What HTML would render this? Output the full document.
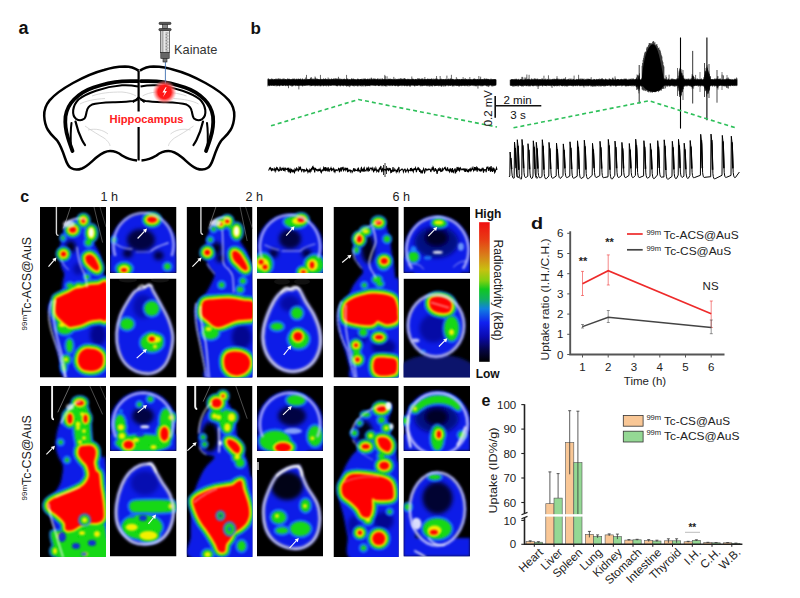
<!DOCTYPE html>
<html><head><meta charset="utf-8"><style>
html,body{margin:0;padding:0;background:#fff;}
body{width:800px;height:598px;overflow:hidden;font-family:"Liberation Sans",sans-serif;}
svg{display:block;}
</style></head><body>
<svg width="800" height="598" viewBox="0 0 800 598">
<rect width="800" height="598" fill="#fff"/>
<g>
<defs><filter id="bl2" x="-20%" y="-20%" width="140%" height="140%"><feGaussianBlur stdDeviation="2"/></filter><filter id="bl15" x="-20%" y="-20%" width="140%" height="140%"><feGaussianBlur stdDeviation="1.4"/></filter><filter id="bl12" x="-20%" y="-20%" width="140%" height="140%"><feGaussianBlur stdDeviation="1.3"/></filter><filter id="bl1" x="-20%" y="-20%" width="140%" height="140%"><feGaussianBlur stdDeviation="1.1"/></filter><filter id="bl08" x="-20%" y="-20%" width="140%" height="140%"><feGaussianBlur stdDeviation="0.9"/></filter><filter id="bl06" x="-20%" y="-20%" width="140%" height="140%"><feGaussianBlur stdDeviation="0.85"/></filter><filter id="bl05" x="-20%" y="-20%" width="140%" height="140%"><feGaussianBlur stdDeviation="0.8"/></filter><linearGradient id="cbar" x1="0" y1="0" x2="0" y2="1"><stop offset="0" stop-color="#f01010"/><stop offset="0.12" stop-color="#e83a14"/><stop offset="0.24" stop-color="#d8801a"/><stop offset="0.34" stop-color="#c8c010"/><stop offset="0.42" stop-color="#80d010"/><stop offset="0.48" stop-color="#10c820"/><stop offset="0.55" stop-color="#10b060"/><stop offset="0.62" stop-color="#1080e0"/><stop offset="0.72" stop-color="#1020f0"/><stop offset="0.82" stop-color="#0a0ab0"/><stop offset="0.92" stop-color="#050540"/><stop offset="1" stop-color="#000"/></linearGradient></defs>
<text x="20.2" y="201.8" font-family="Liberation Sans, sans-serif" font-weight="bold" font-size="16" fill="#111">c</text>
<text x="100.6" y="201.3" font-family="Liberation Sans, sans-serif" font-size="12.6" fill="#222">1 h</text>
<text x="245.4" y="201.3" font-family="Liberation Sans, sans-serif" font-size="12.6" fill="#222">2 h</text>
<text x="392.4" y="201.3" font-family="Liberation Sans, sans-serif" font-size="12.6" fill="#222">6 h</text>
<text transform="translate(31.2,330.5) rotate(-90)" font-family="Liberation Sans, sans-serif" font-size="12.4" fill="#222"><tspan font-size="8" dy="-4.3">99m</tspan><tspan dy="4.3">Tc-ACS@AuS</tspan></text>
<text transform="translate(31.2,500.5) rotate(-90)" font-family="Liberation Sans, sans-serif" font-size="12.4" fill="#222"><tspan font-size="8" dy="-4.3">99m</tspan><tspan dy="4.3">Tc-CS@AuS</tspan></text>
<rect x="479.1" y="222.2" width="10.6" height="139.6" fill="url(#cbar)"/>
<text x="474.7" y="217.8" font-family="Liberation Sans, sans-serif" font-weight="bold" font-size="12" fill="#111">High</text>
<text x="475.7" y="377.6" font-family="Liberation Sans, sans-serif" font-weight="bold" font-size="12" fill="#111">Low</text>
<text transform="translate(494,239.5) rotate(90)" font-family="Liberation Sans, sans-serif" font-size="12.2" fill="#222" textLength="101" lengthAdjust="spacingAndGlyphs">Radioactivity (kBq)</text>
<g transform="translate(40.0,207.0)"><clipPath id="cpa1"><rect width="66.0" height="170.6"/></clipPath><g clip-path="url(#cpa1)"><rect width="66.0" height="170.6" fill="#000"/><path d="M16.4,0 V26 Q16.6,28.6 18.5,28.4" fill="none" stroke="#d8d8d8" stroke-width="1.4"/><path d="M30.6,0 L23.5,21.3" fill="none" stroke="#707070" stroke-width="0.8"/><path d="M54,0 L62.6,35.6" fill="none" stroke="#606060" stroke-width="0.8"/><path d="M60,0 L66,20" fill="none" stroke="#505050" stroke-width="0.7"/><g filter="url(#bl15)"><path d="M44.0,10.5 C46.0,10.8 46.0,11.8 47.0,13.0 C48.0,14.2 48.8,14.2 50.0,18.0 C51.2,21.8 52.4,30.8 54.0,35.6 C55.6,40.4 58.3,42.3 59.7,47.0 C61.1,51.7 61.6,59.5 62.6,64.0 C63.6,68.5 65.3,68.0 66.0,74.0 C66.7,80.0 66.8,83.7 67.0,100.0 C67.2,116.3 73.8,160.0 67.0,172.0 C60.2,184.0 34.0,175.7 26.0,172.0 C18.0,168.3 20.9,157.8 18.7,150.0 C16.5,142.2 14.7,132.5 13.0,125.0 C11.3,117.5 9.3,109.7 8.6,105.0 C7.9,100.3 8.1,99.3 9.0,97.0 C9.9,94.7 12.0,93.0 14.0,91.0 C16.0,89.0 19.5,87.8 21.0,85.0 C22.5,82.2 22.3,77.0 22.8,74.0 C23.3,71.0 24.4,69.3 24.2,66.9 C23.9,64.5 22.1,63.3 21.3,59.7 C20.5,56.1 19.2,49.6 19.2,45.5 C19.1,41.4 20.3,38.6 21.0,35.0 C21.7,31.4 22.3,27.2 23.5,24.0 C24.7,20.8 26.1,18.1 28.0,16.0 C29.9,13.9 32.3,12.4 35.0,11.5 C37.7,10.6 42.0,10.2 44.0,10.5 Z" fill="#0a1ee8"/></g><g filter="url(#bl2)"><ellipse cx="30.6" cy="39.8" rx="5" ry="6" fill="#000010" opacity="0.95"/><ellipse cx="58" cy="128" rx="8" ry="11" fill="#00087a" opacity="0.8"/><ellipse cx="38" cy="62" rx="5" ry="6" fill="#00087a" opacity="0.6"/></g><g filter="url(#bl12)" opacity="0.75"><ellipse cx="32.7" cy="22.8" rx="9.0" ry="8.5" fill="#1e90ff"/><ellipse cx="43.4" cy="13.5" rx="7.5" ry="8.0" fill="#1e90ff"/><ellipse cx="51.2" cy="26" rx="7.7" ry="10.2" fill="#1e90ff"/><ellipse cx="23.5" cy="47" rx="8.1" ry="8.1" fill="#1e90ff"/><path d="M46.0,49.0 C46.8,48.2 48.7,47.3 50.0,47.5 C51.3,47.7 52.8,48.8 54.0,50.0 C55.2,51.2 56.2,53.3 57.0,55.0 C57.8,56.7 58.8,58.6 59.0,60.0 C59.2,61.4 58.7,63.0 58.0,63.5 C57.3,64.0 56.2,63.6 55.0,63.0 C53.8,62.4 52.3,61.2 51.0,60.0 C49.7,58.8 47.9,57.3 47.0,56.0 C46.1,54.7 45.7,53.2 45.5,52.0 C45.3,50.8 45.2,49.8 46.0,49.0 Z" fill="#1e90ff" stroke="#1e90ff" stroke-width="11.0" stroke-linejoin="round"/><path d="M15.8,93.6 C16.1,91.0 16.3,91.6 17.3,90.8 C18.3,90.0 20.1,89.4 22.0,88.5 C23.9,87.6 26.6,86.6 28.8,85.5 C31.0,84.4 32.6,82.8 35.0,82.0 C37.4,81.2 40.5,81.2 43.0,80.5 C45.5,79.8 47.5,78.5 50.0,78.0 C52.5,77.5 55.2,77.7 58.0,77.5 C60.8,77.3 65.5,71.4 67.0,77.0 C68.5,82.6 68.2,105.1 67.0,111.0 C65.8,116.9 62.8,112.0 60.0,112.5 C57.2,113.0 53.4,113.0 50.4,113.8 C47.4,114.6 44.9,116.5 42.0,117.5 C39.1,118.5 35.2,119.2 33.0,119.5 C30.8,119.8 30.7,120.5 28.8,119.5 C26.9,118.5 23.8,116.0 21.6,113.8 C19.4,111.6 16.8,110.0 15.8,106.6 C14.8,103.2 15.6,96.2 15.8,93.6 Z" fill="#1e90ff" stroke="#1e90ff" stroke-width="11.0" stroke-linejoin="round"/><path d="M38.0,152.0 C38.2,150.0 38.8,147.7 40.0,146.0 C41.2,144.3 43.2,142.7 45.0,142.0 C46.8,141.3 49.0,141.6 51.0,141.8 C53.0,142.0 55.2,142.1 57.0,143.0 C58.8,143.9 61.0,145.3 62.0,147.0 C63.0,148.7 63.3,151.0 63.3,153.0 C63.3,155.0 63.0,157.3 62.0,159.0 C61.0,160.7 59.0,162.2 57.0,163.0 C55.0,163.8 52.3,164.1 50.0,164.0 C47.7,163.9 44.8,163.5 43.0,162.5 C41.2,161.5 39.8,159.8 39.0,158.0 C38.2,156.2 37.8,154.0 38.0,152.0 Z" fill="#1e90ff" stroke="#1e90ff" stroke-width="11.0" stroke-linejoin="round"/><ellipse cx="29.5" cy="138.7" rx="5.4" ry="8.9" fill="#1e90ff"/><ellipse cx="25" cy="121" rx="10.4" ry="8.4" fill="#1e90ff"/><ellipse cx="22" cy="118" rx="7.2" ry="6.2" fill="#1e90ff"/><ellipse cx="26" cy="152.6" rx="6.2" ry="6.2" fill="#1e90ff"/><ellipse cx="48.4" cy="35.6" rx="5.4" ry="5.4" fill="#1e90ff"/><ellipse cx="23" cy="31" rx="3.9" ry="4.4" fill="#1e90ff"/><ellipse cx="39" cy="80" rx="7.2" ry="6.2" fill="#1e90ff"/><ellipse cx="30" cy="78.5" rx="5.4" ry="4.4" fill="#1e90ff"/><ellipse cx="47" cy="70" rx="4.4" ry="4.4" fill="#1e90ff"/><ellipse cx="24" cy="160" rx="4.4" ry="6.4" fill="#1e90ff"/></g><g filter="url(#bl1)"><ellipse cx="32.7" cy="22.8" rx="7.2" ry="6.7" fill="#12d812"/><ellipse cx="43.4" cy="13.5" rx="5.7" ry="6.2" fill="#12d812"/><ellipse cx="51.2" cy="26" rx="5.5" ry="8.0" fill="#12d812"/><ellipse cx="23.5" cy="47" rx="6.3" ry="6.3" fill="#12d812"/><path d="M46.0,49.0 C46.8,48.2 48.7,47.3 50.0,47.5 C51.3,47.7 52.8,48.8 54.0,50.0 C55.2,51.2 56.2,53.3 57.0,55.0 C57.8,56.7 58.8,58.6 59.0,60.0 C59.2,61.4 58.7,63.0 58.0,63.5 C57.3,64.0 56.2,63.6 55.0,63.0 C53.8,62.4 52.3,61.2 51.0,60.0 C49.7,58.8 47.9,57.3 47.0,56.0 C46.1,54.7 45.7,53.2 45.5,52.0 C45.3,50.8 45.2,49.8 46.0,49.0 Z" fill="#12d812" stroke="#12d812" stroke-width="7.4" stroke-linejoin="round"/><path d="M15.8,93.6 C16.1,91.0 16.3,91.6 17.3,90.8 C18.3,90.0 20.1,89.4 22.0,88.5 C23.9,87.6 26.6,86.6 28.8,85.5 C31.0,84.4 32.6,82.8 35.0,82.0 C37.4,81.2 40.5,81.2 43.0,80.5 C45.5,79.8 47.5,78.5 50.0,78.0 C52.5,77.5 55.2,77.7 58.0,77.5 C60.8,77.3 65.5,71.4 67.0,77.0 C68.5,82.6 68.2,105.1 67.0,111.0 C65.8,116.9 62.8,112.0 60.0,112.5 C57.2,113.0 53.4,113.0 50.4,113.8 C47.4,114.6 44.9,116.5 42.0,117.5 C39.1,118.5 35.2,119.2 33.0,119.5 C30.8,119.8 30.7,120.5 28.8,119.5 C26.9,118.5 23.8,116.0 21.6,113.8 C19.4,111.6 16.8,110.0 15.8,106.6 C14.8,103.2 15.6,96.2 15.8,93.6 Z" fill="#12d812" stroke="#12d812" stroke-width="7.4" stroke-linejoin="round"/><path d="M38.0,152.0 C38.2,150.0 38.8,147.7 40.0,146.0 C41.2,144.3 43.2,142.7 45.0,142.0 C46.8,141.3 49.0,141.6 51.0,141.8 C53.0,142.0 55.2,142.1 57.0,143.0 C58.8,143.9 61.0,145.3 62.0,147.0 C63.0,148.7 63.3,151.0 63.3,153.0 C63.3,155.0 63.0,157.3 62.0,159.0 C61.0,160.7 59.0,162.2 57.0,163.0 C55.0,163.8 52.3,164.1 50.0,164.0 C47.7,163.9 44.8,163.5 43.0,162.5 C41.2,161.5 39.8,159.8 39.0,158.0 C38.2,156.2 37.8,154.0 38.0,152.0 Z" fill="#12d812" stroke="#12d812" stroke-width="7.4" stroke-linejoin="round"/><ellipse cx="29.5" cy="138.7" rx="3.0" ry="6.5" fill="#12d812"/><ellipse cx="25" cy="121" rx="8.0" ry="6.0" fill="#12d812"/><ellipse cx="22" cy="118" rx="5.0" ry="4.0" fill="#12d812"/><ellipse cx="26" cy="152.6" rx="4.0" ry="4.0" fill="#12d812"/><ellipse cx="48.4" cy="35.6" rx="3.0" ry="3.0" fill="#12d812"/><ellipse cx="23" cy="31" rx="1.5" ry="2.0" fill="#12d812"/><ellipse cx="39" cy="80" rx="5.0" ry="4.0" fill="#12d812"/><ellipse cx="30" cy="78.5" rx="3.0" ry="2.0" fill="#12d812"/><ellipse cx="47" cy="70" rx="2.0" ry="2.0" fill="#12d812"/><ellipse cx="24" cy="160" rx="2.0" ry="4.0" fill="#12d812"/></g><g filter="url(#bl08)"><ellipse cx="32.7" cy="22.8" rx="5.4" ry="4.9" fill="#f2f000"/><ellipse cx="43.4" cy="13.5" rx="3.9" ry="4.4" fill="#f2f000"/><ellipse cx="51.2" cy="26" rx="3.5" ry="6.0" fill="#f2f000"/><ellipse cx="23.5" cy="47" rx="4.5" ry="4.5" fill="#f2f000"/><path d="M46.0,49.0 C46.8,48.2 48.7,47.3 50.0,47.5 C51.3,47.7 52.8,48.8 54.0,50.0 C55.2,51.2 56.2,53.3 57.0,55.0 C57.8,56.7 58.8,58.6 59.0,60.0 C59.2,61.4 58.7,63.0 58.0,63.5 C57.3,64.0 56.2,63.6 55.0,63.0 C53.8,62.4 52.3,61.2 51.0,60.0 C49.7,58.8 47.9,57.3 47.0,56.0 C46.1,54.7 45.7,53.2 45.5,52.0 C45.3,50.8 45.2,49.8 46.0,49.0 Z" fill="#f2f000" stroke="#f2f000" stroke-width="3.8" stroke-linejoin="round"/><path d="M15.8,93.6 C16.1,91.0 16.3,91.6 17.3,90.8 C18.3,90.0 20.1,89.4 22.0,88.5 C23.9,87.6 26.6,86.6 28.8,85.5 C31.0,84.4 32.6,82.8 35.0,82.0 C37.4,81.2 40.5,81.2 43.0,80.5 C45.5,79.8 47.5,78.5 50.0,78.0 C52.5,77.5 55.2,77.7 58.0,77.5 C60.8,77.3 65.5,71.4 67.0,77.0 C68.5,82.6 68.2,105.1 67.0,111.0 C65.8,116.9 62.8,112.0 60.0,112.5 C57.2,113.0 53.4,113.0 50.4,113.8 C47.4,114.6 44.9,116.5 42.0,117.5 C39.1,118.5 35.2,119.2 33.0,119.5 C30.8,119.8 30.7,120.5 28.8,119.5 C26.9,118.5 23.8,116.0 21.6,113.8 C19.4,111.6 16.8,110.0 15.8,106.6 C14.8,103.2 15.6,96.2 15.8,93.6 Z" fill="#f2f000" stroke="#f2f000" stroke-width="3.8" stroke-linejoin="round"/><path d="M38.0,152.0 C38.2,150.0 38.8,147.7 40.0,146.0 C41.2,144.3 43.2,142.7 45.0,142.0 C46.8,141.3 49.0,141.6 51.0,141.8 C53.0,142.0 55.2,142.1 57.0,143.0 C58.8,143.9 61.0,145.3 62.0,147.0 C63.0,148.7 63.3,151.0 63.3,153.0 C63.3,155.0 63.0,157.3 62.0,159.0 C61.0,160.7 59.0,162.2 57.0,163.0 C55.0,163.8 52.3,164.1 50.0,164.0 C47.7,163.9 44.8,163.5 43.0,162.5 C41.2,161.5 39.8,159.8 39.0,158.0 C38.2,156.2 37.8,154.0 38.0,152.0 Z" fill="#f2f000" stroke="#f2f000" stroke-width="3.8" stroke-linejoin="round"/><ellipse cx="22" cy="118" rx="3.0" ry="2.0" fill="#f2f000"/><ellipse cx="26" cy="152.6" rx="2.0" ry="2.0" fill="#f2f000"/><ellipse cx="39" cy="80" rx="3.0" ry="2.0" fill="#f2f000"/></g><g filter="url(#bl06)"><ellipse cx="32.7" cy="22.8" rx="3.5" ry="3.0" fill="#ff0000"/><ellipse cx="43.4" cy="13.5" rx="2.0" ry="2.5" fill="#ff0000"/><ellipse cx="23.5" cy="47" rx="2.6" ry="2.6" fill="#ff0000"/><path d="M46.0,49.0 C46.8,48.2 48.7,47.3 50.0,47.5 C51.3,47.7 52.8,48.8 54.0,50.0 C55.2,51.2 56.2,53.3 57.0,55.0 C57.8,56.7 58.8,58.6 59.0,60.0 C59.2,61.4 58.7,63.0 58.0,63.5 C57.3,64.0 56.2,63.6 55.0,63.0 C53.8,62.4 52.3,61.2 51.0,60.0 C49.7,58.8 47.9,57.3 47.0,56.0 C46.1,54.7 45.7,53.2 45.5,52.0 C45.3,50.8 45.2,49.8 46.0,49.0 Z" fill="#ff0000"/><path d="M15.8,93.6 C16.1,91.0 16.3,91.6 17.3,90.8 C18.3,90.0 20.1,89.4 22.0,88.5 C23.9,87.6 26.6,86.6 28.8,85.5 C31.0,84.4 32.6,82.8 35.0,82.0 C37.4,81.2 40.5,81.2 43.0,80.5 C45.5,79.8 47.5,78.5 50.0,78.0 C52.5,77.5 55.2,77.7 58.0,77.5 C60.8,77.3 65.5,71.4 67.0,77.0 C68.5,82.6 68.2,105.1 67.0,111.0 C65.8,116.9 62.8,112.0 60.0,112.5 C57.2,113.0 53.4,113.0 50.4,113.8 C47.4,114.6 44.9,116.5 42.0,117.5 C39.1,118.5 35.2,119.2 33.0,119.5 C30.8,119.8 30.7,120.5 28.8,119.5 C26.9,118.5 23.8,116.0 21.6,113.8 C19.4,111.6 16.8,110.0 15.8,106.6 C14.8,103.2 15.6,96.2 15.8,93.6 Z" fill="#ff0000"/><path d="M38.0,152.0 C38.2,150.0 38.8,147.7 40.0,146.0 C41.2,144.3 43.2,142.7 45.0,142.0 C46.8,141.3 49.0,141.6 51.0,141.8 C53.0,142.0 55.2,142.1 57.0,143.0 C58.8,143.9 61.0,145.3 62.0,147.0 C63.0,148.7 63.3,151.0 63.3,153.0 C63.3,155.0 63.0,157.3 62.0,159.0 C61.0,160.7 59.0,162.2 57.0,163.0 C55.0,163.8 52.3,164.1 50.0,164.0 C47.7,163.9 44.8,163.5 43.0,162.5 C41.2,161.5 39.8,159.8 39.0,158.0 C38.2,156.2 37.8,154.0 38.0,152.0 Z" fill="#ff0000"/></g><g filter="url(#bl1)"><ellipse cx="51.2" cy="25.6" rx="2.3" ry="4.6" fill="#fff" opacity="0.95"/><ellipse cx="29" cy="17" rx="6" ry="3.5" fill="#e8e8ff" opacity="0.75"/></g><g filter="url(#bl05)"><path d="M23.5,21.3 C26,16 30,13 35,12 C39,11 42,10.5 45.5,12.8" fill="none" stroke="#fff" stroke-width="1.3" stroke-opacity="0.9" stroke-linecap="round"/><path d="M21,52 C23,57 25,60 28.4,62.6" fill="none" stroke="#fff" stroke-width="1.0" stroke-opacity="0.8" stroke-linecap="round"/><path d="M37,40 C38,50 40,58 42,62 C45,67 46.5,73 47,80" fill="none" stroke="#fff" stroke-width="1.1" stroke-opacity="0.85" stroke-linecap="round"/><path d="M12,94 C9,100 8.5,108 9.5,115 C11,125 15,135 18.7,145 C21,155 23.5,163 25,171" fill="none" stroke="#fff" stroke-width="1.6" stroke-opacity="0.75" stroke-linecap="round" stroke-dasharray="2,1.6"/><path d="M15,93 C13.5,100 13,110 14.5,118 C16.5,130 20,140 22.5,150 C24,158 25,165 26,171" fill="none" stroke="#fff" stroke-width="1.3" stroke-opacity="0.9" stroke-linecap="round"/></g><line x1="8.5" y1="59.7" x2="13.9" y2="53.4" stroke="#fff" stroke-width="1.1"/><path d="M16.4,50.5 L15.5,54.8 L12.3,52.0 Z" fill="#fff"/></g></g>
<g transform="translate(186.6,207.0)"><clipPath id="cpb1"><rect width="65.9" height="170.6"/></clipPath><g clip-path="url(#cpb1)"><rect width="65.9" height="170.6" fill="#000"/><path d="M14.3,0 V25 Q14.5,27.5 16.5,27.3" fill="none" stroke="#d8d8d8" stroke-width="1.4"/><path d="M29.3,0 L22.9,18.5" fill="none" stroke="#707070" stroke-width="0.8"/><path d="M53.5,0 L60.6,34" fill="none" stroke="#606060" stroke-width="0.8"/><path d="M59,0 L65.9,22" fill="none" stroke="#505050" stroke-width="0.7"/><g filter="url(#bl15)"><path d="M40.7,9.5 C42.7,9.4 42.8,9.5 44.0,11.0 C45.2,12.5 46.2,14.7 47.8,18.5 C49.4,22.3 51.4,29.5 53.5,34.0 C55.6,38.5 58.7,41.2 60.6,45.5 C62.5,49.8 63.8,56.1 64.8,59.7 C65.8,63.3 66.0,48.3 66.4,67.0 C66.8,85.7 74.6,154.5 67.0,172.0 C59.4,189.5 29.2,174.0 21.0,172.0 C12.8,170.0 19.0,164.9 18.0,160.0 C17.0,155.1 16.2,148.3 15.0,142.5 C13.8,136.7 12.1,130.4 11.0,125.0 C9.9,119.6 8.9,114.2 8.5,110.0 C8.1,105.8 7.9,102.7 8.5,100.0 C9.1,97.3 10.4,96.0 12.0,94.0 C13.6,92.0 16.0,90.7 18.0,88.0 C20.0,85.3 22.4,81.3 24.0,78.0 C25.6,74.7 27.8,70.6 27.9,68.0 C27.9,65.4 25.5,64.5 24.3,62.6 C23.1,60.8 21.6,60.2 20.7,56.9 C19.8,53.6 18.7,46.9 18.6,42.7 C18.5,38.6 19.3,35.1 20.0,32.0 C20.7,28.9 21.9,26.5 22.9,24.0 C23.9,21.5 24.5,19.1 26.0,17.0 C27.5,14.9 29.7,12.7 32.1,11.4 C34.6,10.2 38.7,9.6 40.7,9.5 Z" fill="#0a1ee8"/></g><g filter="url(#bl2)"><ellipse cx="30" cy="41.3" rx="5" ry="6" fill="#000010" opacity="0.95"/><ellipse cx="33.5" cy="51.2" rx="4" ry="4" fill="#000020" opacity="0.9"/><ellipse cx="55" cy="130" rx="10" ry="12" fill="#00087a" opacity="0.8"/></g><g filter="url(#bl12)" opacity="0.75"><ellipse cx="40.7" cy="14.2" rx="7.5" ry="7.5" fill="#1e90ff"/><ellipse cx="34.3" cy="17" rx="7.0" ry="7.0" fill="#1e90ff"/><ellipse cx="49.9" cy="24.5" rx="7.7" ry="10.2" fill="#1e90ff"/><ellipse cx="23.6" cy="32.7" rx="4.4" ry="4.4" fill="#1e90ff"/><ellipse cx="20.7" cy="45.5" rx="8.3" ry="8.3" fill="#1e90ff"/><path d="M46.0,45.0 C46.5,44.0 47.8,43.8 49.0,44.0 C50.2,44.2 51.8,45.3 53.0,46.5 C54.2,47.7 55.0,49.4 56.0,51.0 C57.0,52.6 58.2,54.3 59.0,56.0 C59.8,57.7 60.9,59.8 61.0,61.0 C61.1,62.2 60.3,63.3 59.5,63.5 C58.7,63.7 57.2,62.9 56.0,62.0 C54.8,61.1 53.3,59.3 52.0,58.0 C50.7,56.7 49.0,55.3 48.0,54.0 C47.0,52.7 46.3,51.5 46.0,50.0 C45.7,48.5 45.5,46.0 46.0,45.0 Z" fill="#1e90ff" stroke="#1e90ff" stroke-width="11.0" stroke-linejoin="round"/><path d="M15.2,99.4 C15.7,97.0 15.9,94.8 18.1,93.6 C20.3,92.4 24.1,92.5 28.2,92.2 C32.3,91.9 37.7,91.3 42.5,91.5 C47.3,91.7 52.9,92.8 57.0,93.6 C61.1,94.3 65.3,93.3 67.0,96.0 C68.7,98.7 67.5,107.3 67.0,110.0 C66.5,112.7 67.0,111.7 64.1,112.3 C61.2,112.9 54.5,112.6 49.7,113.8 C44.9,115.0 38.9,118.5 35.3,119.5 C31.7,120.5 30.6,120.5 28.2,119.5 C25.8,118.5 23.2,115.7 21.0,113.8 C18.8,111.9 16.2,110.4 15.2,108.0 C14.2,105.6 14.7,101.8 15.2,99.4 Z" fill="#1e90ff" stroke="#1e90ff" stroke-width="11.0" stroke-linejoin="round"/><ellipse cx="24" cy="126" rx="10.4" ry="8.4" fill="#1e90ff"/><ellipse cx="22" cy="122" rx="7.2" ry="6.2" fill="#1e90ff"/><path d="M38.0,150.0 C38.6,148.3 39.5,146.9 41.0,146.0 C42.5,145.1 44.8,144.7 47.0,144.5 C49.2,144.3 51.8,144.4 54.0,145.0 C56.2,145.6 58.4,146.5 60.0,148.0 C61.6,149.5 63.0,151.8 63.4,154.0 C63.8,156.2 63.4,159.0 62.5,161.0 C61.6,163.0 59.9,164.8 58.0,166.0 C56.1,167.2 53.3,168.2 51.0,168.4 C48.7,168.6 46.0,168.1 44.0,167.0 C42.0,165.9 40.1,163.8 39.0,162.0 C37.9,160.2 37.7,158.0 37.5,156.0 C37.3,154.0 37.4,151.7 38.0,150.0 Z" fill="#1e90ff" stroke="#1e90ff" stroke-width="11.0" stroke-linejoin="round"/><ellipse cx="35" cy="78" rx="4.9" ry="4.9" fill="#1e90ff"/><ellipse cx="56.3" cy="74" rx="4.9" ry="4.9" fill="#1e90ff"/><ellipse cx="53.5" cy="82.5" rx="5.4" ry="4.9" fill="#1e90ff"/><ellipse cx="27" cy="22" rx="4.4" ry="4.4" fill="#1e90ff"/><ellipse cx="44" cy="20" rx="4.4" ry="4.4" fill="#1e90ff"/></g><g filter="url(#bl1)"><ellipse cx="40.7" cy="14.2" rx="5.7" ry="5.7" fill="#12d812"/><ellipse cx="34.3" cy="17" rx="5.2" ry="5.2" fill="#12d812"/><ellipse cx="49.9" cy="24.5" rx="5.5" ry="8.0" fill="#12d812"/><ellipse cx="23.6" cy="32.7" rx="2.0" ry="2.0" fill="#12d812"/><ellipse cx="20.7" cy="45.5" rx="6.5" ry="6.5" fill="#12d812"/><path d="M46.0,45.0 C46.5,44.0 47.8,43.8 49.0,44.0 C50.2,44.2 51.8,45.3 53.0,46.5 C54.2,47.7 55.0,49.4 56.0,51.0 C57.0,52.6 58.2,54.3 59.0,56.0 C59.8,57.7 60.9,59.8 61.0,61.0 C61.1,62.2 60.3,63.3 59.5,63.5 C58.7,63.7 57.2,62.9 56.0,62.0 C54.8,61.1 53.3,59.3 52.0,58.0 C50.7,56.7 49.0,55.3 48.0,54.0 C47.0,52.7 46.3,51.5 46.0,50.0 C45.7,48.5 45.5,46.0 46.0,45.0 Z" fill="#12d812" stroke="#12d812" stroke-width="7.4" stroke-linejoin="round"/><path d="M15.2,99.4 C15.7,97.0 15.9,94.8 18.1,93.6 C20.3,92.4 24.1,92.5 28.2,92.2 C32.3,91.9 37.7,91.3 42.5,91.5 C47.3,91.7 52.9,92.8 57.0,93.6 C61.1,94.3 65.3,93.3 67.0,96.0 C68.7,98.7 67.5,107.3 67.0,110.0 C66.5,112.7 67.0,111.7 64.1,112.3 C61.2,112.9 54.5,112.6 49.7,113.8 C44.9,115.0 38.9,118.5 35.3,119.5 C31.7,120.5 30.6,120.5 28.2,119.5 C25.8,118.5 23.2,115.7 21.0,113.8 C18.8,111.9 16.2,110.4 15.2,108.0 C14.2,105.6 14.7,101.8 15.2,99.4 Z" fill="#12d812" stroke="#12d812" stroke-width="7.4" stroke-linejoin="round"/><ellipse cx="24" cy="126" rx="8.0" ry="6.0" fill="#12d812"/><ellipse cx="22" cy="122" rx="5.0" ry="4.0" fill="#12d812"/><path d="M38.0,150.0 C38.6,148.3 39.5,146.9 41.0,146.0 C42.5,145.1 44.8,144.7 47.0,144.5 C49.2,144.3 51.8,144.4 54.0,145.0 C56.2,145.6 58.4,146.5 60.0,148.0 C61.6,149.5 63.0,151.8 63.4,154.0 C63.8,156.2 63.4,159.0 62.5,161.0 C61.6,163.0 59.9,164.8 58.0,166.0 C56.1,167.2 53.3,168.2 51.0,168.4 C48.7,168.6 46.0,168.1 44.0,167.0 C42.0,165.9 40.1,163.8 39.0,162.0 C37.9,160.2 37.7,158.0 37.5,156.0 C37.3,154.0 37.4,151.7 38.0,150.0 Z" fill="#12d812" stroke="#12d812" stroke-width="7.4" stroke-linejoin="round"/><ellipse cx="35" cy="78" rx="2.5" ry="2.5" fill="#12d812"/><ellipse cx="56.3" cy="74" rx="2.5" ry="2.5" fill="#12d812"/><ellipse cx="53.5" cy="82.5" rx="3.0" ry="2.5" fill="#12d812"/><ellipse cx="27" cy="22" rx="2.0" ry="2.0" fill="#12d812"/><ellipse cx="44" cy="20" rx="2.0" ry="2.0" fill="#12d812"/></g><g filter="url(#bl08)"><ellipse cx="40.7" cy="14.2" rx="3.9" ry="3.9" fill="#f2f000"/><ellipse cx="34.3" cy="17" rx="3.4" ry="3.4" fill="#f2f000"/><ellipse cx="49.9" cy="24.5" rx="3.5" ry="6.0" fill="#f2f000"/><ellipse cx="20.7" cy="45.5" rx="4.7" ry="4.7" fill="#f2f000"/><path d="M46.0,45.0 C46.5,44.0 47.8,43.8 49.0,44.0 C50.2,44.2 51.8,45.3 53.0,46.5 C54.2,47.7 55.0,49.4 56.0,51.0 C57.0,52.6 58.2,54.3 59.0,56.0 C59.8,57.7 60.9,59.8 61.0,61.0 C61.1,62.2 60.3,63.3 59.5,63.5 C58.7,63.7 57.2,62.9 56.0,62.0 C54.8,61.1 53.3,59.3 52.0,58.0 C50.7,56.7 49.0,55.3 48.0,54.0 C47.0,52.7 46.3,51.5 46.0,50.0 C45.7,48.5 45.5,46.0 46.0,45.0 Z" fill="#f2f000" stroke="#f2f000" stroke-width="3.8" stroke-linejoin="round"/><path d="M15.2,99.4 C15.7,97.0 15.9,94.8 18.1,93.6 C20.3,92.4 24.1,92.5 28.2,92.2 C32.3,91.9 37.7,91.3 42.5,91.5 C47.3,91.7 52.9,92.8 57.0,93.6 C61.1,94.3 65.3,93.3 67.0,96.0 C68.7,98.7 67.5,107.3 67.0,110.0 C66.5,112.7 67.0,111.7 64.1,112.3 C61.2,112.9 54.5,112.6 49.7,113.8 C44.9,115.0 38.9,118.5 35.3,119.5 C31.7,120.5 30.6,120.5 28.2,119.5 C25.8,118.5 23.2,115.7 21.0,113.8 C18.8,111.9 16.2,110.4 15.2,108.0 C14.2,105.6 14.7,101.8 15.2,99.4 Z" fill="#f2f000" stroke="#f2f000" stroke-width="3.8" stroke-linejoin="round"/><ellipse cx="22" cy="122" rx="3.0" ry="2.0" fill="#f2f000"/><path d="M38.0,150.0 C38.6,148.3 39.5,146.9 41.0,146.0 C42.5,145.1 44.8,144.7 47.0,144.5 C49.2,144.3 51.8,144.4 54.0,145.0 C56.2,145.6 58.4,146.5 60.0,148.0 C61.6,149.5 63.0,151.8 63.4,154.0 C63.8,156.2 63.4,159.0 62.5,161.0 C61.6,163.0 59.9,164.8 58.0,166.0 C56.1,167.2 53.3,168.2 51.0,168.4 C48.7,168.6 46.0,168.1 44.0,167.0 C42.0,165.9 40.1,163.8 39.0,162.0 C37.9,160.2 37.7,158.0 37.5,156.0 C37.3,154.0 37.4,151.7 38.0,150.0 Z" fill="#f2f000" stroke="#f2f000" stroke-width="3.8" stroke-linejoin="round"/></g><g filter="url(#bl06)"><ellipse cx="40.7" cy="14.2" rx="2.0" ry="2.0" fill="#ff0000"/><ellipse cx="34.3" cy="17" rx="1.5" ry="1.5" fill="#ff0000"/><ellipse cx="20.7" cy="45.5" rx="2.8" ry="2.8" fill="#ff0000"/><path d="M46.0,45.0 C46.5,44.0 47.8,43.8 49.0,44.0 C50.2,44.2 51.8,45.3 53.0,46.5 C54.2,47.7 55.0,49.4 56.0,51.0 C57.0,52.6 58.2,54.3 59.0,56.0 C59.8,57.7 60.9,59.8 61.0,61.0 C61.1,62.2 60.3,63.3 59.5,63.5 C58.7,63.7 57.2,62.9 56.0,62.0 C54.8,61.1 53.3,59.3 52.0,58.0 C50.7,56.7 49.0,55.3 48.0,54.0 C47.0,52.7 46.3,51.5 46.0,50.0 C45.7,48.5 45.5,46.0 46.0,45.0 Z" fill="#ff0000"/><path d="M15.2,99.4 C15.7,97.0 15.9,94.8 18.1,93.6 C20.3,92.4 24.1,92.5 28.2,92.2 C32.3,91.9 37.7,91.3 42.5,91.5 C47.3,91.7 52.9,92.8 57.0,93.6 C61.1,94.3 65.3,93.3 67.0,96.0 C68.7,98.7 67.5,107.3 67.0,110.0 C66.5,112.7 67.0,111.7 64.1,112.3 C61.2,112.9 54.5,112.6 49.7,113.8 C44.9,115.0 38.9,118.5 35.3,119.5 C31.7,120.5 30.6,120.5 28.2,119.5 C25.8,118.5 23.2,115.7 21.0,113.8 C18.8,111.9 16.2,110.4 15.2,108.0 C14.2,105.6 14.7,101.8 15.2,99.4 Z" fill="#ff0000"/><path d="M38.0,150.0 C38.6,148.3 39.5,146.9 41.0,146.0 C42.5,145.1 44.8,144.7 47.0,144.5 C49.2,144.3 51.8,144.4 54.0,145.0 C56.2,145.6 58.4,146.5 60.0,148.0 C61.6,149.5 63.0,151.8 63.4,154.0 C63.8,156.2 63.4,159.0 62.5,161.0 C61.6,163.0 59.9,164.8 58.0,166.0 C56.1,167.2 53.3,168.2 51.0,168.4 C48.7,168.6 46.0,168.1 44.0,167.0 C42.0,165.9 40.1,163.8 39.0,162.0 C37.9,160.2 37.7,158.0 37.5,156.0 C37.3,154.0 37.4,151.7 38.0,150.0 Z" fill="#ff0000"/></g><g filter="url(#bl1)"><ellipse cx="49.9" cy="24.2" rx="2.3" ry="4.6" fill="#fff" opacity="0.95"/><ellipse cx="29" cy="16" rx="5.5" ry="3.2" fill="#e8e8ff" opacity="0.75"/></g><g filter="url(#bl05)"><path d="M22.9,21.3 C25,16 28,12.5 32.1,11.4 C36,10 39,9.8 43.5,12" fill="none" stroke="#fff" stroke-width="1.3" stroke-opacity="0.9" stroke-linecap="round"/><path d="M35.7,22.8 C36.2,30 36.4,45 36.4,54 C37,58 38.5,60 40.7,61.2 C43.5,64 46,68 46.3,71 C46.8,76 47,80 47,85" fill="none" stroke="#fff" stroke-width="1.1" stroke-opacity="0.85" stroke-linecap="round"/><path d="M20.7,56.9 C22,60 24,62 27.9,66.9" fill="none" stroke="#fff" stroke-width="1.0" stroke-opacity="0.8" stroke-linecap="round"/><path d="M9.5,96.5 C8,105 9.5,120 12,130 C14,140 16,150 18,160 L20,171" fill="none" stroke="#fff" stroke-width="1.5" stroke-opacity="0.75" stroke-linecap="round" stroke-dasharray="2,1.6"/><path d="M13.8,99.4 C14,110 16,125 19,135 C20.5,145 21.5,160 22.4,171" fill="none" stroke="#fff" stroke-width="1.3" stroke-opacity="0.9" stroke-linecap="round"/></g><line x1="5.8" y1="59.7" x2="12.3" y2="53.2" stroke="#fff" stroke-width="1.1"/><path d="M15,50.5 L13.8,54.7 L10.8,51.7 Z" fill="#fff"/></g></g>
<g transform="translate(333.5,207.0)"><clipPath id="cpc1"><rect width="65.2" height="170.6"/></clipPath><g clip-path="url(#cpc1)"><rect width="65.2" height="170.6" fill="#000"/><g filter="url(#bl15)"><path d="M45.0,13.0 C46.8,12.9 49.3,12.8 50.7,14.2 C52.1,15.6 52.5,18.4 53.5,21.3 C54.5,24.2 55.7,27.7 56.4,31.3 C57.1,34.9 57.3,39.4 57.8,42.7 C58.3,46.0 58.7,48.4 59.2,51.2 C59.7,54.0 60.2,56.4 60.7,59.7 C61.2,63.0 61.2,67.7 62.1,71.1 C63.0,74.5 65.3,63.2 66.0,80.0 C66.7,96.8 73.7,156.7 66.0,172.0 C58.3,187.3 28.3,174.0 20.0,172.0 C11.7,170.0 17.3,164.5 16.0,160.0 C14.7,155.5 13.5,150.0 12.0,145.0 C10.5,140.0 8.4,135.0 7.0,130.0 C5.6,125.0 4.2,119.3 3.8,115.0 C3.4,110.7 3.8,107.2 4.5,104.0 C5.2,100.8 6.4,98.3 8.0,96.0 C9.6,93.7 12.3,92.3 14.0,90.0 C15.7,87.7 16.9,84.2 18.0,82.0 C19.1,79.8 19.5,78.8 20.8,76.8 C22.1,74.8 24.6,71.9 26.0,70.0 C27.4,68.1 29.1,66.9 29.4,65.4 C29.7,63.9 28.9,62.9 28.0,61.2 C27.1,59.6 24.9,57.4 23.7,55.5 C22.5,53.6 21.4,51.9 20.8,49.8 C20.2,47.7 20.0,45.6 20.1,42.7 C20.2,39.9 20.4,35.6 21.5,32.7 C22.6,29.9 24.2,27.7 26.5,25.6 C28.8,23.5 32.8,21.8 35.0,20.0 C37.2,18.2 38.3,16.2 40.0,15.0 C41.7,13.8 43.2,13.1 45.0,13.0 Z" fill="#0a1ee8"/></g><g filter="url(#bl2)"><ellipse cx="34.5" cy="42" rx="6.5" ry="14" fill="#000008" opacity="0.95"/><ellipse cx="50" cy="140" rx="12" ry="8" fill="#00087a" opacity="0.8"/><ellipse cx="28" cy="132" rx="6" ry="5" fill="#00087a" opacity="0.6"/></g><g filter="url(#bl12)" opacity="0.75"><ellipse cx="45" cy="15.6" rx="8.5" ry="7.5" fill="#1e90ff"/><ellipse cx="25.8" cy="32" rx="8.0" ry="9.0" fill="#1e90ff"/><ellipse cx="32.2" cy="24.2" rx="7.2" ry="6.2" fill="#1e90ff"/><ellipse cx="23" cy="42.7" rx="4.4" ry="5.4" fill="#1e90ff"/><ellipse cx="53.5" cy="32" rx="5.4" ry="5.4" fill="#1e90ff"/><ellipse cx="50" cy="57" rx="7.4" ry="7.4" fill="#1e90ff"/><ellipse cx="50.7" cy="54" rx="9.0" ry="8.5" fill="#1e90ff"/><ellipse cx="43.6" cy="72.5" rx="6.4" ry="5.4" fill="#1e90ff"/><ellipse cx="46.4" cy="76.8" rx="5.4" ry="4.4" fill="#1e90ff"/><ellipse cx="30.8" cy="78.2" rx="4.4" ry="4.4" fill="#1e90ff"/><path d="M11.0,99.4 C11.6,97.5 12.2,96.4 13.9,95.0 C15.6,93.6 18.3,92.0 21.0,90.8 C23.7,89.6 27.1,88.7 30.0,88.0 C32.9,87.3 35.0,86.5 38.3,86.4 C41.6,86.3 46.2,86.5 49.8,87.2 C53.4,87.9 57.6,88.8 59.9,90.8 C62.2,92.8 62.8,96.9 63.5,99.4 C64.2,101.9 64.0,103.6 64.0,106.0 C64.0,108.4 65.2,111.9 63.5,113.8 C61.9,115.7 56.9,117.2 54.1,117.4 C51.4,117.6 48.7,115.6 47.0,115.0 C45.3,114.4 45.6,113.3 44.1,113.8 C42.6,114.3 41.4,117.4 38.3,118.0 C35.2,118.6 29.7,118.1 25.4,117.4 C21.1,116.7 14.9,115.6 12.4,113.8 C9.9,112.0 10.5,109.0 10.3,106.6 C10.1,104.2 10.4,101.3 11.0,99.4 Z" fill="#1e90ff" stroke="#1e90ff" stroke-width="11.0" stroke-linejoin="round"/><ellipse cx="29.7" cy="125.3" rx="5.9" ry="5.9" fill="#1e90ff"/><ellipse cx="45.5" cy="130.3" rx="9.5" ry="7.7" fill="#1e90ff"/><ellipse cx="23" cy="145" rx="5.4" ry="14.4" fill="#1e90ff"/><ellipse cx="22.5" cy="138.2" rx="7.5" ry="7.5" fill="#1e90ff"/><ellipse cx="24" cy="152.6" rx="7.8" ry="7.8" fill="#1e90ff"/><path d="M39.8,158.0 C40.0,155.8 40.6,152.8 42.0,151.5 C43.4,150.2 45.7,150.5 48.0,150.4 C50.3,150.3 53.6,150.6 56.0,151.0 C58.4,151.4 61.2,151.5 62.5,153.0 C63.8,154.5 63.6,157.8 63.5,160.0 C63.4,162.2 63.4,164.6 62.0,166.0 C60.6,167.4 57.7,168.0 55.0,168.4 C52.3,168.8 48.3,169.0 46.0,168.4 C43.7,167.8 42.0,166.7 41.0,165.0 C40.0,163.3 39.6,160.2 39.8,158.0 Z" fill="#1e90ff" stroke="#1e90ff" stroke-width="11.0" stroke-linejoin="round"/></g><g filter="url(#bl1)"><ellipse cx="45" cy="15.6" rx="6.7" ry="5.7" fill="#12d812"/><ellipse cx="25.8" cy="32" rx="6.2" ry="7.2" fill="#12d812"/><ellipse cx="32.2" cy="24.2" rx="5.0" ry="4.0" fill="#12d812"/><ellipse cx="23" cy="42.7" rx="2.0" ry="3.0" fill="#12d812"/><ellipse cx="53.5" cy="32" rx="3.0" ry="3.0" fill="#12d812"/><ellipse cx="50" cy="57" rx="5.0" ry="5.0" fill="#12d812"/><ellipse cx="50.7" cy="54" rx="7.2" ry="6.7" fill="#12d812"/><ellipse cx="43.6" cy="72.5" rx="4.0" ry="3.0" fill="#12d812"/><ellipse cx="46.4" cy="76.8" rx="3.0" ry="2.0" fill="#12d812"/><ellipse cx="30.8" cy="78.2" rx="2.0" ry="2.0" fill="#12d812"/><path d="M11.0,99.4 C11.6,97.5 12.2,96.4 13.9,95.0 C15.6,93.6 18.3,92.0 21.0,90.8 C23.7,89.6 27.1,88.7 30.0,88.0 C32.9,87.3 35.0,86.5 38.3,86.4 C41.6,86.3 46.2,86.5 49.8,87.2 C53.4,87.9 57.6,88.8 59.9,90.8 C62.2,92.8 62.8,96.9 63.5,99.4 C64.2,101.9 64.0,103.6 64.0,106.0 C64.0,108.4 65.2,111.9 63.5,113.8 C61.9,115.7 56.9,117.2 54.1,117.4 C51.4,117.6 48.7,115.6 47.0,115.0 C45.3,114.4 45.6,113.3 44.1,113.8 C42.6,114.3 41.4,117.4 38.3,118.0 C35.2,118.6 29.7,118.1 25.4,117.4 C21.1,116.7 14.9,115.6 12.4,113.8 C9.9,112.0 10.5,109.0 10.3,106.6 C10.1,104.2 10.4,101.3 11.0,99.4 Z" fill="#12d812" stroke="#12d812" stroke-width="7.4" stroke-linejoin="round"/><ellipse cx="29.7" cy="125.3" rx="3.5" ry="3.5" fill="#12d812"/><ellipse cx="45.5" cy="130.3" rx="7.7" ry="5.9" fill="#12d812"/><ellipse cx="23" cy="145" rx="3.0" ry="12.0" fill="#12d812"/><ellipse cx="22.5" cy="138.2" rx="5.7" ry="5.7" fill="#12d812"/><ellipse cx="24" cy="152.6" rx="6.0" ry="6.0" fill="#12d812"/><path d="M39.8,158.0 C40.0,155.8 40.6,152.8 42.0,151.5 C43.4,150.2 45.7,150.5 48.0,150.4 C50.3,150.3 53.6,150.6 56.0,151.0 C58.4,151.4 61.2,151.5 62.5,153.0 C63.8,154.5 63.6,157.8 63.5,160.0 C63.4,162.2 63.4,164.6 62.0,166.0 C60.6,167.4 57.7,168.0 55.0,168.4 C52.3,168.8 48.3,169.0 46.0,168.4 C43.7,167.8 42.0,166.7 41.0,165.0 C40.0,163.3 39.6,160.2 39.8,158.0 Z" fill="#12d812" stroke="#12d812" stroke-width="7.4" stroke-linejoin="round"/></g><g filter="url(#bl08)"><ellipse cx="45" cy="15.6" rx="4.9" ry="3.9" fill="#f2f000"/><ellipse cx="25.8" cy="32" rx="4.4" ry="5.4" fill="#f2f000"/><ellipse cx="32.2" cy="24.2" rx="3.0" ry="2.0" fill="#f2f000"/><ellipse cx="50.7" cy="54" rx="5.4" ry="4.9" fill="#f2f000"/><path d="M11.0,99.4 C11.6,97.5 12.2,96.4 13.9,95.0 C15.6,93.6 18.3,92.0 21.0,90.8 C23.7,89.6 27.1,88.7 30.0,88.0 C32.9,87.3 35.0,86.5 38.3,86.4 C41.6,86.3 46.2,86.5 49.8,87.2 C53.4,87.9 57.6,88.8 59.9,90.8 C62.2,92.8 62.8,96.9 63.5,99.4 C64.2,101.9 64.0,103.6 64.0,106.0 C64.0,108.4 65.2,111.9 63.5,113.8 C61.9,115.7 56.9,117.2 54.1,117.4 C51.4,117.6 48.7,115.6 47.0,115.0 C45.3,114.4 45.6,113.3 44.1,113.8 C42.6,114.3 41.4,117.4 38.3,118.0 C35.2,118.6 29.7,118.1 25.4,117.4 C21.1,116.7 14.9,115.6 12.4,113.8 C9.9,112.0 10.5,109.0 10.3,106.6 C10.1,104.2 10.4,101.3 11.0,99.4 Z" fill="#f2f000" stroke="#f2f000" stroke-width="3.8" stroke-linejoin="round"/><ellipse cx="45.5" cy="130.3" rx="5.9" ry="4.1" fill="#f2f000"/><ellipse cx="22.5" cy="138.2" rx="3.9" ry="3.9" fill="#f2f000"/><ellipse cx="24" cy="152.6" rx="4.2" ry="4.2" fill="#f2f000"/><path d="M39.8,158.0 C40.0,155.8 40.6,152.8 42.0,151.5 C43.4,150.2 45.7,150.5 48.0,150.4 C50.3,150.3 53.6,150.6 56.0,151.0 C58.4,151.4 61.2,151.5 62.5,153.0 C63.8,154.5 63.6,157.8 63.5,160.0 C63.4,162.2 63.4,164.6 62.0,166.0 C60.6,167.4 57.7,168.0 55.0,168.4 C52.3,168.8 48.3,169.0 46.0,168.4 C43.7,167.8 42.0,166.7 41.0,165.0 C40.0,163.3 39.6,160.2 39.8,158.0 Z" fill="#f2f000" stroke="#f2f000" stroke-width="3.8" stroke-linejoin="round"/></g><g filter="url(#bl06)"><ellipse cx="45" cy="15.6" rx="3.0" ry="2.0" fill="#ff0000"/><ellipse cx="25.8" cy="32" rx="2.5" ry="3.5" fill="#ff0000"/><ellipse cx="50.7" cy="54" rx="3.5" ry="3.0" fill="#ff0000"/><path d="M11.0,99.4 C11.6,97.5 12.2,96.4 13.9,95.0 C15.6,93.6 18.3,92.0 21.0,90.8 C23.7,89.6 27.1,88.7 30.0,88.0 C32.9,87.3 35.0,86.5 38.3,86.4 C41.6,86.3 46.2,86.5 49.8,87.2 C53.4,87.9 57.6,88.8 59.9,90.8 C62.2,92.8 62.8,96.9 63.5,99.4 C64.2,101.9 64.0,103.6 64.0,106.0 C64.0,108.4 65.2,111.9 63.5,113.8 C61.9,115.7 56.9,117.2 54.1,117.4 C51.4,117.6 48.7,115.6 47.0,115.0 C45.3,114.4 45.6,113.3 44.1,113.8 C42.6,114.3 41.4,117.4 38.3,118.0 C35.2,118.6 29.7,118.1 25.4,117.4 C21.1,116.7 14.9,115.6 12.4,113.8 C9.9,112.0 10.5,109.0 10.3,106.6 C10.1,104.2 10.4,101.3 11.0,99.4 Z" fill="#ff0000"/><ellipse cx="45.5" cy="130.3" rx="4.0" ry="2.2" fill="#ff0000"/><ellipse cx="22.5" cy="138.2" rx="2.0" ry="2.0" fill="#ff0000"/><ellipse cx="24" cy="152.6" rx="2.3" ry="2.3" fill="#ff0000"/><path d="M39.8,158.0 C40.0,155.8 40.6,152.8 42.0,151.5 C43.4,150.2 45.7,150.5 48.0,150.4 C50.3,150.3 53.6,150.6 56.0,151.0 C58.4,151.4 61.2,151.5 62.5,153.0 C63.8,154.5 63.6,157.8 63.5,160.0 C63.4,162.2 63.4,164.6 62.0,166.0 C60.6,167.4 57.7,168.0 55.0,168.4 C52.3,168.8 48.3,169.0 46.0,168.4 C43.7,167.8 42.0,166.7 41.0,165.0 C40.0,163.3 39.6,160.2 39.8,158.0 Z" fill="#ff0000"/></g><g filter="url(#bl05)"><path d="M21.5,32.7 C24,26 30,21 35,20 C40,17 44,14.5 47,14" fill="none" stroke="#fff" stroke-width="1.1" stroke-opacity="0.85" stroke-linecap="round"/><path d="M20.1,42.7 C20,50 21,53 23.7,55.5 C25,58 27,60 28,61.2" fill="none" stroke="#fff" stroke-width="1.0" stroke-opacity="0.8" stroke-linecap="round"/><path d="M39.3,20 C41,26 42.5,30 42.2,35.6 C41.5,40 38.5,44 37.9,47 C36.5,51 35.5,54 35.8,57 C36,60 37,62 38,63.5 C40,66 41.5,69 42.2,71" fill="none" stroke="#fff" stroke-width="1.2" stroke-opacity="0.9" stroke-linecap="round"/><path d="M8.1,95 C5,100 3.8,106.6 4.5,115 C5.5,122 7,127 8.1,130 C10,135 12,140 13.9,142.5 C17,155 19,163 21,171" fill="none" stroke="#fff" stroke-width="1.5" stroke-opacity="0.75" stroke-linecap="round" stroke-dasharray="2,1.6"/><path d="M12.4,98 C12,108 12.2,115 12.4,121 C14,135 17,147 21,157 L23,171" fill="none" stroke="#fff" stroke-width="1.2" stroke-opacity="0.85" stroke-linecap="round"/></g><line x1="8.7" y1="55.5" x2="15.1" y2="50.1" stroke="#fff" stroke-width="1.1"/><path d="M18,47.7 L16.4,51.8 L13.7,48.5 Z" fill="#fff"/></g></g>
<g transform="translate(40.0,386.0)"><clipPath id="cpd1"><rect width="66.0" height="171.0"/></clipPath><g clip-path="url(#cpd1)"><rect width="66.0" height="171.0" fill="#000"/><path d="M12.1,0 V31 Q12.3,33.5 14,33.4" fill="none" stroke="#f0f0f0" stroke-width="1.9"/><path d="M29.9,0 L17.8,26.3" fill="none" stroke="#707070" stroke-width="0.9"/><path d="M49.8,0 L62.6,28.4" fill="none" stroke="#606060" stroke-width="0.8"/><path d="M60,0 L66,14" fill="none" stroke="#505050" stroke-width="0.7"/><g filter="url(#bl15)"><path d="M39.8,14.0 C41.5,14.2 42.7,16.1 44.1,18.5 C45.5,20.9 47.5,24.4 48.4,28.4 C49.3,32.4 49.3,38.4 49.8,42.7 C50.3,47.0 50.2,50.9 51.2,54.0 C52.2,57.1 53.8,58.4 55.5,61.2 C57.2,64.0 59.5,68.0 61.2,71.1 C63.0,74.2 65.0,62.9 66.0,79.7 C67.0,96.5 74.2,156.6 67.0,172.0 C59.8,187.4 31.2,174.0 23.0,172.0 C14.8,170.0 19.4,164.9 18.0,160.0 C16.6,155.1 15.7,147.5 14.4,142.5 C13.1,137.5 11.2,133.8 10.0,130.0 C8.8,126.2 7.7,122.5 7.5,120.0 C7.3,117.5 7.5,117.0 8.6,115.0 C9.7,113.0 12.1,110.8 14.0,108.0 C15.9,105.2 18.7,101.0 20.0,98.0 C21.3,95.0 21.5,93.0 22.0,90.0 C22.5,87.0 23.4,82.9 22.8,79.7 C22.2,76.5 19.7,74.4 18.5,71.1 C17.3,67.8 15.8,64.0 15.6,59.7 C15.4,55.4 16.2,49.8 17.1,45.5 C18.1,41.2 19.4,37.9 21.3,34.1 C23.2,30.3 26.3,25.7 28.4,22.8 C30.5,19.9 32.1,18.5 34.0,17.0 C35.9,15.5 38.1,13.8 39.8,14.0 Z" fill="#0a1ee8"/></g><g filter="url(#bl2)"><ellipse cx="24" cy="150" rx="6" ry="7" fill="#00087a" opacity="0.6"/></g><g filter="url(#bl12)" opacity="0.75"><path d="M33.0,20.0 C35.7,18.0 37.8,16.0 40.0,16.0 C42.2,16.0 44.5,17.7 46.0,20.0 C47.5,22.3 48.3,25.8 49.0,30.0 C49.7,34.2 49.7,40.8 50.0,45.0 C50.3,49.2 50.5,52.2 51.0,55.0 C51.5,57.8 54.0,60.8 53.0,62.0 C52.0,63.2 47.5,62.3 45.0,62.0 C42.5,61.7 39.7,62.0 38.0,60.0 C36.3,58.0 35.7,53.3 35.0,50.0 C34.3,46.7 34.8,43.0 34.0,40.0 C33.2,37.0 31.5,32.3 30.0,32.0 C28.5,31.7 26.0,38.7 25.0,38.0 C24.0,37.3 22.7,31.0 24.0,28.0 C25.3,25.0 30.3,22.0 33.0,20.0 Z" fill="#1e90ff" stroke="#1e90ff" stroke-width="4.8" stroke-linejoin="round"/><path d="M12.0,146.0 C13.8,143.7 21.2,146.0 25.0,146.0 C28.8,146.0 31.7,146.8 35.0,146.0 C38.3,145.2 41.7,142.0 45.0,141.0 C48.3,140.0 52.0,140.5 55.0,140.0 C58.0,139.5 61.2,136.3 63.0,138.0 C64.8,139.7 65.5,144.3 66.0,150.0 C66.5,155.7 73.7,168.3 66.0,172.0 C58.3,175.7 28.7,174.0 20.0,172.0 C11.3,170.0 15.3,164.3 14.0,160.0 C12.7,155.7 10.2,148.3 12.0,146.0 Z" fill="#1e90ff" stroke="#1e90ff" stroke-width="4.8" stroke-linejoin="round"/><ellipse cx="38" cy="38" rx="6.7" ry="6.7" fill="#1e90ff"/><ellipse cx="44" cy="45" rx="6.2" ry="6.2" fill="#1e90ff"/><ellipse cx="42" cy="28" rx="6.2" ry="6.2" fill="#1e90ff"/><ellipse cx="35" cy="24" rx="7.4" ry="8.4" fill="#1e90ff"/><ellipse cx="39.8" cy="17" rx="9.5" ry="8.0" fill="#1e90ff"/><ellipse cx="29.9" cy="32.7" rx="8.0" ry="10.5" fill="#1e90ff"/><ellipse cx="45.5" cy="32.7" rx="7.5" ry="9.5" fill="#1e90ff"/><ellipse cx="41" cy="47" rx="8.4" ry="14.4" fill="#1e90ff"/><ellipse cx="38" cy="42" rx="6.2" ry="6.2" fill="#1e90ff"/><ellipse cx="44" cy="52" rx="6.2" ry="6.2" fill="#1e90ff"/><ellipse cx="40" cy="56" rx="6.2" ry="6.2" fill="#1e90ff"/><ellipse cx="20.6" cy="56.2" rx="4.4" ry="4.4" fill="#1e90ff"/><ellipse cx="27" cy="74" rx="4.4" ry="4.4" fill="#1e90ff"/><path d="M40.0,61.0 C41.3,59.6 44.0,59.9 46.0,59.7 C48.0,59.5 50.4,59.3 52.0,60.0 C53.6,60.7 54.9,62.3 55.5,64.0 C56.1,65.7 55.8,68.0 55.5,70.0 C55.2,72.0 54.2,74.3 54.0,76.0 C53.8,77.7 54.2,78.5 54.5,80.0 C54.8,81.5 55.2,83.7 56.0,85.0 C56.8,86.3 58.3,85.5 59.0,88.0 C59.7,90.5 59.9,96.3 60.4,100.0 C60.9,103.7 61.5,106.5 62.0,110.0 C62.5,113.5 63.1,117.3 63.3,121.0 C63.5,124.7 64.3,129.8 63.3,132.4 C62.3,135.0 60.1,136.1 57.5,136.8 C54.9,137.5 50.3,136.3 47.4,136.8 C44.5,137.3 42.7,138.4 40.3,139.6 C37.9,140.8 35.4,143.3 33.0,144.0 C30.6,144.7 27.3,145.2 25.9,144.0 C24.5,142.8 25.8,139.2 24.4,136.8 C23.0,134.4 19.9,132.0 17.3,129.6 C14.7,127.2 10.1,124.6 8.6,122.4 C7.1,120.2 7.6,118.3 8.6,116.6 C9.6,114.9 11.0,114.0 14.4,112.3 C17.8,110.6 24.0,108.8 28.8,106.6 C33.6,104.4 39.8,102.2 43.1,99.4 C46.5,96.6 48.2,93.2 48.9,90.0 C49.5,86.8 48.1,82.7 47.0,80.0 C45.9,77.3 43.4,76.0 42.0,74.0 C40.6,72.0 38.7,70.2 38.4,68.0 C38.1,65.8 38.7,62.4 40.0,61.0 Z" fill="#1e90ff" stroke="#1e90ff" stroke-width="11.0" stroke-linejoin="round"/><ellipse cx="20" cy="150" rx="7.2" ry="7.2" fill="#1e90ff"/><ellipse cx="35" cy="155" rx="7.4" ry="6.4" fill="#1e90ff"/><ellipse cx="50" cy="160" rx="7.4" ry="7.4" fill="#1e90ff"/><ellipse cx="15" cy="165" rx="6.2" ry="7.2" fill="#1e90ff"/><ellipse cx="42" cy="147" rx="7.2" ry="6.2" fill="#1e90ff"/><ellipse cx="57" cy="148" rx="7.2" ry="7.2" fill="#1e90ff"/><ellipse cx="30" cy="166" rx="6.4" ry="5.4" fill="#1e90ff"/><ellipse cx="45" cy="168" rx="7.2" ry="6.2" fill="#1e90ff"/><ellipse cx="60" cy="165" rx="6.4" ry="6.4" fill="#1e90ff"/></g><g filter="url(#bl1)"><path d="M33.0,20.0 C35.7,18.0 37.8,16.0 40.0,16.0 C42.2,16.0 44.5,17.7 46.0,20.0 C47.5,22.3 48.3,25.8 49.0,30.0 C49.7,34.2 49.7,40.8 50.0,45.0 C50.3,49.2 50.5,52.2 51.0,55.0 C51.5,57.8 54.0,60.8 53.0,62.0 C52.0,63.2 47.5,62.3 45.0,62.0 C42.5,61.7 39.7,62.0 38.0,60.0 C36.3,58.0 35.7,53.3 35.0,50.0 C34.3,46.7 34.8,43.0 34.0,40.0 C33.2,37.0 31.5,32.3 30.0,32.0 C28.5,31.7 26.0,38.7 25.0,38.0 C24.0,37.3 22.7,31.0 24.0,28.0 C25.3,25.0 30.3,22.0 33.0,20.0 Z" fill="#12d812"/><path d="M12.0,146.0 C13.8,143.7 21.2,146.0 25.0,146.0 C28.8,146.0 31.7,146.8 35.0,146.0 C38.3,145.2 41.7,142.0 45.0,141.0 C48.3,140.0 52.0,140.5 55.0,140.0 C58.0,139.5 61.2,136.3 63.0,138.0 C64.8,139.7 65.5,144.3 66.0,150.0 C66.5,155.7 73.7,168.3 66.0,172.0 C58.3,175.7 28.7,174.0 20.0,172.0 C11.3,170.0 15.3,164.3 14.0,160.0 C12.7,155.7 10.2,148.3 12.0,146.0 Z" fill="#12d812"/><ellipse cx="38" cy="38" rx="4.5" ry="4.5" fill="#12d812"/><ellipse cx="44" cy="45" rx="4.0" ry="4.0" fill="#12d812"/><ellipse cx="42" cy="28" rx="4.0" ry="4.0" fill="#12d812"/><ellipse cx="35" cy="24" rx="5.0" ry="6.0" fill="#12d812"/><ellipse cx="39.8" cy="17" rx="7.7" ry="6.2" fill="#12d812"/><ellipse cx="29.9" cy="32.7" rx="6.2" ry="8.7" fill="#12d812"/><ellipse cx="45.5" cy="32.7" rx="5.7" ry="7.7" fill="#12d812"/><ellipse cx="41" cy="47" rx="6.0" ry="12.0" fill="#12d812"/><ellipse cx="38" cy="42" rx="4.0" ry="4.0" fill="#12d812"/><ellipse cx="44" cy="52" rx="4.0" ry="4.0" fill="#12d812"/><ellipse cx="40" cy="56" rx="4.0" ry="4.0" fill="#12d812"/><ellipse cx="20.6" cy="56.2" rx="2.0" ry="2.0" fill="#12d812"/><ellipse cx="27" cy="74" rx="2.0" ry="2.0" fill="#12d812"/><path d="M40.0,61.0 C41.3,59.6 44.0,59.9 46.0,59.7 C48.0,59.5 50.4,59.3 52.0,60.0 C53.6,60.7 54.9,62.3 55.5,64.0 C56.1,65.7 55.8,68.0 55.5,70.0 C55.2,72.0 54.2,74.3 54.0,76.0 C53.8,77.7 54.2,78.5 54.5,80.0 C54.8,81.5 55.2,83.7 56.0,85.0 C56.8,86.3 58.3,85.5 59.0,88.0 C59.7,90.5 59.9,96.3 60.4,100.0 C60.9,103.7 61.5,106.5 62.0,110.0 C62.5,113.5 63.1,117.3 63.3,121.0 C63.5,124.7 64.3,129.8 63.3,132.4 C62.3,135.0 60.1,136.1 57.5,136.8 C54.9,137.5 50.3,136.3 47.4,136.8 C44.5,137.3 42.7,138.4 40.3,139.6 C37.9,140.8 35.4,143.3 33.0,144.0 C30.6,144.7 27.3,145.2 25.9,144.0 C24.5,142.8 25.8,139.2 24.4,136.8 C23.0,134.4 19.9,132.0 17.3,129.6 C14.7,127.2 10.1,124.6 8.6,122.4 C7.1,120.2 7.6,118.3 8.6,116.6 C9.6,114.9 11.0,114.0 14.4,112.3 C17.8,110.6 24.0,108.8 28.8,106.6 C33.6,104.4 39.8,102.2 43.1,99.4 C46.5,96.6 48.2,93.2 48.9,90.0 C49.5,86.8 48.1,82.7 47.0,80.0 C45.9,77.3 43.4,76.0 42.0,74.0 C40.6,72.0 38.7,70.2 38.4,68.0 C38.1,65.8 38.7,62.4 40.0,61.0 Z" fill="#12d812" stroke="#12d812" stroke-width="7.4" stroke-linejoin="round"/><ellipse cx="20" cy="150" rx="5.0" ry="5.0" fill="#12d812"/><ellipse cx="35" cy="155" rx="5.0" ry="4.0" fill="#12d812"/><ellipse cx="50" cy="160" rx="5.0" ry="5.0" fill="#12d812"/><ellipse cx="15" cy="165" rx="4.0" ry="5.0" fill="#12d812"/><ellipse cx="42" cy="147" rx="5.0" ry="4.0" fill="#12d812"/><ellipse cx="57" cy="148" rx="5.0" ry="5.0" fill="#12d812"/><ellipse cx="30" cy="166" rx="4.0" ry="3.0" fill="#12d812"/><ellipse cx="45" cy="168" rx="5.0" ry="4.0" fill="#12d812"/><ellipse cx="60" cy="165" rx="4.0" ry="4.0" fill="#12d812"/></g><g filter="url(#bl08)"><ellipse cx="38" cy="38" rx="2.5" ry="2.5" fill="#f2f000"/><ellipse cx="44" cy="45" rx="2.0" ry="2.0" fill="#f2f000"/><ellipse cx="42" cy="28" rx="2.0" ry="2.0" fill="#f2f000"/><ellipse cx="39.8" cy="17" rx="5.9" ry="4.4" fill="#f2f000"/><ellipse cx="29.9" cy="32.7" rx="4.4" ry="6.9" fill="#f2f000"/><ellipse cx="45.5" cy="32.7" rx="3.9" ry="5.9" fill="#f2f000"/><ellipse cx="38" cy="42" rx="2.0" ry="2.0" fill="#f2f000"/><ellipse cx="44" cy="52" rx="2.0" ry="2.0" fill="#f2f000"/><ellipse cx="40" cy="56" rx="2.0" ry="2.0" fill="#f2f000"/><path d="M40.0,61.0 C41.3,59.6 44.0,59.9 46.0,59.7 C48.0,59.5 50.4,59.3 52.0,60.0 C53.6,60.7 54.9,62.3 55.5,64.0 C56.1,65.7 55.8,68.0 55.5,70.0 C55.2,72.0 54.2,74.3 54.0,76.0 C53.8,77.7 54.2,78.5 54.5,80.0 C54.8,81.5 55.2,83.7 56.0,85.0 C56.8,86.3 58.3,85.5 59.0,88.0 C59.7,90.5 59.9,96.3 60.4,100.0 C60.9,103.7 61.5,106.5 62.0,110.0 C62.5,113.5 63.1,117.3 63.3,121.0 C63.5,124.7 64.3,129.8 63.3,132.4 C62.3,135.0 60.1,136.1 57.5,136.8 C54.9,137.5 50.3,136.3 47.4,136.8 C44.5,137.3 42.7,138.4 40.3,139.6 C37.9,140.8 35.4,143.3 33.0,144.0 C30.6,144.7 27.3,145.2 25.9,144.0 C24.5,142.8 25.8,139.2 24.4,136.8 C23.0,134.4 19.9,132.0 17.3,129.6 C14.7,127.2 10.1,124.6 8.6,122.4 C7.1,120.2 7.6,118.3 8.6,116.6 C9.6,114.9 11.0,114.0 14.4,112.3 C17.8,110.6 24.0,108.8 28.8,106.6 C33.6,104.4 39.8,102.2 43.1,99.4 C46.5,96.6 48.2,93.2 48.9,90.0 C49.5,86.8 48.1,82.7 47.0,80.0 C45.9,77.3 43.4,76.0 42.0,74.0 C40.6,72.0 38.7,70.2 38.4,68.0 C38.1,65.8 38.7,62.4 40.0,61.0 Z" fill="#f2f000" stroke="#f2f000" stroke-width="3.8" stroke-linejoin="round"/><ellipse cx="20" cy="150" rx="3.0" ry="3.0" fill="#f2f000"/><ellipse cx="15" cy="165" rx="2.0" ry="3.0" fill="#f2f000"/><ellipse cx="42" cy="147" rx="3.0" ry="2.0" fill="#f2f000"/><ellipse cx="57" cy="148" rx="3.0" ry="3.0" fill="#f2f000"/><ellipse cx="45" cy="168" rx="3.0" ry="2.0" fill="#f2f000"/></g><g filter="url(#bl06)"><ellipse cx="39.8" cy="17" rx="4.0" ry="2.5" fill="#ff0000"/><ellipse cx="29.9" cy="32.7" rx="2.5" ry="5.0" fill="#ff0000"/><ellipse cx="45.5" cy="32.7" rx="2.0" ry="4.0" fill="#ff0000"/><path d="M40.0,61.0 C41.3,59.6 44.0,59.9 46.0,59.7 C48.0,59.5 50.4,59.3 52.0,60.0 C53.6,60.7 54.9,62.3 55.5,64.0 C56.1,65.7 55.8,68.0 55.5,70.0 C55.2,72.0 54.2,74.3 54.0,76.0 C53.8,77.7 54.2,78.5 54.5,80.0 C54.8,81.5 55.2,83.7 56.0,85.0 C56.8,86.3 58.3,85.5 59.0,88.0 C59.7,90.5 59.9,96.3 60.4,100.0 C60.9,103.7 61.5,106.5 62.0,110.0 C62.5,113.5 63.1,117.3 63.3,121.0 C63.5,124.7 64.3,129.8 63.3,132.4 C62.3,135.0 60.1,136.1 57.5,136.8 C54.9,137.5 50.3,136.3 47.4,136.8 C44.5,137.3 42.7,138.4 40.3,139.6 C37.9,140.8 35.4,143.3 33.0,144.0 C30.6,144.7 27.3,145.2 25.9,144.0 C24.5,142.8 25.8,139.2 24.4,136.8 C23.0,134.4 19.9,132.0 17.3,129.6 C14.7,127.2 10.1,124.6 8.6,122.4 C7.1,120.2 7.6,118.3 8.6,116.6 C9.6,114.9 11.0,114.0 14.4,112.3 C17.8,110.6 24.0,108.8 28.8,106.6 C33.6,104.4 39.8,102.2 43.1,99.4 C46.5,96.6 48.2,93.2 48.9,90.0 C49.5,86.8 48.1,82.7 47.0,80.0 C45.9,77.3 43.4,76.0 42.0,74.0 C40.6,72.0 38.7,70.2 38.4,68.0 C38.1,65.8 38.7,62.4 40.0,61.0 Z" fill="#ff0000"/></g><g filter="url(#bl12)" opacity="0.75"><ellipse cx="44.6" cy="133.9" rx="6.7" ry="6.7" fill="#1e90ff"/></g><g filter="url(#bl1)"><ellipse cx="44.6" cy="133.9" rx="4.5" ry="4.5" fill="#12d812"/></g><g filter="url(#bl08)"><ellipse cx="44.6" cy="133.9" rx="2.5" ry="2.5" fill="#f2f000"/></g><g filter="url(#bl1)"><ellipse cx="30" cy="21" rx="4" ry="3" fill="#fff" opacity="0.6"/><ellipse cx="22" cy="151" rx="4" ry="5" fill="#0a1ee8" opacity="0.9"/><ellipse cx="36" cy="160" rx="4" ry="3" fill="#0a1ee8" opacity="0.9"/><ellipse cx="52" cy="157" rx="4" ry="3" fill="#0a1ee8" opacity="0.9"/><ellipse cx="44" cy="168" rx="3" ry="2" fill="#1050f0" opacity="0.8"/></g><g filter="url(#bl05)"><path d="M21.3,37 C24,30 28,24 32,20 C35,17 37.5,15.5 39.8,15.6" fill="none" stroke="#fff" stroke-width="1.4" stroke-opacity="0.9" stroke-linecap="round"/><path d="M15.8,111 C22,108 30,105 40.3,100.8" fill="none" stroke="#fff" stroke-width="1.2" stroke-opacity="0.6" stroke-linecap="round" stroke-dasharray="1.6,1.4"/><path d="M8.6,118 C10,128 12,136 14.4,142.5 C17,152 20,162 23,171" fill="none" stroke="#fff" stroke-width="1.3" stroke-opacity="0.9" stroke-linecap="round"/></g><line x1="6.4" y1="68.3" x2="12.3" y2="62.4" stroke="#fff" stroke-width="1.1"/><path d="M15,59.7 L13.8,63.9 L10.8,60.9 Z" fill="#fff"/></g></g>
<g transform="translate(186.6,386.0)"><clipPath id="cpe1"><rect width="65.9" height="171.0"/></clipPath><g clip-path="url(#cpe1)"><rect width="65.9" height="171.0" fill="#000"/><path d="M8.6,0 V20.5 Q8.8,23 10.6,23" fill="none" stroke="#f0f0f0" stroke-width="2"/><path d="M23.6,0 L16.5,15.6" fill="none" stroke="#707070" stroke-width="0.8"/><path d="M49.2,0 L60.6,32.7" fill="none" stroke="#606060" stroke-width="0.8"/><g filter="url(#bl15)"><path d="M36.4,8.0 C37.8,8.1 37.6,9.9 39.2,12.8 C40.9,15.7 44.6,21.6 46.3,25.6 C48.0,29.6 48.5,33.0 49.2,37.0 C49.9,41.0 49.7,46.0 50.6,49.8 C51.5,53.6 53.5,56.2 54.9,59.7 C56.3,63.2 57.9,67.8 59.1,71.1 C60.3,74.4 61.2,76.5 62.0,79.7 C62.8,82.9 63.2,86.6 64.0,90.0 C64.8,93.4 66.5,86.3 67.0,100.0 C67.5,113.7 77.3,160.0 67.0,172.0 C56.7,184.0 15.5,175.7 5.0,172.0 C-5.5,168.3 4.0,158.7 4.0,150.0 C4.0,141.3 4.3,127.5 5.0,120.0 C5.7,112.5 6.5,110.0 8.0,105.0 C9.5,100.0 12.0,94.2 14.0,90.0 C16.0,85.8 17.7,83.2 20.0,80.0 C22.3,76.8 28.0,73.0 27.9,71.1 C27.8,69.1 21.8,69.9 19.3,68.3 C16.8,66.7 14.1,64.8 12.9,61.2 C11.7,57.7 11.6,52.0 12.2,47.0 C12.8,42.0 14.4,35.8 16.5,31.3 C18.6,26.8 22.6,23.2 25.0,20.0 C27.4,16.8 29.1,14.0 31.0,12.0 C32.9,10.0 35.0,7.9 36.4,8.0 Z" fill="#0a1ee8"/></g><g filter="url(#bl2)"><ellipse cx="23.5" cy="51" rx="8.5" ry="15" fill="#000010"/><ellipse cx="23.5" cy="51" rx="6" ry="12" fill="#000000"/></g><g filter="url(#bl12)" opacity="0.75"><ellipse cx="36.4" cy="10" rx="7.0" ry="7.0" fill="#1e90ff"/><ellipse cx="30" cy="17" rx="10.5" ry="10.0" fill="#1e90ff"/><ellipse cx="40" cy="35" rx="9.4" ry="13.4" fill="#1e90ff"/><ellipse cx="30" cy="28" rx="8.4" ry="6.4" fill="#1e90ff"/><ellipse cx="27.9" cy="29.9" rx="6.7" ry="6.7" fill="#1e90ff"/><ellipse cx="32.1" cy="31.3" rx="6.7" ry="6.7" fill="#1e90ff"/><ellipse cx="44.9" cy="31.3" rx="7.7" ry="8.2" fill="#1e90ff"/><ellipse cx="40.7" cy="41.3" rx="7.2" ry="8.2" fill="#1e90ff"/><ellipse cx="16.5" cy="51.2" rx="4.4" ry="4.4" fill="#1e90ff"/><ellipse cx="17.9" cy="58.3" rx="4.4" ry="4.4" fill="#1e90ff"/><path d="M41.0,54.0 C41.7,53.3 43.5,53.5 45.0,54.0 C46.5,54.5 48.6,55.7 50.0,57.0 C51.4,58.3 53.2,60.4 53.5,62.0 C53.8,63.6 52.9,66.2 52.0,66.9 C51.1,67.6 49.3,66.8 48.0,66.0 C46.7,65.2 45.2,63.3 44.0,62.0 C42.8,60.7 41.5,59.3 41.0,58.0 C40.5,56.7 40.3,54.7 41.0,54.0 Z" fill="#1e90ff" stroke="#1e90ff" stroke-width="11.0" stroke-linejoin="round"/><ellipse cx="50.6" cy="71.1" rx="6.7" ry="6.7" fill="#1e90ff"/><ellipse cx="53.5" cy="76.8" rx="6.4" ry="6.4" fill="#1e90ff"/><path d="M6.6,113.8 C7.6,111.4 10.2,109.9 13.8,108.0 C17.4,106.1 22.9,103.7 28.2,102.3 C33.5,100.9 41.8,100.4 45.4,99.4 C49.0,98.4 48.1,97.2 49.7,96.5 C51.3,95.8 53.6,93.8 54.8,95.0 C56.0,96.2 55.8,100.1 56.9,103.7 C58.0,107.3 60.2,112.5 61.2,116.6 C62.2,120.6 62.9,124.6 62.7,128.0 C62.5,131.4 61.2,134.4 59.8,136.8 C58.3,139.2 56.2,140.8 54.0,142.5 C51.8,144.2 48.5,145.1 46.8,146.8 C45.1,148.5 45.2,150.7 44.0,152.6 C42.8,154.5 40.7,156.2 39.7,158.3 C38.7,160.5 39.4,164.3 38.2,165.5 C37.0,166.7 34.2,166.9 32.5,165.5 C30.8,164.1 30.1,160.2 28.2,156.9 C26.3,153.6 23.4,149.0 21.0,145.4 C18.6,141.8 16.0,139.1 13.8,135.3 C11.6,131.5 9.2,126.0 8.0,122.4 C6.8,118.8 5.6,116.2 6.6,113.8 Z" fill="#1e90ff" stroke="#1e90ff" stroke-width="11.0" stroke-linejoin="round"/><ellipse cx="21" cy="168.4" rx="7.2" ry="6.7" fill="#1e90ff"/><ellipse cx="55" cy="160" rx="6.4" ry="7.4" fill="#1e90ff"/></g><g filter="url(#bl1)"><ellipse cx="36.4" cy="10" rx="5.2" ry="5.2" fill="#12d812"/><ellipse cx="30" cy="17" rx="8.7" ry="8.2" fill="#12d812"/><ellipse cx="40" cy="35" rx="7.0" ry="11.0" fill="#12d812"/><ellipse cx="30" cy="28" rx="6.0" ry="4.0" fill="#12d812"/><ellipse cx="27.9" cy="29.9" rx="4.5" ry="4.5" fill="#12d812"/><ellipse cx="32.1" cy="31.3" rx="4.5" ry="4.5" fill="#12d812"/><ellipse cx="44.9" cy="31.3" rx="5.5" ry="6.0" fill="#12d812"/><ellipse cx="40.7" cy="41.3" rx="5.0" ry="6.0" fill="#12d812"/><ellipse cx="16.5" cy="51.2" rx="2.0" ry="2.0" fill="#12d812"/><ellipse cx="17.9" cy="58.3" rx="2.0" ry="2.0" fill="#12d812"/><path d="M41.0,54.0 C41.7,53.3 43.5,53.5 45.0,54.0 C46.5,54.5 48.6,55.7 50.0,57.0 C51.4,58.3 53.2,60.4 53.5,62.0 C53.8,63.6 52.9,66.2 52.0,66.9 C51.1,67.6 49.3,66.8 48.0,66.0 C46.7,65.2 45.2,63.3 44.0,62.0 C42.8,60.7 41.5,59.3 41.0,58.0 C40.5,56.7 40.3,54.7 41.0,54.0 Z" fill="#12d812" stroke="#12d812" stroke-width="7.4" stroke-linejoin="round"/><ellipse cx="50.6" cy="71.1" rx="4.5" ry="4.5" fill="#12d812"/><ellipse cx="53.5" cy="76.8" rx="4.0" ry="4.0" fill="#12d812"/><path d="M6.6,113.8 C7.6,111.4 10.2,109.9 13.8,108.0 C17.4,106.1 22.9,103.7 28.2,102.3 C33.5,100.9 41.8,100.4 45.4,99.4 C49.0,98.4 48.1,97.2 49.7,96.5 C51.3,95.8 53.6,93.8 54.8,95.0 C56.0,96.2 55.8,100.1 56.9,103.7 C58.0,107.3 60.2,112.5 61.2,116.6 C62.2,120.6 62.9,124.6 62.7,128.0 C62.5,131.4 61.2,134.4 59.8,136.8 C58.3,139.2 56.2,140.8 54.0,142.5 C51.8,144.2 48.5,145.1 46.8,146.8 C45.1,148.5 45.2,150.7 44.0,152.6 C42.8,154.5 40.7,156.2 39.7,158.3 C38.7,160.5 39.4,164.3 38.2,165.5 C37.0,166.7 34.2,166.9 32.5,165.5 C30.8,164.1 30.1,160.2 28.2,156.9 C26.3,153.6 23.4,149.0 21.0,145.4 C18.6,141.8 16.0,139.1 13.8,135.3 C11.6,131.5 9.2,126.0 8.0,122.4 C6.8,118.8 5.6,116.2 6.6,113.8 Z" fill="#12d812" stroke="#12d812" stroke-width="7.4" stroke-linejoin="round"/><ellipse cx="21" cy="168.4" rx="5.0" ry="4.5" fill="#12d812"/><ellipse cx="55" cy="160" rx="4.0" ry="5.0" fill="#12d812"/></g><g filter="url(#bl08)"><ellipse cx="36.4" cy="10" rx="3.4" ry="3.4" fill="#f2f000"/><ellipse cx="30" cy="17" rx="6.9" ry="6.4" fill="#f2f000"/><ellipse cx="27.9" cy="29.9" rx="2.5" ry="2.5" fill="#f2f000"/><ellipse cx="32.1" cy="31.3" rx="2.5" ry="2.5" fill="#f2f000"/><ellipse cx="44.9" cy="31.3" rx="3.5" ry="4.0" fill="#f2f000"/><ellipse cx="40.7" cy="41.3" rx="3.0" ry="4.0" fill="#f2f000"/><path d="M41.0,54.0 C41.7,53.3 43.5,53.5 45.0,54.0 C46.5,54.5 48.6,55.7 50.0,57.0 C51.4,58.3 53.2,60.4 53.5,62.0 C53.8,63.6 52.9,66.2 52.0,66.9 C51.1,67.6 49.3,66.8 48.0,66.0 C46.7,65.2 45.2,63.3 44.0,62.0 C42.8,60.7 41.5,59.3 41.0,58.0 C40.5,56.7 40.3,54.7 41.0,54.0 Z" fill="#f2f000" stroke="#f2f000" stroke-width="3.8" stroke-linejoin="round"/><ellipse cx="50.6" cy="71.1" rx="2.5" ry="2.5" fill="#f2f000"/><path d="M6.6,113.8 C7.6,111.4 10.2,109.9 13.8,108.0 C17.4,106.1 22.9,103.7 28.2,102.3 C33.5,100.9 41.8,100.4 45.4,99.4 C49.0,98.4 48.1,97.2 49.7,96.5 C51.3,95.8 53.6,93.8 54.8,95.0 C56.0,96.2 55.8,100.1 56.9,103.7 C58.0,107.3 60.2,112.5 61.2,116.6 C62.2,120.6 62.9,124.6 62.7,128.0 C62.5,131.4 61.2,134.4 59.8,136.8 C58.3,139.2 56.2,140.8 54.0,142.5 C51.8,144.2 48.5,145.1 46.8,146.8 C45.1,148.5 45.2,150.7 44.0,152.6 C42.8,154.5 40.7,156.2 39.7,158.3 C38.7,160.5 39.4,164.3 38.2,165.5 C37.0,166.7 34.2,166.9 32.5,165.5 C30.8,164.1 30.1,160.2 28.2,156.9 C26.3,153.6 23.4,149.0 21.0,145.4 C18.6,141.8 16.0,139.1 13.8,135.3 C11.6,131.5 9.2,126.0 8.0,122.4 C6.8,118.8 5.6,116.2 6.6,113.8 Z" fill="#f2f000" stroke="#f2f000" stroke-width="3.8" stroke-linejoin="round"/><ellipse cx="21" cy="168.4" rx="3.0" ry="2.5" fill="#f2f000"/></g><g filter="url(#bl06)"><ellipse cx="36.4" cy="10" rx="1.5" ry="1.5" fill="#ff0000"/><ellipse cx="30" cy="17" rx="5.0" ry="4.5" fill="#ff0000"/><path d="M41.0,54.0 C41.7,53.3 43.5,53.5 45.0,54.0 C46.5,54.5 48.6,55.7 50.0,57.0 C51.4,58.3 53.2,60.4 53.5,62.0 C53.8,63.6 52.9,66.2 52.0,66.9 C51.1,67.6 49.3,66.8 48.0,66.0 C46.7,65.2 45.2,63.3 44.0,62.0 C42.8,60.7 41.5,59.3 41.0,58.0 C40.5,56.7 40.3,54.7 41.0,54.0 Z" fill="#ff0000"/><path d="M6.6,113.8 C7.6,111.4 10.2,109.9 13.8,108.0 C17.4,106.1 22.9,103.7 28.2,102.3 C33.5,100.9 41.8,100.4 45.4,99.4 C49.0,98.4 48.1,97.2 49.7,96.5 C51.3,95.8 53.6,93.8 54.8,95.0 C56.0,96.2 55.8,100.1 56.9,103.7 C58.0,107.3 60.2,112.5 61.2,116.6 C62.2,120.6 62.9,124.6 62.7,128.0 C62.5,131.4 61.2,134.4 59.8,136.8 C58.3,139.2 56.2,140.8 54.0,142.5 C51.8,144.2 48.5,145.1 46.8,146.8 C45.1,148.5 45.2,150.7 44.0,152.6 C42.8,154.5 40.7,156.2 39.7,158.3 C38.7,160.5 39.4,164.3 38.2,165.5 C37.0,166.7 34.2,166.9 32.5,165.5 C30.8,164.1 30.1,160.2 28.2,156.9 C26.3,153.6 23.4,149.0 21.0,145.4 C18.6,141.8 16.0,139.1 13.8,135.3 C11.6,131.5 9.2,126.0 8.0,122.4 C6.8,118.8 5.6,116.2 6.6,113.8 Z" fill="#ff0000"/></g><g filter="url(#bl12)" opacity="0.75"><ellipse cx="33.9" cy="129.6" rx="5.2" ry="5.7" fill="#1e90ff"/><ellipse cx="43" cy="143" rx="6.9" ry="7.9" fill="#1e90ff"/></g><g filter="url(#bl1)"><ellipse cx="33.9" cy="129.6" rx="2.8" ry="3.3" fill="#12d812"/><ellipse cx="43" cy="143" rx="4.5" ry="5.5" fill="#12d812"/></g><g filter="url(#bl1)"><ellipse cx="33.9" cy="129.8" rx="1.2" ry="1.5" fill="#0a1ee8"/><ellipse cx="43" cy="143" rx="2" ry="2.5" fill="#1060f0" opacity="0.8"/></g><g filter="url(#bl05)"><path d="M12.2,47 C12.5,38 14.5,32 16.5,28 C19,23 22,19 25,17" fill="none" stroke="#fff" stroke-width="1.2" stroke-opacity="0.85" stroke-linecap="round"/><path d="M12.9,61.2 C14,65 16,67 19.3,68.3" fill="none" stroke="#fff" stroke-width="1.0" stroke-opacity="0.8" stroke-linecap="round"/><path d="M32.1,42 C32.5,50 33,57 32.5,66" fill="none" stroke="#fff" stroke-width="1.5" stroke-opacity="0.9" stroke-linecap="round"/><ellipse cx="33.5" cy="57" rx="2" ry="2.5" fill="#fff" opacity="0.9"/><path d="M8,116 C15,110 22,106 30,103" fill="none" stroke="#fff" stroke-width="1.2" stroke-opacity="0.7" stroke-linecap="round" stroke-dasharray="1.5,1.5"/></g><line x1="0.8" y1="64.7" x2="7.2" y2="58.8" stroke="#fff" stroke-width="1.1"/><path d="M10,56.2 L8.6,60.3 L5.8,57.2 Z" fill="#fff"/></g></g>
<g transform="translate(333.5,386.0)"><clipPath id="cpf1"><rect width="65.2" height="171.0"/></clipPath><g clip-path="url(#cpf1)"><rect width="65.2" height="171.0" fill="#000"/><g filter="url(#bl15)"><path d="M56.4,18.0 C58.4,18.2 58.5,19.6 58.5,21.3 C58.5,23.0 57.1,25.8 56.4,28.4 C55.7,31.0 54.3,34.9 54.5,37.0 C54.7,39.1 57.5,39.4 57.8,41.3 C58.1,43.2 56.2,45.8 56.4,48.4 C56.6,51.0 58.2,54.5 59.2,56.9 C60.2,59.3 61.3,59.6 62.1,62.6 C62.9,65.6 63.4,71.3 64.0,75.0 C64.7,78.7 65.7,68.7 66.0,85.0 C66.3,101.3 74.0,158.3 66.0,173.0 C58.0,187.7 26.7,176.8 18.0,173.0 C9.3,169.2 15.3,157.2 14.0,150.0 C12.7,142.8 11.3,135.8 10.0,130.0 C8.7,124.2 6.8,120.0 6.0,115.0 C5.2,110.0 4.7,104.2 5.0,100.0 C5.3,95.8 6.8,93.3 8.0,90.0 C9.2,86.7 10.3,83.3 12.0,80.0 C13.7,76.7 15.8,73.1 18.0,70.0 C20.2,66.9 24.9,63.9 25.1,61.2 C25.3,58.5 20.6,56.4 19.4,54.0 C18.2,51.6 17.8,49.4 18.0,47.0 C18.2,44.6 19.4,42.4 20.8,39.8 C22.2,37.2 24.1,33.9 26.5,31.3 C28.9,28.7 31.8,26.1 35.1,24.2 C38.4,22.3 42.9,21.0 46.4,20.0 C49.9,19.0 54.4,17.8 56.4,18.0 Z" fill="#0a1ee8"/></g><g filter="url(#bl2)"><ellipse cx="31" cy="47" rx="8" ry="12" fill="#000008" opacity="0.95"/><ellipse cx="50" cy="135" rx="10" ry="9" fill="#00087a" opacity="0.8"/><ellipse cx="20" cy="140" rx="6" ry="10" fill="#00087a" opacity="0.6"/></g><g filter="url(#bl12)" opacity="0.75"><ellipse cx="47.9" cy="22.8" rx="10.5" ry="8.5" fill="#1e90ff"/><ellipse cx="32.2" cy="60.5" rx="9.5" ry="8.0" fill="#1e90ff"/><path d="M44.3,53.0 C44.6,51.5 46.5,51.4 48.0,51.2 C49.5,51.0 51.5,51.2 53.0,52.0 C54.5,52.8 56.2,54.5 57.0,56.0 C57.8,57.5 58.1,59.4 57.8,61.0 C57.5,62.6 56.3,64.9 55.0,65.4 C53.7,65.9 51.5,64.9 50.0,64.0 C48.5,63.1 47.0,61.8 46.0,60.0 C45.0,58.2 44.0,54.5 44.3,53.0 Z" fill="#1e90ff" stroke="#1e90ff" stroke-width="11.0" stroke-linejoin="round"/><ellipse cx="52.8" cy="42" rx="6.2" ry="6.2" fill="#1e90ff"/><ellipse cx="47.9" cy="34.1" rx="5.4" ry="5.4" fill="#1e90ff"/><ellipse cx="37.2" cy="49.8" rx="6.2" ry="6.2" fill="#1e90ff"/><ellipse cx="20.8" cy="47" rx="4.9" ry="4.9" fill="#1e90ff"/><ellipse cx="32.2" cy="28.4" rx="6.4" ry="4.4" fill="#1e90ff"/><ellipse cx="26" cy="37" rx="4.4" ry="4.4" fill="#1e90ff"/><ellipse cx="50.7" cy="79.7" rx="10.5" ry="9.5" fill="#1e90ff"/><path d="M11.1,95.2 C12.3,93.3 13.3,90.6 15.5,89.4 C17.7,88.2 19.6,87.8 24.2,87.9 C28.8,88.0 38.0,89.0 43.1,90.0 C48.2,91.0 52.0,92.1 54.7,93.7 C57.4,95.3 58.2,96.6 59.1,99.5 C60.0,102.4 60.5,108.8 59.8,111.2 C59.1,113.6 57.5,113.5 54.7,114.0 C51.9,114.5 45.8,114.2 43.1,114.0 C40.4,113.8 39.4,111.4 38.7,112.6 C38.0,113.8 38.9,118.6 38.7,121.3 C38.5,124.0 38.0,126.9 37.3,128.6 C36.6,130.3 35.8,131.3 34.4,131.5 C33.0,131.7 30.3,131.4 28.6,130.0 C26.9,128.6 25.9,125.0 24.2,122.8 C22.5,120.6 20.8,119.2 18.4,117.0 C16.0,114.8 11.4,112.4 9.7,109.7 C8.0,107.0 8.0,103.4 8.2,101.0 C8.4,98.6 9.9,97.1 11.1,95.2 Z" fill="#1e90ff" stroke="#1e90ff" stroke-width="11.0" stroke-linejoin="round"/><ellipse cx="34.4" cy="133.5" rx="6.7" ry="6.7" fill="#1e90ff"/><ellipse cx="26.4" cy="146.8" rx="7.8" ry="7.8" fill="#1e90ff"/><ellipse cx="45.3" cy="152.6" rx="12.0" ry="12.0" fill="#1e90ff"/><ellipse cx="30" cy="162" rx="4.9" ry="4.9" fill="#1e90ff"/><ellipse cx="56.2" cy="125.7" rx="4.4" ry="4.4" fill="#1e90ff"/><ellipse cx="48" cy="70" rx="5.4" ry="5.4" fill="#1e90ff"/></g><g filter="url(#bl1)"><ellipse cx="47.9" cy="22.8" rx="8.7" ry="6.7" fill="#12d812"/><ellipse cx="32.2" cy="60.5" rx="7.7" ry="6.2" fill="#12d812"/><path d="M44.3,53.0 C44.6,51.5 46.5,51.4 48.0,51.2 C49.5,51.0 51.5,51.2 53.0,52.0 C54.5,52.8 56.2,54.5 57.0,56.0 C57.8,57.5 58.1,59.4 57.8,61.0 C57.5,62.6 56.3,64.9 55.0,65.4 C53.7,65.9 51.5,64.9 50.0,64.0 C48.5,63.1 47.0,61.8 46.0,60.0 C45.0,58.2 44.0,54.5 44.3,53.0 Z" fill="#12d812" stroke="#12d812" stroke-width="7.4" stroke-linejoin="round"/><ellipse cx="52.8" cy="42" rx="4.0" ry="4.0" fill="#12d812"/><ellipse cx="47.9" cy="34.1" rx="3.0" ry="3.0" fill="#12d812"/><ellipse cx="37.2" cy="49.8" rx="4.0" ry="4.0" fill="#12d812"/><ellipse cx="20.8" cy="47" rx="2.5" ry="2.5" fill="#12d812"/><ellipse cx="32.2" cy="28.4" rx="4.0" ry="2.0" fill="#12d812"/><ellipse cx="26" cy="37" rx="2.0" ry="2.0" fill="#12d812"/><ellipse cx="50.7" cy="79.7" rx="8.7" ry="7.7" fill="#12d812"/><path d="M11.1,95.2 C12.3,93.3 13.3,90.6 15.5,89.4 C17.7,88.2 19.6,87.8 24.2,87.9 C28.8,88.0 38.0,89.0 43.1,90.0 C48.2,91.0 52.0,92.1 54.7,93.7 C57.4,95.3 58.2,96.6 59.1,99.5 C60.0,102.4 60.5,108.8 59.8,111.2 C59.1,113.6 57.5,113.5 54.7,114.0 C51.9,114.5 45.8,114.2 43.1,114.0 C40.4,113.8 39.4,111.4 38.7,112.6 C38.0,113.8 38.9,118.6 38.7,121.3 C38.5,124.0 38.0,126.9 37.3,128.6 C36.6,130.3 35.8,131.3 34.4,131.5 C33.0,131.7 30.3,131.4 28.6,130.0 C26.9,128.6 25.9,125.0 24.2,122.8 C22.5,120.6 20.8,119.2 18.4,117.0 C16.0,114.8 11.4,112.4 9.7,109.7 C8.0,107.0 8.0,103.4 8.2,101.0 C8.4,98.6 9.9,97.1 11.1,95.2 Z" fill="#12d812" stroke="#12d812" stroke-width="7.4" stroke-linejoin="round"/><ellipse cx="34.4" cy="133.5" rx="4.5" ry="4.5" fill="#12d812"/><ellipse cx="26.4" cy="146.8" rx="6.0" ry="6.0" fill="#12d812"/><ellipse cx="45.3" cy="152.6" rx="10.2" ry="10.2" fill="#12d812"/><ellipse cx="30" cy="162" rx="2.5" ry="2.5" fill="#12d812"/><ellipse cx="56.2" cy="125.7" rx="2.0" ry="2.0" fill="#12d812"/><ellipse cx="48" cy="70" rx="3.0" ry="3.0" fill="#12d812"/></g><g filter="url(#bl08)"><ellipse cx="47.9" cy="22.8" rx="6.9" ry="4.9" fill="#f2f000"/><ellipse cx="32.2" cy="60.5" rx="5.9" ry="4.4" fill="#f2f000"/><path d="M44.3,53.0 C44.6,51.5 46.5,51.4 48.0,51.2 C49.5,51.0 51.5,51.2 53.0,52.0 C54.5,52.8 56.2,54.5 57.0,56.0 C57.8,57.5 58.1,59.4 57.8,61.0 C57.5,62.6 56.3,64.9 55.0,65.4 C53.7,65.9 51.5,64.9 50.0,64.0 C48.5,63.1 47.0,61.8 46.0,60.0 C45.0,58.2 44.0,54.5 44.3,53.0 Z" fill="#f2f000" stroke="#f2f000" stroke-width="3.8" stroke-linejoin="round"/><ellipse cx="52.8" cy="42" rx="2.0" ry="2.0" fill="#f2f000"/><ellipse cx="37.2" cy="49.8" rx="2.0" ry="2.0" fill="#f2f000"/><ellipse cx="50.7" cy="79.7" rx="6.9" ry="5.9" fill="#f2f000"/><path d="M11.1,95.2 C12.3,93.3 13.3,90.6 15.5,89.4 C17.7,88.2 19.6,87.8 24.2,87.9 C28.8,88.0 38.0,89.0 43.1,90.0 C48.2,91.0 52.0,92.1 54.7,93.7 C57.4,95.3 58.2,96.6 59.1,99.5 C60.0,102.4 60.5,108.8 59.8,111.2 C59.1,113.6 57.5,113.5 54.7,114.0 C51.9,114.5 45.8,114.2 43.1,114.0 C40.4,113.8 39.4,111.4 38.7,112.6 C38.0,113.8 38.9,118.6 38.7,121.3 C38.5,124.0 38.0,126.9 37.3,128.6 C36.6,130.3 35.8,131.3 34.4,131.5 C33.0,131.7 30.3,131.4 28.6,130.0 C26.9,128.6 25.9,125.0 24.2,122.8 C22.5,120.6 20.8,119.2 18.4,117.0 C16.0,114.8 11.4,112.4 9.7,109.7 C8.0,107.0 8.0,103.4 8.2,101.0 C8.4,98.6 9.9,97.1 11.1,95.2 Z" fill="#f2f000" stroke="#f2f000" stroke-width="3.8" stroke-linejoin="round"/><ellipse cx="34.4" cy="133.5" rx="2.5" ry="2.5" fill="#f2f000"/><ellipse cx="26.4" cy="146.8" rx="4.2" ry="4.2" fill="#f2f000"/><ellipse cx="45.3" cy="152.6" rx="8.4" ry="8.4" fill="#f2f000"/></g><g filter="url(#bl06)"><ellipse cx="47.9" cy="22.8" rx="5.0" ry="3.0" fill="#ff0000"/><ellipse cx="32.2" cy="60.5" rx="4.0" ry="2.5" fill="#ff0000"/><path d="M44.3,53.0 C44.6,51.5 46.5,51.4 48.0,51.2 C49.5,51.0 51.5,51.2 53.0,52.0 C54.5,52.8 56.2,54.5 57.0,56.0 C57.8,57.5 58.1,59.4 57.8,61.0 C57.5,62.6 56.3,64.9 55.0,65.4 C53.7,65.9 51.5,64.9 50.0,64.0 C48.5,63.1 47.0,61.8 46.0,60.0 C45.0,58.2 44.0,54.5 44.3,53.0 Z" fill="#ff0000"/><ellipse cx="50.7" cy="79.7" rx="5.0" ry="4.0" fill="#ff0000"/><path d="M11.1,95.2 C12.3,93.3 13.3,90.6 15.5,89.4 C17.7,88.2 19.6,87.8 24.2,87.9 C28.8,88.0 38.0,89.0 43.1,90.0 C48.2,91.0 52.0,92.1 54.7,93.7 C57.4,95.3 58.2,96.6 59.1,99.5 C60.0,102.4 60.5,108.8 59.8,111.2 C59.1,113.6 57.5,113.5 54.7,114.0 C51.9,114.5 45.8,114.2 43.1,114.0 C40.4,113.8 39.4,111.4 38.7,112.6 C38.0,113.8 38.9,118.6 38.7,121.3 C38.5,124.0 38.0,126.9 37.3,128.6 C36.6,130.3 35.8,131.3 34.4,131.5 C33.0,131.7 30.3,131.4 28.6,130.0 C26.9,128.6 25.9,125.0 24.2,122.8 C22.5,120.6 20.8,119.2 18.4,117.0 C16.0,114.8 11.4,112.4 9.7,109.7 C8.0,107.0 8.0,103.4 8.2,101.0 C8.4,98.6 9.9,97.1 11.1,95.2 Z" fill="#ff0000"/><ellipse cx="26.4" cy="146.8" rx="2.3" ry="2.3" fill="#ff0000"/><ellipse cx="45.3" cy="152.6" rx="6.5" ry="6.5" fill="#ff0000"/></g><g filter="url(#bl1)"><ellipse cx="55" cy="20" rx="3" ry="4" fill="#fff" opacity="0.95"/><ellipse cx="57.8" cy="40.5" rx="2" ry="3" fill="#fff" opacity="0.9"/></g><g filter="url(#bl05)"><path d="M18,47 C19,40 22,35 26.5,31.3 C32,26 40,22 46.4,20 C50,19 53,18.5 56,18.5" fill="none" stroke="#fff" stroke-width="1.1" stroke-opacity="0.85" stroke-linecap="round"/><path d="M19.4,54 C21,58 24,60 27,62" fill="none" stroke="#fff" stroke-width="1.0" stroke-opacity="0.8" stroke-linecap="round"/><path d="M28,67 C32,70 36,72 39.3,74" fill="none" stroke="#fff" stroke-width="0.9" stroke-opacity="0.5" stroke-linecap="round"/><path d="M11,96 C20,92 30,90 45,91" fill="none" stroke="#fff" stroke-width="1.0" stroke-opacity="0.6" stroke-linecap="round" stroke-dasharray="1.5,1.5"/></g></g></g>
<g transform="translate(110.0,207.0)"><clipPath id="cpa2"><rect width="66.5" height="66"/></clipPath><g clip-path="url(#cpa2)"><rect width="66.5" height="66" fill="#000"/><g filter="url(#bl15)"><ellipse cx="33.5" cy="40" rx="33" ry="34" fill="#0a1ee8"/><rect x="0" y="48" width="66.5" height="18" fill="#0a1ee8"/></g><g filter="url(#bl2)"><ellipse cx="31" cy="33" rx="14" ry="11" fill="#000030" opacity="0.9"/><ellipse cx="17.7" cy="46.4" rx="5" ry="4.5" fill="#000040"/><ellipse cx="48.6" cy="48.6" rx="5" ry="4.5" fill="#000040"/></g><g filter="url(#bl12)" opacity="0.75"><ellipse cx="42" cy="12.7" rx="10.5" ry="8.5" fill="#1e90ff"/><ellipse cx="14.3" cy="61.5" rx="9.9" ry="7.4" fill="#1e90ff"/><ellipse cx="14.3" cy="61.8" rx="9.2" ry="7.7" fill="#1e90ff"/><ellipse cx="14" cy="63" rx="8.5" ry="7.5" fill="#1e90ff"/><ellipse cx="57.4" cy="59.6" rx="5.4" ry="5.4" fill="#1e90ff"/><ellipse cx="4" cy="33" rx="3.9" ry="4.4" fill="#1e90ff"/></g><g filter="url(#bl1)"><ellipse cx="42" cy="12.7" rx="8.7" ry="6.7" fill="#12d812"/><ellipse cx="14.3" cy="61.5" rx="7.5" ry="5.0" fill="#12d812"/><ellipse cx="14.3" cy="61.8" rx="7.0" ry="5.5" fill="#12d812"/><ellipse cx="14" cy="63" rx="6.7" ry="5.7" fill="#12d812"/><ellipse cx="57.4" cy="59.6" rx="3.0" ry="3.0" fill="#12d812"/><ellipse cx="4" cy="33" rx="1.5" ry="2.0" fill="#12d812"/></g><g filter="url(#bl08)"><ellipse cx="42" cy="12.7" rx="6.9" ry="4.9" fill="#f2f000"/><ellipse cx="14.3" cy="61.8" rx="5.0" ry="3.5" fill="#f2f000"/><ellipse cx="14" cy="63" rx="4.9" ry="3.9" fill="#f2f000"/></g><g filter="url(#bl06)"><ellipse cx="42" cy="12.7" rx="5.0" ry="3.0" fill="#ff0000"/><ellipse cx="14" cy="63" rx="3.0" ry="2.0" fill="#ff0000"/></g><g filter="url(#bl05)"><path d="M61.7,48.9 L62.5,46.0 L63.1,43.0 L63.4,40.0 L63.5,36.9 L63.2,33.8 L62.7,30.8 L61.9,27.8 L60.9,25.0 L59.6,22.2 L58.1,19.6 L56.3,17.2 L54.3,15.0 L52.2,13.0 L49.8,11.2 L47.4,9.6 L44.7,8.3 L42.0,7.3 L39.2,6.6 L36.4,6.1 L33.5,6.0 L30.6,6.1 L27.8,6.6 L25.0,7.3 L22.3,8.3 L19.6,9.6 L17.2,11.2 L14.8,13.0 L12.7,15.0 L10.7,17.2 L8.9,19.6 L7.4,22.2 L6.1,25.0 L5.1,27.8 L4.3,30.8 L3.8,33.8 L3.5,36.9 L3.6,40.0 L3.9,43.0 L4.5,46.0 L5.3,48.9" fill="none" stroke="#b0b0ff" stroke-width="3.4" stroke-opacity="0.3"/><path d="M61.7,48.9 L62.5,46.0 L63.1,43.0 L63.4,40.0 L63.5,36.9 L63.2,33.8 L62.7,30.8 L61.9,27.8 L60.9,25.0 L59.6,22.2 L58.1,19.6 L56.3,17.2 L54.3,15.0 L52.2,13.0 L49.8,11.2 L47.4,9.6 L44.7,8.3 L42.0,7.3 L39.2,6.6 L36.4,6.1 L33.5,6.0 L30.6,6.1 L27.8,6.6 L25.0,7.3 L22.3,8.3 L19.6,9.6 L17.2,11.2 L14.8,13.0 L12.7,15.0 L10.7,17.2 L8.9,19.6 L7.4,22.2 L6.1,25.0 L5.1,27.8 L4.3,30.8 L3.8,33.8 L3.5,36.9 L3.6,40.0 L3.9,43.0 L4.5,46.0 L5.3,48.9" fill="none" stroke="#dcdcff" stroke-width="1.7" stroke-opacity="0.7"/><path d="M41,44 C45,40 52,38 58,36" fill="none" stroke="#fff" stroke-width="1.5" stroke-opacity="0.7" stroke-linecap="round"/><path d="M6,37 C10,40 16,42 22,42" fill="none" stroke="#fff" stroke-width="1.3" stroke-opacity="0.6" stroke-linecap="round"/><path d="M26,45 L40,45" fill="none" stroke="#fff" stroke-width="1" stroke-opacity="0.5" stroke-linecap="round"/></g><line x1="27.6" y1="31.5" x2="34.4" y2="24.3" stroke="#fff" stroke-width="1.1"/><path d="M37,21.5 L35.9,25.7 L32.9,22.8 Z" fill="#fff"/></g></g>
<g transform="translate(110.0,278.5)"><clipPath id="cpa3"><rect width="66.5" height="99.1"/></clipPath><g clip-path="url(#cpa3)"><rect width="66.5" height="99.1" fill="#000"/><ellipse cx="18" cy="1.5" rx="9" ry="2.5" fill="#555" opacity="0.22"/><ellipse cx="50" cy="1.5" rx="9" ry="2.5" fill="#555" opacity="0.22"/><g filter="url(#bl15)"><path d="M33.4,9.5 C30.9,10.5 27.8,10.4 25.0,12.9 C22.2,15.4 19.2,20.4 16.7,24.6 C14.2,28.8 11.7,33.0 10.0,38.0 C8.3,43.0 7.0,49.1 6.7,54.6 C6.4,60.1 7.0,66.3 8.4,71.3 C9.8,76.3 12.0,81.1 15.0,84.7 C18.1,88.3 22.2,91.3 26.7,93.0 C31.2,94.7 37.3,95.5 41.8,94.7 C46.3,93.9 50.4,91.3 53.5,88.0 C56.6,84.7 58.7,79.7 60.2,74.7 C61.7,69.7 63.0,63.6 62.7,58.0 C62.4,52.4 60.6,46.9 58.5,41.3 C56.4,35.7 52.5,29.3 50.0,24.6 C47.5,19.9 45.1,15.8 43.4,12.9 C41.7,10.0 41.7,7.6 40.0,7.0 C38.3,6.4 35.9,8.5 33.4,9.5 Z" fill="#0a1ee8"/></g><g filter="url(#bl2)"><ellipse cx="33" cy="28" rx="10" ry="12" fill="#00087a" opacity="0.5"/></g><g filter="url(#bl12)" opacity="0.75"><ellipse cx="41.8" cy="30" rx="9.4" ry="9.4" fill="#1e90ff"/><ellipse cx="17" cy="45.5" rx="8.9" ry="7.9" fill="#1e90ff"/><ellipse cx="42" cy="64" rx="13.4" ry="11.4" fill="#1e90ff"/><ellipse cx="45" cy="61" rx="10.2" ry="7.7" fill="#1e90ff"/><ellipse cx="41.8" cy="60.5" rx="8.5" ry="8.0" fill="#1e90ff"/><ellipse cx="45" cy="68" rx="6.2" ry="6.2" fill="#1e90ff"/></g><g filter="url(#bl1)"><ellipse cx="41.8" cy="30" rx="7.0" ry="7.0" fill="#12d812"/><ellipse cx="17" cy="45.5" rx="6.5" ry="5.5" fill="#12d812"/><ellipse cx="42" cy="64" rx="11.0" ry="9.0" fill="#12d812"/><ellipse cx="45" cy="61" rx="8.0" ry="5.5" fill="#12d812"/><ellipse cx="41.8" cy="60.5" rx="6.7" ry="6.2" fill="#12d812"/><ellipse cx="45" cy="68" rx="4.0" ry="4.0" fill="#12d812"/></g><g filter="url(#bl08)"><ellipse cx="45" cy="61" rx="6.0" ry="3.5" fill="#f2f000"/><ellipse cx="41.8" cy="60.5" rx="4.9" ry="4.4" fill="#f2f000"/><ellipse cx="45" cy="68" rx="2.0" ry="2.0" fill="#f2f000"/></g><g filter="url(#bl06)"><ellipse cx="41.8" cy="60.5" rx="3.0" ry="2.5" fill="#ff0000"/></g><g filter="url(#bl05)"><path d="M33.4,9.5 C30.9,10.5 27.8,10.4 25.0,12.9 C22.2,15.4 19.2,20.4 16.7,24.6 C14.2,28.8 11.7,33.0 10.0,38.0 C8.3,43.0 7.0,49.1 6.7,54.6 C6.4,60.1 7.0,66.3 8.4,71.3 C9.8,76.3 12.0,81.1 15.0,84.7 C18.1,88.3 22.2,91.3 26.7,93.0 C31.2,94.7 37.3,95.5 41.8,94.7 C46.3,93.9 50.4,91.3 53.5,88.0 C56.6,84.7 58.7,79.7 60.2,74.7 C61.7,69.7 63.0,63.6 62.7,58.0 C62.4,52.4 60.6,46.9 58.5,41.3 C56.4,35.7 52.5,29.3 50.0,24.6 C47.5,19.9 45.1,15.8 43.4,12.9 C41.7,10.0 41.7,7.6 40.0,7.0 C38.3,6.4 35.9,8.5 33.4,9.5 Z" fill="none" stroke="#b0b0ff" stroke-width="4.2" stroke-opacity="0.3"/><path d="M33.4,9.5 C30.9,10.5 27.8,10.4 25.0,12.9 C22.2,15.4 19.2,20.4 16.7,24.6 C14.2,28.8 11.7,33.0 10.0,38.0 C8.3,43.0 7.0,49.1 6.7,54.6 C6.4,60.1 7.0,66.3 8.4,71.3 C9.8,76.3 12.0,81.1 15.0,84.7 C18.1,88.3 22.2,91.3 26.7,93.0 C31.2,94.7 37.3,95.5 41.8,94.7 C46.3,93.9 50.4,91.3 53.5,88.0 C56.6,84.7 58.7,79.7 60.2,74.7 C61.7,69.7 63.0,63.6 62.7,58.0 C62.4,52.4 60.6,46.9 58.5,41.3 C56.4,35.7 52.5,29.3 50.0,24.6 C47.5,19.9 45.1,15.8 43.4,12.9 C41.7,10.0 41.7,7.6 40.0,7.0 C38.3,6.4 35.9,8.5 33.4,9.5 Z" fill="none" stroke="#dcdcff" stroke-width="2.1" stroke-opacity="0.85"/><path d="M28,10 C30,6 33,6 35,9 C37,5 40,5 42,8" fill="none" stroke="#fff" stroke-width="1.5" stroke-opacity="0.9" stroke-linecap="round"/></g><line x1="26.7" y1="79.7" x2="34.0" y2="73.1" stroke="#fff" stroke-width="1.1"/><path d="M36.8,70.5 L35.4,74.6 L32.6,71.5 Z" fill="#fff"/></g></g>
<g transform="translate(257.0,207.0)"><clipPath id="cpb2"><rect width="66.0" height="66"/></clipPath><g clip-path="url(#cpb2)"><rect width="66.0" height="66" fill="#000"/><g filter="url(#bl15)"><ellipse cx="33" cy="40" rx="33" ry="33" fill="#0a1ee8"/><rect x="0" y="48" width="66" height="18" fill="#0a1ee8"/></g><g filter="url(#bl2)"><ellipse cx="33" cy="32" rx="11" ry="10" fill="#000030" opacity="0.9"/><ellipse cx="16.5" cy="46.4" rx="5" ry="4.5" fill="#000040"/><ellipse cx="49.7" cy="46.4" rx="5" ry="4.5" fill="#000040"/></g><g filter="url(#bl12)" opacity="0.75"><ellipse cx="38.5" cy="14.8" rx="13.4" ry="7.9" fill="#1e90ff"/><ellipse cx="41" cy="14" rx="10.2" ry="7.7" fill="#1e90ff"/><ellipse cx="44" cy="12.7" rx="9.0" ry="8.0" fill="#1e90ff"/><ellipse cx="6" cy="57" rx="11.4" ry="12.4" fill="#1e90ff"/><ellipse cx="5.5" cy="57" rx="10.7" ry="10.2" fill="#1e90ff"/><ellipse cx="4" cy="55" rx="8.0" ry="8.0" fill="#1e90ff"/><ellipse cx="8" cy="60" rx="8.0" ry="8.0" fill="#1e90ff"/><ellipse cx="57.5" cy="57.5" rx="11.4" ry="11.4" fill="#1e90ff"/><ellipse cx="55.5" cy="58" rx="9.7" ry="10.2" fill="#1e90ff"/><ellipse cx="55" cy="58" rx="7.7" ry="9.0" fill="#1e90ff"/><ellipse cx="46.4" cy="65" rx="8.0" ry="7.3" fill="#1e90ff"/></g><g filter="url(#bl1)"><ellipse cx="38.5" cy="14.8" rx="11.0" ry="5.5" fill="#12d812"/><ellipse cx="41" cy="14" rx="8.0" ry="5.5" fill="#12d812"/><ellipse cx="44" cy="12.7" rx="7.2" ry="6.2" fill="#12d812"/><ellipse cx="6" cy="57" rx="9.0" ry="10.0" fill="#12d812"/><ellipse cx="5.5" cy="57" rx="8.5" ry="8.0" fill="#12d812"/><ellipse cx="4" cy="55" rx="6.2" ry="6.2" fill="#12d812"/><ellipse cx="8" cy="60" rx="6.2" ry="6.2" fill="#12d812"/><ellipse cx="57.5" cy="57.5" rx="9.0" ry="9.0" fill="#12d812"/><ellipse cx="55.5" cy="58" rx="7.5" ry="8.0" fill="#12d812"/><ellipse cx="55" cy="58" rx="5.9" ry="7.2" fill="#12d812"/><ellipse cx="46.4" cy="65" rx="6.2" ry="5.5" fill="#12d812"/></g><g filter="url(#bl08)"><ellipse cx="41" cy="14" rx="6.0" ry="3.5" fill="#f2f000"/><ellipse cx="44" cy="12.7" rx="5.4" ry="4.4" fill="#f2f000"/><ellipse cx="5.5" cy="57" rx="6.5" ry="6.0" fill="#f2f000"/><ellipse cx="4" cy="55" rx="4.4" ry="4.4" fill="#f2f000"/><ellipse cx="8" cy="60" rx="4.4" ry="4.4" fill="#f2f000"/><ellipse cx="55.5" cy="58" rx="5.5" ry="6.0" fill="#f2f000"/><ellipse cx="55" cy="58" rx="4.1" ry="5.4" fill="#f2f000"/><ellipse cx="46.4" cy="65" rx="4.4" ry="3.7" fill="#f2f000"/></g><g filter="url(#bl06)"><ellipse cx="44" cy="12.7" rx="3.5" ry="2.5" fill="#ff0000"/><ellipse cx="4" cy="55" rx="2.5" ry="2.5" fill="#ff0000"/><ellipse cx="8" cy="60" rx="2.5" ry="2.5" fill="#ff0000"/><ellipse cx="55" cy="58" rx="2.2" ry="3.5" fill="#ff0000"/><ellipse cx="46.4" cy="65" rx="2.5" ry="1.8" fill="#ff0000"/></g><g filter="url(#bl05)"><path d="M61.2,50.9 L62.0,48.0 L62.6,45.0 L62.9,42.0 L63.0,38.9 L62.7,35.8 L62.2,32.8 L61.4,29.8 L60.4,27.0 L59.1,24.2 L57.6,21.6 L55.8,19.2 L53.8,17.0 L51.7,15.0 L49.3,13.2 L46.9,11.6 L44.2,10.3 L41.5,9.3 L38.7,8.6 L35.9,8.1 L33.0,8.0 L30.1,8.1 L27.3,8.6 L24.5,9.3 L21.8,10.3 L19.1,11.6 L16.7,13.2 L14.3,15.0 L12.2,17.0 L10.2,19.2 L8.4,21.6 L6.9,24.2 L5.6,27.0 L4.6,29.8 L3.8,32.8 L3.3,35.8 L3.0,38.9 L3.1,42.0 L3.4,45.0 L4.0,48.0 L4.8,50.9" fill="none" stroke="#b0b0ff" stroke-width="3.4" stroke-opacity="0.3"/><path d="M61.2,50.9 L62.0,48.0 L62.6,45.0 L62.9,42.0 L63.0,38.9 L62.7,35.8 L62.2,32.8 L61.4,29.8 L60.4,27.0 L59.1,24.2 L57.6,21.6 L55.8,19.2 L53.8,17.0 L51.7,15.0 L49.3,13.2 L46.9,11.6 L44.2,10.3 L41.5,9.3 L38.7,8.6 L35.9,8.1 L33.0,8.0 L30.1,8.1 L27.3,8.6 L24.5,9.3 L21.8,10.3 L19.1,11.6 L16.7,13.2 L14.3,15.0 L12.2,17.0 L10.2,19.2 L8.4,21.6 L6.9,24.2 L5.6,27.0 L4.6,29.8 L3.8,32.8 L3.3,35.8 L3.0,38.9 L3.1,42.0 L3.4,45.0 L4.0,48.0 L4.8,50.9" fill="none" stroke="#dcdcff" stroke-width="1.7" stroke-opacity="0.7"/><path d="M25,44 L44,44" fill="none" stroke="#fff" stroke-width="1.2" stroke-opacity="0.7" stroke-linecap="round"/><path d="M8,38 C12,40 16,42 22,43" fill="none" stroke="#fff" stroke-width="1.2" stroke-opacity="0.6" stroke-linecap="round"/><path d="M44,43 C48,40 54,38 58,37" fill="none" stroke="#fff" stroke-width="1.2" stroke-opacity="0.6" stroke-linecap="round"/></g><line x1="29.2" y1="28.7" x2="35.0" y2="22.1" stroke="#fff" stroke-width="1.1"/><path d="M37.5,19.3 L36.6,23.5 L33.4,20.8 Z" fill="#fff"/></g></g>
<g transform="translate(257.0,278.6)"><clipPath id="cpb3"><rect width="66.0" height="99"/></clipPath><g clip-path="url(#cpb3)"><rect width="66.0" height="99" fill="#000"/><ellipse cx="25" cy="3" rx="8" ry="3" fill="#444" opacity="0.25"/><ellipse cx="45" cy="3" rx="8" ry="3" fill="#444" opacity="0.25"/><g filter="url(#bl15)"><path d="M30.0,11.1 C27.8,11.9 24.5,13.0 21.7,16.1 C18.9,19.2 15.9,23.9 13.4,29.5 C10.9,35.1 7.8,43.4 6.7,49.5 C5.6,55.6 5.6,60.9 6.7,66.2 C7.8,71.5 10.1,77.1 13.4,81.3 C16.7,85.5 22.0,89.5 26.7,91.3 C31.4,93.1 37.1,93.2 41.8,92.1 C46.5,91.0 51.6,88.3 55.1,84.6 C58.6,80.8 61.4,74.9 62.7,69.6 C64.0,64.3 63.7,58.5 62.7,52.9 C61.7,47.3 59.2,41.2 56.8,36.2 C54.4,31.2 50.7,26.7 48.5,22.8 C46.3,18.9 44.8,15.0 43.4,12.8 C42.0,10.6 41.4,9.7 40.0,9.4 C38.6,9.1 36.7,10.7 35.0,11.0 C33.3,11.3 32.2,10.2 30.0,11.1 Z" fill="#0a1ee8"/></g><g filter="url(#bl2)"><ellipse cx="33" cy="25" rx="10" ry="8" fill="#00087a" opacity="0.6"/></g><g filter="url(#bl12)" opacity="0.75"><ellipse cx="41.7" cy="60.5" rx="12.4" ry="11.4" fill="#1e90ff"/><ellipse cx="40" cy="34.5" rx="7.9" ry="7.9" fill="#1e90ff"/><ellipse cx="20" cy="47.9" rx="8.4" ry="5.9" fill="#1e90ff"/><ellipse cx="40.9" cy="57.9" rx="10.0" ry="10.0" fill="#1e90ff"/></g><g filter="url(#bl1)"><ellipse cx="41.7" cy="60.5" rx="10.0" ry="9.0" fill="#12d812"/><ellipse cx="40" cy="34.5" rx="5.5" ry="5.5" fill="#12d812"/><ellipse cx="20" cy="47.9" rx="6.0" ry="3.5" fill="#12d812"/><ellipse cx="40.9" cy="57.9" rx="8.2" ry="8.2" fill="#12d812"/></g><g filter="url(#bl08)"><ellipse cx="40.9" cy="57.9" rx="6.4" ry="6.4" fill="#f2f000"/></g><g filter="url(#bl06)"><ellipse cx="40.9" cy="57.9" rx="4.5" ry="4.5" fill="#ff0000"/></g><g filter="url(#bl05)"><path d="M30.0,11.1 C27.8,11.9 24.5,13.0 21.7,16.1 C18.9,19.2 15.9,23.9 13.4,29.5 C10.9,35.1 7.8,43.4 6.7,49.5 C5.6,55.6 5.6,60.9 6.7,66.2 C7.8,71.5 10.1,77.1 13.4,81.3 C16.7,85.5 22.0,89.5 26.7,91.3 C31.4,93.1 37.1,93.2 41.8,92.1 C46.5,91.0 51.6,88.3 55.1,84.6 C58.6,80.8 61.4,74.9 62.7,69.6 C64.0,64.3 63.7,58.5 62.7,52.9 C61.7,47.3 59.2,41.2 56.8,36.2 C54.4,31.2 50.7,26.7 48.5,22.8 C46.3,18.9 44.8,15.0 43.4,12.8 C42.0,10.6 41.4,9.7 40.0,9.4 C38.6,9.1 36.7,10.7 35.0,11.0 C33.3,11.3 32.2,10.2 30.0,11.1 Z" fill="none" stroke="#b0b0ff" stroke-width="5.2" stroke-opacity="0.3"/><path d="M30.0,11.1 C27.8,11.9 24.5,13.0 21.7,16.1 C18.9,19.2 15.9,23.9 13.4,29.5 C10.9,35.1 7.8,43.4 6.7,49.5 C5.6,55.6 5.6,60.9 6.7,66.2 C7.8,71.5 10.1,77.1 13.4,81.3 C16.7,85.5 22.0,89.5 26.7,91.3 C31.4,93.1 37.1,93.2 41.8,92.1 C46.5,91.0 51.6,88.3 55.1,84.6 C58.6,80.8 61.4,74.9 62.7,69.6 C64.0,64.3 63.7,58.5 62.7,52.9 C61.7,47.3 59.2,41.2 56.8,36.2 C54.4,31.2 50.7,26.7 48.5,22.8 C46.3,18.9 44.8,15.0 43.4,12.8 C42.0,10.6 41.4,9.7 40.0,9.4 C38.6,9.1 36.7,10.7 35.0,11.0 C33.3,11.3 32.2,10.2 30.0,11.1 Z" fill="none" stroke="#dcdcff" stroke-width="2.6" stroke-opacity="0.85"/><path d="M24,14 C27,8 31,8 33,11 C36,7 40,7 43,11" fill="none" stroke="#fff" stroke-width="1.7" stroke-opacity="0.9" stroke-linecap="round"/></g><line x1="26.7" y1="76.3" x2="31.9" y2="69.9" stroke="#fff" stroke-width="1.1"/><path d="M34.3,67 L33.5,71.3 L30.3,68.6 Z" fill="#fff"/></g></g>
<g transform="translate(403.5,207.0)"><clipPath id="cpc2"><rect width="66.5" height="66"/></clipPath><g clip-path="url(#cpc2)"><rect width="66.5" height="66" fill="#000"/><g filter="url(#bl15)"><ellipse cx="34" cy="43" rx="33" ry="34" fill="#0a1ee8"/><rect x="0" y="50" width="66.5" height="16" fill="#0a1ee8"/></g><g filter="url(#bl2)"><ellipse cx="33" cy="35" rx="22" ry="16" fill="#00087a" opacity="0.9"/><ellipse cx="33" cy="31" rx="12" ry="9" fill="#000020" opacity="0.9"/></g><g filter="url(#bl12)" opacity="0.75"><ellipse cx="35.8" cy="16.5" rx="9.4" ry="5.9" fill="#1e90ff"/><ellipse cx="35.3" cy="15.5" rx="8.7" ry="6.2" fill="#1e90ff"/><ellipse cx="10" cy="49.7" rx="7.4" ry="7.4" fill="#1e90ff"/></g><g filter="url(#bl1)"><ellipse cx="35.8" cy="16.5" rx="7.0" ry="3.5" fill="#12d812"/><ellipse cx="35.3" cy="15.5" rx="6.5" ry="4.0" fill="#12d812"/><ellipse cx="10" cy="49.7" rx="5.0" ry="5.0" fill="#12d812"/></g><g filter="url(#bl08)"><ellipse cx="35.3" cy="15.5" rx="4.5" ry="2.0" fill="#f2f000"/></g><g filter="url(#bl1)"><ellipse cx="10" cy="42" rx="3" ry="3" fill="#1e90ff" opacity="0.8"/><ellipse cx="57.4" cy="39.7" rx="3" ry="4" fill="#80b0ff" opacity="0.8"/><ellipse cx="34.2" cy="45.3" rx="5" ry="1.5" fill="#fff" opacity="0.9"/><ellipse cx="24.3" cy="50.8" rx="4" ry="2" fill="#1e90ff" opacity="0.7"/></g><g filter="url(#bl05)"><path d="M59.4,61.9 L61.2,58.9 L62.6,55.6 L63.8,52.2 L64.5,48.7 L64.9,45.2 L65.0,41.6 L64.6,38.0 L63.9,34.5 L62.9,31.0 L61.5,27.8 L59.8,24.7 L57.7,21.8 L55.4,19.2 L52.9,16.8 L50.1,14.8 L47.1,13.1 L44.0,11.8 L40.7,10.8 L37.4,10.2 L34.0,10.0 L30.6,10.2 L27.3,10.8 L24.0,11.8 L20.9,13.1 L17.9,14.8 L15.1,16.8 L12.6,19.2 L10.3,21.8 L8.2,24.7 L6.5,27.8 L5.1,31.0 L4.1,34.5 L3.4,38.0 L3.0,41.6 L3.1,45.2 L3.5,48.7 L4.2,52.2 L5.4,55.6 L6.8,58.9 L8.6,61.9" fill="none" stroke="#b0b0ff" stroke-width="3.6" stroke-opacity="0.3"/><path d="M59.4,61.9 L61.2,58.9 L62.6,55.6 L63.8,52.2 L64.5,48.7 L64.9,45.2 L65.0,41.6 L64.6,38.0 L63.9,34.5 L62.9,31.0 L61.5,27.8 L59.8,24.7 L57.7,21.8 L55.4,19.2 L52.9,16.8 L50.1,14.8 L47.1,13.1 L44.0,11.8 L40.7,10.8 L37.4,10.2 L34.0,10.0 L30.6,10.2 L27.3,10.8 L24.0,11.8 L20.9,13.1 L17.9,14.8 L15.1,16.8 L12.6,19.2 L10.3,21.8 L8.2,24.7 L6.5,27.8 L5.1,31.0 L4.1,34.5 L3.4,38.0 L3.0,41.6 L3.1,45.2 L3.5,48.7 L4.2,52.2 L5.4,55.6 L6.8,58.9 L8.6,61.9" fill="none" stroke="#dcdcff" stroke-width="1.8" stroke-opacity="0.75"/><path d="M5,58 C10,56 16,56 20,62" fill="none" stroke="#fff" stroke-width="1" stroke-opacity="0.6" stroke-linecap="round"/><path d="M50,60 C54,56 58,54 62,54" fill="none" stroke="#fff" stroke-width="1" stroke-opacity="0.6" stroke-linecap="round"/></g><line x1="24.8" y1="29.2" x2="31.1" y2="22.6" stroke="#fff" stroke-width="1.1"/><path d="M33.7,19.9 L32.6,24.1 L29.6,21.2 Z" fill="#fff"/></g></g>
<g transform="translate(403.5,278.6)"><clipPath id="cpc3"><rect width="66.5" height="99"/></clipPath><g clip-path="url(#cpc3)"><rect width="66.5" height="99" fill="#000"/><g filter="url(#bl15)"><ellipse cx="33" cy="96" rx="42" ry="20" fill="#101890" opacity="0.75"/><ellipse cx="32.5" cy="47" rx="28.5" ry="31" fill="#0a1ee8"/></g><g filter="url(#bl2)"><ellipse cx="30" cy="50" rx="14" ry="14" fill="#00087a" opacity="0.6"/></g><g filter="url(#bl12)" opacity="0.75"><ellipse cx="48" cy="50" rx="9.4" ry="14.4" fill="#1e90ff"/><path d="M26.2,22.0 C26.7,20.2 28.2,19.2 30.0,18.5 C31.8,17.8 34.7,17.6 37.0,17.8 C39.3,18.1 42.2,18.8 44.0,20.0 C45.8,21.2 47.5,23.0 48.0,25.0 C48.5,27.0 48.0,30.4 47.0,32.0 C46.0,33.6 44.3,34.2 42.0,34.5 C39.7,34.8 35.5,34.4 33.0,33.5 C30.5,32.6 28.1,30.9 27.0,29.0 C25.9,27.1 25.7,23.8 26.2,22.0 Z" fill="#1e90ff" stroke="#1e90ff" stroke-width="11.0" stroke-linejoin="round"/><ellipse cx="48" cy="53.7" rx="6.7" ry="7.2" fill="#1e90ff"/></g><g filter="url(#bl1)"><ellipse cx="48" cy="50" rx="7.0" ry="12.0" fill="#12d812"/><path d="M26.2,22.0 C26.7,20.2 28.2,19.2 30.0,18.5 C31.8,17.8 34.7,17.6 37.0,17.8 C39.3,18.1 42.2,18.8 44.0,20.0 C45.8,21.2 47.5,23.0 48.0,25.0 C48.5,27.0 48.0,30.4 47.0,32.0 C46.0,33.6 44.3,34.2 42.0,34.5 C39.7,34.8 35.5,34.4 33.0,33.5 C30.5,32.6 28.1,30.9 27.0,29.0 C25.9,27.1 25.7,23.8 26.2,22.0 Z" fill="#12d812" stroke="#12d812" stroke-width="7.4" stroke-linejoin="round"/><ellipse cx="48" cy="53.7" rx="4.5" ry="5.0" fill="#12d812"/></g><g filter="url(#bl08)"><path d="M26.2,22.0 C26.7,20.2 28.2,19.2 30.0,18.5 C31.8,17.8 34.7,17.6 37.0,17.8 C39.3,18.1 42.2,18.8 44.0,20.0 C45.8,21.2 47.5,23.0 48.0,25.0 C48.5,27.0 48.0,30.4 47.0,32.0 C46.0,33.6 44.3,34.2 42.0,34.5 C39.7,34.8 35.5,34.4 33.0,33.5 C30.5,32.6 28.1,30.9 27.0,29.0 C25.9,27.1 25.7,23.8 26.2,22.0 Z" fill="#f2f000" stroke="#f2f000" stroke-width="3.8" stroke-linejoin="round"/><ellipse cx="48" cy="53.7" rx="2.5" ry="3.0" fill="#f2f000"/></g><g filter="url(#bl06)"><path d="M26.2,22.0 C26.7,20.2 28.2,19.2 30.0,18.5 C31.8,17.8 34.7,17.6 37.0,17.8 C39.3,18.1 42.2,18.8 44.0,20.0 C45.8,21.2 47.5,23.0 48.0,25.0 C48.5,27.0 48.0,30.4 47.0,32.0 C46.0,33.6 44.3,34.2 42.0,34.5 C39.7,34.8 35.5,34.4 33.0,33.5 C30.5,32.6 28.1,30.9 27.0,29.0 C25.9,27.1 25.7,23.8 26.2,22.0 Z" fill="#ff0000"/></g><g filter="url(#bl1)"><ellipse cx="12" cy="62" rx="4" ry="2" fill="#fff" opacity="0.7"/><ellipse cx="19.5" cy="73" rx="3" ry="2" fill="#1e90ff" opacity="0.7"/></g><g filter="url(#bl05)"><ellipse cx="32.5" cy="47" rx="28" ry="31" fill="none" stroke="#b0b0ff" stroke-width="4.2" stroke-opacity="0.3"/><ellipse cx="32.5" cy="47" rx="28" ry="31" fill="none" stroke="#dcdcff" stroke-width="2.1" stroke-opacity="0.75"/><path d="M28,24 L45,29" fill="none" stroke="#fff" stroke-width="1.5" stroke-opacity="0.6" stroke-linecap="round"/></g><line x1="35.4" y1="67.9" x2="41.1" y2="62.3" stroke="#fff" stroke-width="1.1"/><path d="M43.8,59.6 L42.6,63.8 L39.6,60.8 Z" fill="#fff"/></g></g>
<g transform="translate(110.0,386.0)"><clipPath id="cpd2"><rect width="66.5" height="65"/></clipPath><g clip-path="url(#cpd2)"><rect width="66.5" height="65" fill="#000"/><g filter="url(#bl15)"><ellipse cx="33" cy="38" rx="33" ry="33" fill="#0a1ee8"/><rect x="0" y="48" width="66.5" height="17" fill="#0a1ee8"/></g><g filter="url(#bl2)"><ellipse cx="33" cy="30" rx="11" ry="9" fill="#000030" opacity="0.9"/></g><g filter="url(#bl12)" opacity="0.75"><ellipse cx="10" cy="38" rx="7.4" ry="11.4" fill="#1e90ff"/><ellipse cx="10.9" cy="41.3" rx="7.2" ry="7.2" fill="#1e90ff"/><ellipse cx="56" cy="35" rx="8.4" ry="14.4" fill="#1e90ff"/><ellipse cx="61" cy="31.6" rx="6.7" ry="6.7" fill="#1e90ff"/><ellipse cx="33" cy="57" rx="29.4" ry="10.4" fill="#1e90ff"/><ellipse cx="18.5" cy="58.8" rx="10.5" ry="9.5" fill="#1e90ff"/><ellipse cx="54.4" cy="47.9" rx="9.5" ry="12.5" fill="#1e90ff"/><ellipse cx="43.5" cy="61" rx="7.2" ry="6.2" fill="#1e90ff"/><ellipse cx="40.3" cy="13" rx="4.9" ry="4.9" fill="#1e90ff"/><ellipse cx="29.4" cy="18.5" rx="4.4" ry="4.4" fill="#1e90ff"/><ellipse cx="26" cy="54" rx="7.2" ry="6.2" fill="#1e90ff"/><ellipse cx="12" cy="50" rx="7.2" ry="7.2" fill="#1e90ff"/></g><g filter="url(#bl1)"><ellipse cx="10" cy="38" rx="5.0" ry="9.0" fill="#12d812"/><ellipse cx="10.9" cy="41.3" rx="5.0" ry="5.0" fill="#12d812"/><ellipse cx="56" cy="35" rx="6.0" ry="12.0" fill="#12d812"/><ellipse cx="61" cy="31.6" rx="4.5" ry="4.5" fill="#12d812"/><ellipse cx="33" cy="57" rx="27.0" ry="8.0" fill="#12d812"/><ellipse cx="18.5" cy="58.8" rx="8.7" ry="7.7" fill="#12d812"/><ellipse cx="54.4" cy="47.9" rx="7.7" ry="10.7" fill="#12d812"/><ellipse cx="43.5" cy="61" rx="5.0" ry="4.0" fill="#12d812"/><ellipse cx="40.3" cy="13" rx="2.5" ry="2.5" fill="#12d812"/><ellipse cx="29.4" cy="18.5" rx="2.0" ry="2.0" fill="#12d812"/><ellipse cx="26" cy="54" rx="5.0" ry="4.0" fill="#12d812"/><ellipse cx="12" cy="50" rx="5.0" ry="5.0" fill="#12d812"/></g><g filter="url(#bl08)"><ellipse cx="10.9" cy="41.3" rx="3.0" ry="3.0" fill="#f2f000"/><ellipse cx="61" cy="31.6" rx="2.5" ry="2.5" fill="#f2f000"/><ellipse cx="18.5" cy="58.8" rx="6.9" ry="5.9" fill="#f2f000"/><ellipse cx="54.4" cy="47.9" rx="5.9" ry="8.9" fill="#f2f000"/><ellipse cx="43.5" cy="61" rx="3.0" ry="2.0" fill="#f2f000"/><ellipse cx="26" cy="54" rx="3.0" ry="2.0" fill="#f2f000"/><ellipse cx="12" cy="50" rx="3.0" ry="3.0" fill="#f2f000"/></g><g filter="url(#bl06)"><ellipse cx="18.5" cy="58.8" rx="5.0" ry="4.0" fill="#ff0000"/><ellipse cx="54.4" cy="47.9" rx="4.0" ry="7.0" fill="#ff0000"/></g><g filter="url(#bl1)"><ellipse cx="34.8" cy="40.8" rx="4.5" ry="1.5" fill="#fff" opacity="0.95"/><ellipse cx="10.9" cy="25" rx="2" ry="2" fill="#1e90ff" opacity="0.8"/><ellipse cx="30" cy="48" rx="4" ry="3" fill="#0a1ee8" opacity="0.8"/></g><g filter="url(#bl05)"><path d="M60.2,51.1 L61.3,48.2 L62.2,45.2 L62.7,42.2 L63.0,39.1 L62.9,36.0 L62.6,32.9 L61.9,29.8 L61.0,26.9 L59.8,24.0 L58.3,21.3 L56.6,18.8 L54.6,16.5 L52.4,14.3 L50.0,12.5 L47.4,10.8 L44.7,9.5 L41.9,8.4 L39.0,7.6 L36.0,7.2 L33.0,7.0 L30.0,7.2 L27.0,7.6 L24.1,8.4 L21.3,9.5 L18.6,10.8 L16.0,12.5 L13.6,14.3 L11.4,16.5 L9.4,18.8 L7.7,21.3 L6.2,24.0 L5.0,26.9 L4.1,29.8 L3.4,32.9 L3.1,36.0 L3.0,39.1 L3.3,42.2 L3.8,45.2 L4.7,48.2 L5.8,51.1" fill="none" stroke="#b0b0ff" stroke-width="3.6" stroke-opacity="0.3"/><path d="M60.2,51.1 L61.3,48.2 L62.2,45.2 L62.7,42.2 L63.0,39.1 L62.9,36.0 L62.6,32.9 L61.9,29.8 L61.0,26.9 L59.8,24.0 L58.3,21.3 L56.6,18.8 L54.6,16.5 L52.4,14.3 L50.0,12.5 L47.4,10.8 L44.7,9.5 L41.9,8.4 L39.0,7.6 L36.0,7.2 L33.0,7.0 L30.0,7.2 L27.0,7.6 L24.1,8.4 L21.3,9.5 L18.6,10.8 L16.0,12.5 L13.6,14.3 L11.4,16.5 L9.4,18.8 L7.7,21.3 L6.2,24.0 L5.0,26.9 L4.1,29.8 L3.4,32.9 L3.1,36.0 L3.0,39.1 L3.3,42.2 L3.8,45.2 L4.7,48.2 L5.8,51.1" fill="none" stroke="#dcdcff" stroke-width="1.8" stroke-opacity="0.7"/></g><line x1="27.7" y1="26.7" x2="34.1" y2="21.4" stroke="#fff" stroke-width="1.1"/><path d="M37,19 L35.4,23.0 L32.7,19.8 Z" fill="#fff"/></g></g>
<g transform="translate(110.0,458)"><clipPath id="cpd3"><rect width="66.5" height="98.5"/></clipPath><g clip-path="url(#cpd3)"><rect width="66.5" height="98.5" fill="#000"/><g filter="url(#bl15)"><path d="M40.0,5.7 C38.0,5.9 33.3,6.0 30.0,7.4 C26.7,8.8 23.1,10.7 20.0,14.0 C16.9,17.3 13.9,22.1 11.7,27.4 C9.5,32.7 7.5,39.9 6.7,45.8 C5.9,51.6 5.9,57.8 6.7,62.5 C7.5,67.2 8.9,70.6 11.7,74.2 C14.5,77.8 18.9,82.2 23.4,84.2 C27.8,86.2 33.7,86.5 38.4,85.9 C43.1,85.4 48.2,83.7 51.8,80.9 C55.4,78.1 58.2,73.9 60.2,69.2 C62.2,64.5 63.5,57.8 63.5,52.5 C63.5,47.2 62.2,42.1 60.2,37.4 C58.2,32.6 54.3,28.2 51.8,24.0 C49.3,19.8 46.8,15.3 45.1,12.4 C43.4,9.5 42.6,7.6 41.8,6.5 C40.9,5.4 42.0,5.5 40.0,5.7 Z" fill="#0a1ee8"/></g><g filter="url(#bl2)"><ellipse cx="35" cy="25" rx="14" ry="12" fill="#00087a" opacity="0.5"/></g><g filter="url(#bl12)" opacity="0.75"><path d="M21.7,44.0 C24.8,42.2 33.6,42.6 40.0,42.4 C46.4,42.2 55.8,42.4 60.0,43.0 C64.2,43.6 64.2,44.5 65.0,46.0 C65.8,47.5 66.7,50.7 65.0,52.0 C63.3,53.3 60.0,53.7 55.0,54.0 C50.0,54.3 40.5,54.2 35.0,54.0 C29.4,53.8 23.9,54.7 21.7,53.0 C19.5,51.3 18.6,45.8 21.7,44.0 Z" fill="#1e90ff" stroke="#1e90ff" stroke-width="4.8" stroke-linejoin="round"/><ellipse cx="61" cy="48.3" rx="6.7" ry="6.7" fill="#1e90ff"/><ellipse cx="32" cy="69" rx="22.4" ry="14.4" fill="#1e90ff"/><ellipse cx="21.7" cy="69.2" rx="10.2" ry="7.7" fill="#1e90ff"/><ellipse cx="38.4" cy="77.5" rx="13.2" ry="8.7" fill="#1e90ff"/></g><g filter="url(#bl1)"><path d="M21.7,44.0 C24.8,42.2 33.6,42.6 40.0,42.4 C46.4,42.2 55.8,42.4 60.0,43.0 C64.2,43.6 64.2,44.5 65.0,46.0 C65.8,47.5 66.7,50.7 65.0,52.0 C63.3,53.3 60.0,53.7 55.0,54.0 C50.0,54.3 40.5,54.2 35.0,54.0 C29.4,53.8 23.9,54.7 21.7,53.0 C19.5,51.3 18.6,45.8 21.7,44.0 Z" fill="#12d812"/><ellipse cx="61" cy="48.3" rx="4.5" ry="4.5" fill="#12d812"/><ellipse cx="32" cy="69" rx="20.0" ry="12.0" fill="#12d812"/><ellipse cx="21.7" cy="69.2" rx="8.0" ry="5.5" fill="#12d812"/><ellipse cx="38.4" cy="77.5" rx="11.0" ry="6.5" fill="#12d812"/></g><g filter="url(#bl08)"><ellipse cx="61" cy="48.3" rx="2.5" ry="2.5" fill="#f2f000"/><ellipse cx="21.7" cy="69.2" rx="6.0" ry="3.5" fill="#f2f000"/><ellipse cx="38.4" cy="77.5" rx="9.0" ry="4.5" fill="#f2f000"/></g><g filter="url(#bl1)"><ellipse cx="33" cy="60" rx="4" ry="3" fill="#0a1ee8" opacity="0.9"/><ellipse cx="22" cy="58" rx="3" ry="2" fill="#1060f0" opacity="0.8"/></g><g filter="url(#bl05)"><path d="M40.0,5.7 C38.0,5.9 33.3,6.0 30.0,7.4 C26.7,8.8 23.1,10.7 20.0,14.0 C16.9,17.3 13.9,22.1 11.7,27.4 C9.5,32.7 7.5,39.9 6.7,45.8 C5.9,51.6 5.9,57.8 6.7,62.5 C7.5,67.2 8.9,70.6 11.7,74.2 C14.5,77.8 18.9,82.2 23.4,84.2 C27.8,86.2 33.7,86.5 38.4,85.9 C43.1,85.4 48.2,83.7 51.8,80.9 C55.4,78.1 58.2,73.9 60.2,69.2 C62.2,64.5 63.5,57.8 63.5,52.5 C63.5,47.2 62.2,42.1 60.2,37.4 C58.2,32.6 54.3,28.2 51.8,24.0 C49.3,19.8 46.8,15.3 45.1,12.4 C43.4,9.5 42.6,7.6 41.8,6.5 C40.9,5.4 42.0,5.5 40.0,5.7 Z" fill="none" stroke="#b0b0ff" stroke-width="4.7" stroke-opacity="0.3"/><path d="M40.0,5.7 C38.0,5.9 33.3,6.0 30.0,7.4 C26.7,8.8 23.1,10.7 20.0,14.0 C16.9,17.3 13.9,22.1 11.7,27.4 C9.5,32.7 7.5,39.9 6.7,45.8 C5.9,51.6 5.9,57.8 6.7,62.5 C7.5,67.2 8.9,70.6 11.7,74.2 C14.5,77.8 18.9,82.2 23.4,84.2 C27.8,86.2 33.7,86.5 38.4,85.9 C43.1,85.4 48.2,83.7 51.8,80.9 C55.4,78.1 58.2,73.9 60.2,69.2 C62.2,64.5 63.5,57.8 63.5,52.5 C63.5,47.2 62.2,42.1 60.2,37.4 C58.2,32.6 54.3,28.2 51.8,24.0 C49.3,19.8 46.8,15.3 45.1,12.4 C43.4,9.5 42.6,7.6 41.8,6.5 C40.9,5.4 42.0,5.5 40.0,5.7 Z" fill="none" stroke="#dcdcff" stroke-width="2.3" stroke-opacity="0.85"/><path d="M38,6 C42,5 45,9 46,14" fill="none" stroke="#fff" stroke-width="2.2" stroke-opacity="0.9" stroke-linecap="round"/></g><line x1="38.4" y1="65.8" x2="43.6" y2="59.5" stroke="#fff" stroke-width="1.1"/><path d="M46,56.6 L45.2,60.9 L42.0,58.2 Z" fill="#fff"/></g></g>
<g transform="translate(257.0,386.0)"><clipPath id="cpe2"><rect width="66.0" height="65"/></clipPath><g clip-path="url(#cpe2)"><rect width="66.0" height="65" fill="#000"/><g filter="url(#bl15)"><ellipse cx="33" cy="38" rx="33" ry="33" fill="#0a1ee8"/><rect x="0" y="48" width="66" height="17" fill="#0a1ee8"/></g><g filter="url(#bl2)"><ellipse cx="35" cy="30" rx="14" ry="10" fill="#000030" opacity="0.9"/></g><g filter="url(#bl12)" opacity="0.75"><ellipse cx="39.1" cy="14.1" rx="11.4" ry="7.4" fill="#1e90ff"/><ellipse cx="18" cy="55" rx="17.4" ry="12.4" fill="#1e90ff"/><ellipse cx="58" cy="50" rx="9.4" ry="12.4" fill="#1e90ff"/><ellipse cx="55.4" cy="52.2" rx="6.2" ry="6.2" fill="#1e90ff"/><ellipse cx="26" cy="61" rx="14.2" ry="9.2" fill="#1e90ff"/><ellipse cx="26" cy="61.5" rx="13.5" ry="10.0" fill="#1e90ff"/></g><g filter="url(#bl1)"><ellipse cx="39.1" cy="14.1" rx="9.0" ry="5.0" fill="#12d812"/><ellipse cx="18" cy="55" rx="15.0" ry="10.0" fill="#12d812"/><ellipse cx="58" cy="50" rx="7.0" ry="10.0" fill="#12d812"/><ellipse cx="55.4" cy="52.2" rx="4.0" ry="4.0" fill="#12d812"/><ellipse cx="26" cy="61" rx="12.0" ry="7.0" fill="#12d812"/><ellipse cx="26" cy="61.5" rx="11.7" ry="8.2" fill="#12d812"/></g><g filter="url(#bl08)"><ellipse cx="55.4" cy="52.2" rx="2.0" ry="2.0" fill="#f2f000"/><ellipse cx="26" cy="61" rx="10.0" ry="5.0" fill="#f2f000"/><ellipse cx="26" cy="61.5" rx="9.9" ry="6.4" fill="#f2f000"/></g><g filter="url(#bl06)"><ellipse cx="26" cy="61.5" rx="8.0" ry="4.5" fill="#ff0000"/></g><g filter="url(#bl1)"><ellipse cx="36" cy="45" rx="9" ry="3" fill="#a0c0ff" opacity="0.8"/></g><g filter="url(#bl05)"><path d="M60.2,51.1 L61.3,48.2 L62.2,45.2 L62.7,42.2 L63.0,39.1 L62.9,36.0 L62.6,32.9 L61.9,29.8 L61.0,26.9 L59.8,24.0 L58.3,21.3 L56.6,18.8 L54.6,16.5 L52.4,14.3 L50.0,12.5 L47.4,10.8 L44.7,9.5 L41.9,8.4 L39.0,7.6 L36.0,7.2 L33.0,7.0 L30.0,7.2 L27.0,7.6 L24.1,8.4 L21.3,9.5 L18.6,10.8 L16.0,12.5 L13.6,14.3 L11.4,16.5 L9.4,18.8 L7.7,21.3 L6.2,24.0 L5.0,26.9 L4.1,29.8 L3.4,32.9 L3.1,36.0 L3.0,39.1 L3.3,42.2 L3.8,45.2 L4.7,48.2 L5.8,51.1" fill="none" stroke="#b0b0ff" stroke-width="3.6" stroke-opacity="0.3"/><path d="M60.2,51.1 L61.3,48.2 L62.2,45.2 L62.7,42.2 L63.0,39.1 L62.9,36.0 L62.6,32.9 L61.9,29.8 L61.0,26.9 L59.8,24.0 L58.3,21.3 L56.6,18.8 L54.6,16.5 L52.4,14.3 L50.0,12.5 L47.4,10.8 L44.7,9.5 L41.9,8.4 L39.0,7.6 L36.0,7.2 L33.0,7.0 L30.0,7.2 L27.0,7.6 L24.1,8.4 L21.3,9.5 L18.6,10.8 L16.0,12.5 L13.6,14.3 L11.4,16.5 L9.4,18.8 L7.7,21.3 L6.2,24.0 L5.0,26.9 L4.1,29.8 L3.4,32.9 L3.1,36.0 L3.0,39.1 L3.3,42.2 L3.8,45.2 L4.7,48.2 L5.8,51.1" fill="none" stroke="#dcdcff" stroke-width="1.8" stroke-opacity="0.7"/></g><line x1="26" y1="28.8" x2="32.1" y2="22.8" stroke="#fff" stroke-width="1.1"/><path d="M34.8,20.1 L33.6,24.3 L30.6,21.3 Z" fill="#fff"/></g></g>
<g transform="translate(257.0,458)"><clipPath id="cpe3"><rect width="66.0" height="98.5"/></clipPath><g clip-path="url(#cpe3)"><rect width="66.0" height="98.5" fill="#000"/><path d="M1,4 V12" fill="none" stroke="#ddd" stroke-width="1.5"/><g filter="url(#bl15)"><path d="M40.0,8.2 C37.9,8.5 33.3,9.2 30.0,10.7 C26.7,12.2 23.1,13.8 20.0,17.4 C16.9,21.0 13.9,27.1 11.7,32.4 C9.5,37.7 7.2,43.0 6.7,49.1 C6.2,55.2 6.7,63.6 8.4,69.2 C10.1,74.8 12.8,79.0 16.7,82.5 C20.6,86.0 26.7,88.9 31.7,90.0 C36.7,91.1 42.3,91.0 46.8,89.2 C51.3,87.4 55.9,83.7 58.5,79.2 C61.1,74.8 62.4,68.1 62.7,62.5 C63.0,56.9 62.3,51.4 60.2,45.8 C58.1,40.2 52.6,33.7 50.1,29.0 C47.6,24.3 46.4,20.7 45.1,17.4 C43.9,14.1 43.5,10.5 42.6,9.0 C41.8,7.5 42.1,7.9 40.0,8.2 Z" fill="#0a1ee8"/></g><g filter="url(#bl2)"><ellipse cx="30" cy="28" rx="16" ry="14" fill="#000" opacity="0.9"/></g><g filter="url(#bl12)" opacity="0.75"><ellipse cx="21.7" cy="59.2" rx="9.4" ry="8.4" fill="#1e90ff"/><ellipse cx="20" cy="58" rx="6.2" ry="6.2" fill="#1e90ff"/><ellipse cx="48.5" cy="47.5" rx="6.9" ry="8.4" fill="#1e90ff"/><ellipse cx="48" cy="48" rx="6.2" ry="6.2" fill="#1e90ff"/><ellipse cx="43.4" cy="70.8" rx="12.4" ry="9.4" fill="#1e90ff"/><ellipse cx="25" cy="72.5" rx="8.4" ry="5.4" fill="#1e90ff"/></g><g filter="url(#bl1)"><ellipse cx="21.7" cy="59.2" rx="7.0" ry="6.0" fill="#12d812"/><ellipse cx="20" cy="58" rx="4.0" ry="4.0" fill="#12d812"/><ellipse cx="48.5" cy="47.5" rx="4.5" ry="6.0" fill="#12d812"/><ellipse cx="48" cy="48" rx="4.0" ry="4.0" fill="#12d812"/><ellipse cx="43.4" cy="70.8" rx="10.0" ry="7.0" fill="#12d812"/><ellipse cx="25" cy="72.5" rx="6.0" ry="3.0" fill="#12d812"/></g><g filter="url(#bl08)"><ellipse cx="20" cy="58" rx="2.0" ry="2.0" fill="#f2f000"/><ellipse cx="48" cy="48" rx="2.0" ry="2.0" fill="#f2f000"/></g><g filter="url(#bl05)"><path d="M40.0,8.2 C37.9,8.5 33.3,9.2 30.0,10.7 C26.7,12.2 23.1,13.8 20.0,17.4 C16.9,21.0 13.9,27.1 11.7,32.4 C9.5,37.7 7.2,43.0 6.7,49.1 C6.2,55.2 6.7,63.6 8.4,69.2 C10.1,74.8 12.8,79.0 16.7,82.5 C20.6,86.0 26.7,88.9 31.7,90.0 C36.7,91.1 42.3,91.0 46.8,89.2 C51.3,87.4 55.9,83.7 58.5,79.2 C61.1,74.8 62.4,68.1 62.7,62.5 C63.0,56.9 62.3,51.4 60.2,45.8 C58.1,40.2 52.6,33.7 50.1,29.0 C47.6,24.3 46.4,20.7 45.1,17.4 C43.9,14.1 43.5,10.5 42.6,9.0 C41.8,7.5 42.1,7.9 40.0,8.2 Z" fill="none" stroke="#b0b0ff" stroke-width="4.7" stroke-opacity="0.3"/><path d="M40.0,8.2 C37.9,8.5 33.3,9.2 30.0,10.7 C26.7,12.2 23.1,13.8 20.0,17.4 C16.9,21.0 13.9,27.1 11.7,32.4 C9.5,37.7 7.2,43.0 6.7,49.1 C6.2,55.2 6.7,63.6 8.4,69.2 C10.1,74.8 12.8,79.0 16.7,82.5 C20.6,86.0 26.7,88.9 31.7,90.0 C36.7,91.1 42.3,91.0 46.8,89.2 C51.3,87.4 55.9,83.7 58.5,79.2 C61.1,74.8 62.4,68.1 62.7,62.5 C63.0,56.9 62.3,51.4 60.2,45.8 C58.1,40.2 52.6,33.7 50.1,29.0 C47.6,24.3 46.4,20.7 45.1,17.4 C43.9,14.1 43.5,10.5 42.6,9.0 C41.8,7.5 42.1,7.9 40.0,8.2 Z" fill="none" stroke="#dcdcff" stroke-width="2.3" stroke-opacity="0.85"/><path d="M20,17.4 C28,11 35,8 40,8.2 C44,10 45,14 45.1,17.4" fill="none" stroke="#fff" stroke-width="2.6" stroke-opacity="0.9" stroke-linecap="round"/></g><line x1="32.6" y1="90" x2="39.2" y2="82.8" stroke="#fff" stroke-width="1.1"/><path d="M41.8,80 L40.8,84.2 L37.7,81.4 Z" fill="#fff"/></g></g>
<g transform="translate(403.5,386.0)"><clipPath id="cpf2"><rect width="66.5" height="65"/></clipPath><g clip-path="url(#cpf2)"><rect width="66.5" height="65" fill="#000"/><g filter="url(#bl15)"><ellipse cx="34" cy="38" rx="33" ry="33" fill="#0a1ee8"/><rect x="0" y="48" width="66.5" height="17" fill="#0a1ee8"/></g><g filter="url(#bl2)"><ellipse cx="33" cy="33" rx="22" ry="14" fill="#00087a" opacity="0.9"/><ellipse cx="33" cy="31" rx="12" ry="9" fill="#000020" opacity="0.9"/></g><g filter="url(#bl12)" opacity="0.75"><path d="M8.2,25.0 C8.4,23.5 12.2,18.3 15.0,16.0 C17.8,13.7 21.6,12.1 25.0,11.0 C28.4,9.9 31.9,9.5 35.4,9.5 C38.9,9.5 42.6,9.6 46.0,11.0 C49.4,12.4 54.5,15.8 56.0,18.0 C57.5,20.2 56.7,23.8 55.0,24.0 C53.3,24.2 49.3,20.2 46.0,19.0 C42.7,17.8 38.7,17.0 35.0,17.0 C31.3,17.0 27.5,17.7 24.0,19.0 C20.5,20.3 16.6,24.0 14.0,25.0 C11.4,26.0 8.0,26.5 8.2,25.0 Z" fill="#1e90ff" stroke="#1e90ff" stroke-width="4.8" stroke-linejoin="round"/><ellipse cx="11.5" cy="22.8" rx="6.2" ry="6.2" fill="#1e90ff"/><ellipse cx="1.7" cy="34.8" rx="5.4" ry="5.4" fill="#1e90ff"/><ellipse cx="58.3" cy="49" rx="5.4" ry="5.4" fill="#1e90ff"/><ellipse cx="33.8" cy="52" rx="8.4" ry="14.4" fill="#1e90ff"/><ellipse cx="35" cy="48.4" rx="8.2" ry="9.7" fill="#1e90ff"/><ellipse cx="35.4" cy="48.4" rx="7.7" ry="9.3" fill="#1e90ff"/></g><g filter="url(#bl1)"><path d="M8.2,25.0 C8.4,23.5 12.2,18.3 15.0,16.0 C17.8,13.7 21.6,12.1 25.0,11.0 C28.4,9.9 31.9,9.5 35.4,9.5 C38.9,9.5 42.6,9.6 46.0,11.0 C49.4,12.4 54.5,15.8 56.0,18.0 C57.5,20.2 56.7,23.8 55.0,24.0 C53.3,24.2 49.3,20.2 46.0,19.0 C42.7,17.8 38.7,17.0 35.0,17.0 C31.3,17.0 27.5,17.7 24.0,19.0 C20.5,20.3 16.6,24.0 14.0,25.0 C11.4,26.0 8.0,26.5 8.2,25.0 Z" fill="#12d812"/><ellipse cx="11.5" cy="22.8" rx="4.0" ry="4.0" fill="#12d812"/><ellipse cx="1.7" cy="34.8" rx="3.0" ry="3.0" fill="#12d812"/><ellipse cx="58.3" cy="49" rx="3.0" ry="3.0" fill="#12d812"/><ellipse cx="33.8" cy="52" rx="6.0" ry="12.0" fill="#12d812"/><ellipse cx="35" cy="48.4" rx="6.0" ry="7.5" fill="#12d812"/><ellipse cx="35.4" cy="48.4" rx="5.9" ry="7.5" fill="#12d812"/></g><g filter="url(#bl08)"><ellipse cx="11.5" cy="22.8" rx="2.0" ry="2.0" fill="#f2f000"/><ellipse cx="35" cy="48.4" rx="4.0" ry="5.5" fill="#f2f000"/><ellipse cx="35.4" cy="48.4" rx="4.1" ry="5.7" fill="#f2f000"/></g><g filter="url(#bl06)"><ellipse cx="35.4" cy="48.4" rx="2.2" ry="3.8" fill="#ff0000"/></g><g filter="url(#bl05)"><ellipse cx="34" cy="38" rx="30" ry="31" fill="none" stroke="#b0b0ff" stroke-width="3.9" stroke-opacity="0.3"/><ellipse cx="34" cy="38" rx="30" ry="31" fill="none" stroke="#dcdcff" stroke-width="2.0" stroke-opacity="0.8"/><path d="M5,30 C3,40 4,50 7,61" fill="none" stroke="#fff" stroke-width="2.2" stroke-opacity="0.95" stroke-linecap="round"/><path d="M61.5,41.3 C60,48 57,54 53.9,58.8" fill="none" stroke="#fff" stroke-width="2" stroke-opacity="0.9" stroke-linecap="round"/></g></g></g>
<g transform="translate(403.5,458)"><clipPath id="cpf3"><rect width="66.5" height="98.5"/></clipPath><g clip-path="url(#cpf3)"><rect width="66.5" height="98.5" fill="#000"/><g filter="url(#bl15)"><ellipse cx="33.8" cy="51" rx="28" ry="36" fill="#0a1ee8"/><rect x="0" y="50" width="12" height="48.5" fill="#0a1ee8"/><rect x="0" y="80" width="66.5" height="18.5" fill="#0a1ee8"/></g><g filter="url(#bl2)"><ellipse cx="34" cy="40" rx="15" ry="16" fill="#000020" opacity="0.9"/></g><g filter="url(#bl12)" opacity="0.75"><ellipse cx="31.2" cy="19" rx="8.4" ry="4.9" fill="#1e90ff"/><ellipse cx="33.7" cy="70.7" rx="16.4" ry="12.4" fill="#1e90ff"/><ellipse cx="31" cy="72.5" rx="11.2" ry="9.2" fill="#1e90ff"/><ellipse cx="30.4" cy="74.2" rx="9.5" ry="8.0" fill="#1e90ff"/><ellipse cx="4.5" cy="49" rx="5.4" ry="5.4" fill="#1e90ff"/></g><g filter="url(#bl1)"><ellipse cx="31.2" cy="19" rx="6.0" ry="2.5" fill="#12d812"/><ellipse cx="33.7" cy="70.7" rx="14.0" ry="10.0" fill="#12d812"/><ellipse cx="31" cy="72.5" rx="9.0" ry="7.0" fill="#12d812"/><ellipse cx="30.4" cy="74.2" rx="7.7" ry="6.2" fill="#12d812"/><ellipse cx="4.5" cy="49" rx="3.0" ry="3.0" fill="#12d812"/></g><g filter="url(#bl08)"><ellipse cx="31" cy="72.5" rx="7.0" ry="5.0" fill="#f2f000"/><ellipse cx="30.4" cy="74.2" rx="5.9" ry="4.4" fill="#f2f000"/></g><g filter="url(#bl06)"><ellipse cx="30.4" cy="74.2" rx="4.0" ry="2.5" fill="#ff0000"/></g><g filter="url(#bl1)"><ellipse cx="12.9" cy="65.8" rx="5" ry="6" fill="#fff" opacity="0.85"/></g><g filter="url(#bl05)"><ellipse cx="33.8" cy="51" rx="27.5" ry="36.5" fill="none" stroke="#b0b0ff" stroke-width="3.9" stroke-opacity="0.3"/><ellipse cx="33.8" cy="51" rx="27.5" ry="36.5" fill="none" stroke="#dcdcff" stroke-width="2.0" stroke-opacity="0.8"/><path d="M25,80 C30,86 36,88 41,87" fill="none" stroke="#fff" stroke-width="1.6" stroke-opacity="0.8" stroke-linecap="round"/><path d="M11.5,93 C15,95 19,97 21.7,99" fill="none" stroke="#fff" stroke-width="2" stroke-opacity="0.8" stroke-linecap="round"/></g></g></g>
<text x="18.6" y="33.6" font-family="Liberation Sans, sans-serif" font-weight="bold" font-size="18" fill="#111">a</text>
<g><path d="M138.6,70.6 C134,67.5 130,66.5 125,66.5 C116,66.8 110,68 104,70 C94,72.5 84,77 73,83 C64,88 55,94 49.6,100.4 C45,106 44,111 44.2,116 C44.5,122 45.5,126 48,130 C51,135 55,138 57.5,141 C61,146 63,152 65,158 C67,164 69,167 71,168 C74,170 78,170 82,168.5 C88,166 92,161 97,157 C102,153 106,151 110,151 C115,151 119,153 122,155.5 C126,158 131,160 137,160.5" fill="none" stroke="#000" stroke-width="2.5" stroke-linejoin="round"/><path d="M137.5,81.2 C132,81 127,81 122,81.3 C112,82 102,84.5 93.5,87.5 C86,90 79,94.5 74,99.5 C69,104.5 66.5,110 65.5,116.5 C64.8,124 65.8,131 68,138 C69.5,143 71,147 72.5,151" fill="none" stroke="#000" stroke-width="3.8" stroke-linecap="round"/><path d="M138,86.5 C132,85.3 127,85 122,85.3 C113,86 104,88 96,90.8 C89,93.2 83,96 78.5,99.5 C75.5,102.5 73.8,106 73.2,110 C72.8,114 73.8,117 76,118.8 C78.5,120.5 82,120.5 84.5,118.5 C86,117 86,114 86.8,111 C87.5,108 89,106 92,104.6 C97,103 105,102.6 113,102.3 C121,102 128,101.8 133,101 C135,100.6 136.5,100 138,99.2" fill="none" stroke="#000" stroke-width="2.1"/><path d="M75.5,121.5 C77,128 79.5,135 82,140 C83,142 84,143.5 85,145" fill="none" stroke="#000" stroke-width="2.2" stroke-linecap="round"/><path d="M71.5,123 C70.5,130 70.5,138 71,148" fill="none" stroke="#000" stroke-width="2" stroke-linecap="round"/><path d="M85,126 C92,131 99,135 104,138 C108,141 110,144 110,146 M92,96 C100,93 110,92 122,92 C128,92.5 133,94 136,96 M80,104 C85,101 95,99 105,98.5 M88,130 C96,128 103,130 108,134" fill="none" stroke="#c8c8c8" stroke-width="0.7"/></g>
<g transform="translate(278.5,0) scale(-1,1)"><path d="M138.6,70.6 C134,67.5 130,66.5 125,66.5 C116,66.8 110,68 104,70 C94,72.5 84,77 73,83 C64,88 55,94 49.6,100.4 C45,106 44,111 44.2,116 C44.5,122 45.5,126 48,130 C51,135 55,138 57.5,141 C61,146 63,152 65,158 C67,164 69,167 71,168 C74,170 78,170 82,168.5 C88,166 92,161 97,157 C102,153 106,151 110,151 C115,151 119,153 122,155.5 C126,158 131,160 137,160.5" fill="none" stroke="#000" stroke-width="2.5" stroke-linejoin="round"/><path d="M137.5,81.2 C132,81 127,81 122,81.3 C112,82 102,84.5 93.5,87.5 C86,90 79,94.5 74,99.5 C69,104.5 66.5,110 65.5,116.5 C64.8,124 65.8,131 68,138 C69.5,143 71,147 72.5,151" fill="none" stroke="#000" stroke-width="3.8" stroke-linecap="round"/><path d="M138,86.5 C132,85.3 127,85 122,85.3 C113,86 104,88 96,90.8 C89,93.2 83,96 78.5,99.5 C75.5,102.5 73.8,106 73.2,110 C72.8,114 73.8,117 76,118.8 C78.5,120.5 82,120.5 84.5,118.5 C86,117 86,114 86.8,111 C87.5,108 89,106 92,104.6 C97,103 105,102.6 113,102.3 C121,102 128,101.8 133,101 C135,100.6 136.5,100 138,99.2" fill="none" stroke="#000" stroke-width="2.1"/><path d="M75.5,121.5 C77,128 79.5,135 82,140 C83,142 84,143.5 85,145" fill="none" stroke="#000" stroke-width="2.2" stroke-linecap="round"/><path d="M71.5,123 C70.5,130 70.5,138 71,148" fill="none" stroke="#000" stroke-width="2" stroke-linecap="round"/><path d="M85,126 C92,131 99,135 104,138 C108,141 110,144 110,146 M92,96 C100,93 110,92 122,92 C128,92.5 133,94 136,96 M80,104 C85,101 95,99 105,98.5 M88,130 C96,128 103,130 108,134" fill="none" stroke="#c8c8c8" stroke-width="0.7"/></g>
<path d="M138.6,70.5 L138.6,111.5 M138.6,127 L138.6,160.5" stroke="#000" stroke-width="2.2" fill="none"/>
<path d="M138.6,97 L133,102.5 M138.6,97 L144.5,102.5" stroke="#000" stroke-width="1.6" fill="none"/>
<line x1="165.4" y1="62" x2="165.4" y2="86" stroke="#3d6fb0" stroke-width="0.9"/>
<defs><radialGradient id="glow"><stop offset="0" stop-color="#ff1010"/><stop offset="0.55" stop-color="#ff1a1a"/><stop offset="0.75" stop-color="#ff6060" stop-opacity="0.7"/><stop offset="1" stop-color="#ff9090" stop-opacity="0"/></radialGradient></defs>
<circle cx="164.5" cy="92" r="12" fill="url(#glow)"/>
<path d="M165.6,87.2 L162.4,92.6 L164.8,92.4 L163,97 L167,91 L164.6,91.2 L166.6,87.2 Z" fill="#fff"/>
<g stroke="#222" stroke-width="0.6"><rect x="159" y="22.3" width="12" height="2.2" rx="1" fill="#555"/><rect x="162.5" y="24.5" width="5" height="4" fill="#888"/><rect x="158.8" y="28.5" width="12.4" height="2.2" rx="1" fill="#555"/><rect x="160.5" y="30.7" width="9" height="22" fill="#e8e8e8"/><rect x="160.8" y="52.5" width="8.4" height="6" fill="#666"/><rect x="163" y="58.5" width="4" height="3.5" fill="#777"/></g>
<g stroke="#333" stroke-width="0.5"><line x1="165.5" x2="168.5" y1="33.0" y2="33.0"/><line x1="165.5" x2="167.2" y1="34.5" y2="34.5"/><line x1="165.5" x2="168.5" y1="36.0" y2="36.0"/><line x1="165.5" x2="167.2" y1="37.5" y2="37.5"/><line x1="165.5" x2="168.5" y1="39.0" y2="39.0"/><line x1="165.5" x2="167.2" y1="40.5" y2="40.5"/><line x1="165.5" x2="168.5" y1="42.0" y2="42.0"/><line x1="165.5" x2="167.2" y1="43.5" y2="43.5"/><line x1="165.5" x2="168.5" y1="45.0" y2="45.0"/><line x1="165.5" x2="167.2" y1="46.5" y2="46.5"/><line x1="165.5" x2="168.5" y1="48.0" y2="48.0"/><line x1="165.5" x2="167.2" y1="49.5" y2="49.5"/><line x1="165.5" x2="168.5" y1="51.0" y2="51.0"/></g>
<rect x="161.5" y="31" width="2" height="21" fill="#aaa"/>
<text x="174" y="53.5" font-family="Liberation Sans, sans-serif" font-size="12.8" fill="#333">Kainate</text>
<text x="109.6" y="123.4" font-family="Liberation Sans, sans-serif" font-weight="bold" font-size="11.2" fill="#ff2020">Hippocampus</text>
<text x="250.6" y="33.6" font-family="Liberation Sans, sans-serif" font-weight="bold" font-size="17" fill="#111">b</text>
<path d="M267.80,79.2V86.4M268.25,78.4V85.3M268.70,78.6V85.4M269.15,80.1V86.1M269.60,79.6V86.1M270.05,79.3V84.9M270.50,79.8V85.2M270.95,79.7V85.6M271.40,78.4V86.0M271.85,79.7V85.0M272.30,79.2V84.9M272.75,78.7V85.8M273.20,80.1V85.7M273.65,80.1V85.9M274.10,79.1V85.2M274.55,79.2V85.6M275.00,79.9V86.2M275.45,78.7V85.0M275.90,79.8V84.8M276.35,78.6V86.3M276.80,79.7V84.7M277.25,78.8V86.2M277.70,79.8V85.9M278.15,78.4V85.0M278.60,78.5V85.5M279.05,80.1V85.9M279.50,78.6V86.3M279.95,79.7V86.1M280.40,78.6V84.8M280.85,79.9V85.4M281.30,78.9V85.0M281.75,80.2V85.2M282.20,80.0V85.8M282.65,78.8V85.9M283.10,78.6V85.8M283.55,79.5V85.7M284.00,78.3V85.1M284.45,80.1V85.2M284.90,78.9V84.9M285.35,79.4V85.9M285.80,79.1V86.2M286.25,79.5V85.5M286.70,80.0V85.1M287.15,79.6V85.3M287.60,78.4V86.1M288.05,78.8V85.8M288.50,78.9V88.2M288.95,79.8V84.9M289.40,78.7V85.2M289.85,79.2V85.0M290.30,79.4V85.2M290.75,80.0V86.0M291.20,79.4V85.1M291.65,79.5V86.5M292.10,78.9V85.6M292.55,79.4V86.4M293.00,78.3V86.1M293.45,79.0V85.4M293.90,79.2V84.7M294.35,78.4V85.2M294.80,79.4V85.1M295.25,80.2V85.2M295.70,79.7V86.2M296.15,78.7V85.8M296.60,78.8V84.7M297.05,79.5V85.6M297.50,79.8V85.7M297.95,78.7V85.8M298.40,78.8V85.8M298.85,78.7V89.4M299.30,79.2V86.1M299.75,79.0V84.8M300.20,78.9V85.7M300.65,78.4V85.0M301.10,79.9V86.0M301.55,79.9V84.8M302.00,79.8V85.7M302.45,78.4V86.4M302.90,78.9V86.2M303.35,80.1V84.9M303.80,80.0V85.8M304.25,79.7V85.2M304.70,78.8V85.9M305.15,80.1V85.5M305.60,77.5V85.4M306.05,79.8V85.4M306.50,74.9V85.3M306.95,80.1V84.9M307.40,78.8V85.3M307.85,79.5V85.3M308.30,79.4V84.8M308.75,79.0V84.9M309.20,79.3V84.9M309.65,79.0V84.8M310.10,78.7V86.3M310.55,77.6V85.0M311.00,78.4V85.9M311.45,77.2V86.1M311.90,79.7V85.7M312.35,79.2V85.5M312.80,78.4V85.5M313.25,80.1V85.4M313.70,79.0V85.2M314.15,78.4V85.9M314.60,80.1V84.8M315.05,76.5V86.5M315.50,77.6V85.9M315.95,80.0V85.2M316.40,78.7V85.2M316.85,78.6V86.0M317.30,78.7V86.2M317.75,79.0V85.1M318.20,79.3V85.6M318.65,79.2V85.1M319.10,79.7V86.3M319.55,79.6V85.0M320.00,79.5V85.8M320.45,74.9V86.2M320.90,78.7V86.4M321.35,79.9V85.5M321.80,79.0V85.4M322.25,79.8V85.3M322.70,79.4V84.9M323.15,78.9V86.2M323.60,78.4V86.2M324.05,79.8V85.6M324.50,79.0V85.2M324.95,79.3V85.9M325.40,78.3V85.4M325.85,78.7V85.5M326.30,79.6V86.4M326.75,79.0V85.2M327.20,79.8V85.3M327.65,79.4V85.3M328.10,77.5V85.8M328.55,79.8V86.5M329.00,78.5V84.8M329.45,79.4V85.4M329.90,79.6V85.6M330.35,79.5V85.7M330.80,79.7V85.5M331.25,78.7V85.9M331.70,78.5V85.1M332.15,79.4V84.9M332.60,79.1V84.9M333.05,79.1V85.5M333.50,78.6V85.1M333.95,78.5V85.0M334.40,79.6V85.4M334.85,78.4V84.7M335.30,78.8V85.4M335.75,78.4V85.2M336.20,78.4V86.1M336.65,78.8V86.1M337.10,79.0V86.1M337.55,78.5V86.3M338.00,79.5V85.5M338.45,76.8V85.2M338.90,78.7V84.7M339.35,79.6V85.7M339.80,78.5V85.1M340.25,78.7V86.4M340.70,79.9V86.1M341.15,79.4V84.7M341.60,78.8V84.9M342.05,79.7V86.0M342.50,80.0V85.4M342.95,78.8V85.3M343.40,79.2V86.3M343.85,79.4V85.6M344.30,78.5V84.9M344.75,79.2V85.5M345.20,79.2V85.4M345.65,79.6V85.8M346.10,79.9V85.3M346.55,74.9V86.5M347.00,78.4V86.3M347.45,78.9V86.0M347.90,78.7V85.6M348.35,80.0V86.3M348.80,79.9V86.2M349.25,79.0V85.3M349.70,79.9V87.2M350.15,80.0V86.2M350.60,79.9V85.6M351.05,79.3V85.1M351.50,78.5V85.4M351.95,78.4V85.1M352.40,79.3V86.1M352.85,79.2V85.4M353.30,78.5V85.8M353.75,78.8V86.2M354.20,79.7V86.5M354.65,79.3V85.0M355.10,79.6V85.9M355.55,79.5V85.4M356.00,80.1V86.1M356.45,79.8V85.0M356.90,80.0V85.9M357.35,79.1V86.3M357.80,78.4V86.4M358.25,79.2V84.8M358.70,79.2V86.2M359.15,80.2V85.1M359.60,79.9V85.1M360.05,79.0V86.2M360.50,79.1V85.7M360.95,79.1V86.2M361.40,79.3V84.9M361.85,78.7V86.5M362.30,79.6V85.7M362.75,80.0V85.6M363.20,78.5V86.5M363.65,79.7V84.9M364.10,78.7V85.1M364.55,78.8V85.1M365.00,78.6V86.4M365.45,78.6V86.1M365.90,79.6V86.4M366.35,79.6V86.0M366.80,79.3V85.3M367.25,79.0V85.9M367.70,78.5V86.2M368.15,79.3V86.0M368.60,79.7V85.9M369.05,78.7V85.2M369.50,78.7V86.0M369.95,79.9V86.3M370.40,79.7V85.3M370.85,78.4V84.9M371.30,77.6V84.8M371.75,78.5V85.3M372.20,78.7V85.3M372.65,79.5V85.2M373.10,79.9V84.8M373.55,78.5V85.5M374.00,78.6V85.4M374.45,78.8V84.8M374.90,78.8V86.0M375.35,78.6V86.1M375.80,79.5V84.9M376.25,80.0V85.7M376.70,79.1V84.8M377.15,78.8V85.0M377.60,78.6V85.0M378.05,78.4V86.0M378.50,79.7V85.9M378.95,80.1V86.2M379.40,78.7V85.9M379.85,79.4V85.5M380.30,80.1V85.0M380.75,78.5V85.0M381.20,79.7V86.3M381.65,80.1V84.7M382.10,78.4V86.1M382.55,78.6V85.3M383.00,79.8V86.4M383.45,79.3V85.2M383.90,79.4V85.1M384.35,78.8V86.1M384.80,74.9V85.9M385.25,76.1V86.2M385.70,79.1V86.3M386.15,80.0V86.4M386.60,79.3V84.8M387.05,76.3V86.4M387.50,79.7V84.9M387.95,79.5V84.8M388.40,78.7V85.8M388.85,78.9V84.9M389.30,79.0V84.7M389.75,78.8V86.1M390.20,78.5V86.1M390.65,79.4V84.8M391.10,79.6V84.8M391.55,79.2V85.2M392.00,78.8V86.2M392.45,79.5V86.0M392.90,79.9V85.1M393.35,79.7V85.0M393.80,76.9V85.5M394.25,79.8V85.3M394.70,79.3V85.9M395.15,78.4V86.2M395.60,80.1V86.1M396.05,79.6V85.7M396.50,79.6V85.5M396.95,78.9V85.1M397.40,79.2V85.9M397.85,80.0V86.5M398.30,78.6V86.4M398.75,79.4V86.1M399.20,79.1V85.9M399.65,78.6V85.4M400.10,80.2V85.9M400.55,78.4V85.1M401.00,78.3V85.6M401.45,78.7V84.9M401.90,79.5V86.3M402.35,79.3V85.6M402.80,78.7V84.8M403.25,78.6V85.8M403.70,79.5V84.9M404.15,78.3V85.8M404.60,78.3V86.3M405.05,78.4V85.9M405.50,79.0V85.3M405.95,79.9V85.5M406.40,79.3V85.8M406.85,79.7V86.4M407.30,79.5V85.6M407.75,78.7V86.2M408.20,79.7V85.8M408.65,79.1V85.1M409.10,78.8V85.3M409.55,80.1V86.4M410.00,79.3V86.4M410.45,79.8V86.5M410.90,79.2V84.8M411.35,79.7V85.1M411.80,76.5V85.5M412.25,78.6V85.2M412.70,79.0V85.2M413.15,78.7V85.2M413.60,79.1V85.4M414.05,80.0V85.7M414.50,80.2V86.3M414.95,79.2V86.4M415.40,79.2V85.5M415.85,78.9V85.1M416.30,79.3V85.9M416.75,79.7V85.4M417.20,80.1V85.8M417.65,78.3V85.8M418.10,78.5V84.7M418.55,78.8V85.0M419.00,78.6V85.3M419.45,78.5V84.8M419.90,79.6V85.1M420.35,79.3V86.4M420.80,79.3V85.7M421.25,78.3V85.4M421.70,79.0V86.3M422.15,79.4V85.4M422.60,78.4V86.2M423.05,78.6V86.0M423.50,79.8V85.1M423.95,79.8V85.7M424.40,79.0V85.8M424.85,77.0V84.8M425.30,79.1V85.5M425.75,79.6V85.5M426.20,79.0V84.8M426.65,79.8V86.2M427.10,79.1V86.0M427.55,78.6V85.2M428.00,78.8V86.4M428.45,79.1V85.7M428.90,78.8V84.9M429.35,79.4V86.4M429.80,78.8V86.5M430.25,79.0V84.9M430.70,78.9V86.2M431.15,79.1V86.1M431.60,78.4V86.2M432.05,78.7V85.1M432.50,79.7V86.5M432.95,79.7V85.3M433.40,79.8V85.2M433.85,78.4V85.0M434.30,79.4V86.2M434.75,79.4V86.1M435.20,79.8V86.1M435.65,78.5V85.9M436.10,78.8V85.7M436.55,76.0V85.9M437.00,78.4V85.1M437.45,79.4V85.6M437.90,79.3V85.9M438.35,80.1V85.4M438.80,80.2V86.4M439.25,79.3V85.5M439.70,80.1V85.9M440.15,76.0V84.7M440.60,79.1V85.8M441.05,78.5V86.5M441.50,79.3V86.5M441.95,80.1V86.3M442.40,79.8V85.3M442.85,79.0V85.4M443.30,79.2V86.5M443.75,79.9V84.9M444.20,79.0V86.5M444.65,79.9V84.8M445.10,80.0V85.9M445.55,78.8V86.4M446.00,79.3V86.1M446.45,80.0V84.9M446.90,75.6V85.1M447.35,79.6V85.1M447.80,79.3V85.3M448.25,79.1V86.3M448.70,78.5V85.6M449.15,79.2V84.7M449.60,79.9V85.7M450.05,78.7V85.7M450.50,78.6V85.9M450.95,78.6V84.8M451.40,74.8V85.0M451.85,79.6V85.6M452.30,78.9V86.4M452.75,78.9V86.3M453.20,79.3V84.9M453.65,79.6V86.2M454.10,79.9V86.3M454.55,80.2V85.2M455.00,80.1V85.0M455.45,79.6V85.5M455.90,79.6V85.5M456.35,77.2V86.1M456.80,80.0V85.3M457.25,78.8V86.0M457.70,78.9V85.8M458.15,79.0V85.4M458.60,80.1V86.4M459.05,79.5V86.3M459.50,79.3V86.4M459.95,79.3V85.5M460.40,80.0V85.3M460.85,80.1V86.0M461.30,78.9V86.3M461.75,79.0V85.6M462.20,79.3V85.3M462.65,79.3V85.9M463.10,77.1V85.3M463.55,79.6V85.7M464.00,78.9V85.1M464.45,80.2V85.9M464.90,78.6V86.3M465.35,78.3V85.7M465.80,80.0V84.8M466.25,79.0V86.1M466.70,79.2V85.0M467.15,80.2V85.9M467.60,79.9V86.3M468.05,78.8V85.1M468.50,79.5V84.9M468.95,80.1V86.5M469.40,79.5V85.1M469.85,77.1V86.1M470.30,79.1V85.7M470.75,80.0V85.4M471.20,79.2V85.3M471.65,80.0V84.8M472.10,80.0V85.4M472.55,80.0V85.5M473.00,79.1V84.8M473.45,78.8V85.2M473.90,78.8V86.2M474.35,78.7V85.5M474.80,78.5V85.3M475.25,79.3V86.4M475.70,79.2V85.9M476.15,80.1V85.8M476.60,79.5V86.4M477.05,78.9V85.1M477.50,79.2V85.5M477.95,79.2V88.6M478.40,79.9V85.1M478.85,76.0V86.0M479.30,79.0V85.0M479.75,79.8V85.6M480.20,78.7V85.2M480.65,76.7V86.3M481.10,79.0V85.3M481.55,79.5V86.3M482.00,80.2V84.9M482.45,79.1V86.2M482.90,79.4V86.2M483.35,79.5V84.9M483.80,79.6V85.9M484.25,78.3V85.2M484.70,78.7V85.0M485.15,79.1V84.9M485.60,79.4V85.6M486.05,78.4V85.1M486.50,78.8V85.9M486.95,79.0V86.4M487.40,79.1V86.3M487.85,78.7V84.9M488.30,79.0V86.3M488.75,79.0V87.1M489.20,80.1V84.9M489.65,80.1V85.8M490.10,79.3V84.7M490.55,80.0V84.7M491.00,78.5V84.8M491.45,80.1V85.7M491.90,79.1V86.5M492.35,79.9V86.4M492.80,79.2V85.5M493.25,80.0V85.4M493.70,79.1V86.3M494.15,79.5V85.9M494.60,79.2V85.3M495.05,79.1V85.9M495.50,79.7V84.7M495.95,79.8V84.7" stroke="#000" stroke-width="0.6" fill="none"/>
<rect x="268" y="79.4" width="228.2" height="6.0" fill="#000"/>
<path d="M510.20,79.8V85.3M510.65,80.1V85.9M511.10,79.9V84.9M511.55,79.0V85.8M512.00,79.5V86.0M512.45,79.1V86.5M512.90,79.5V85.1M513.35,79.3V86.4M513.80,79.7V86.5M514.25,79.0V85.0M514.70,79.9V86.4M515.15,78.7V86.0M515.60,79.3V85.9M516.05,79.5V86.4M516.50,78.7V85.7M516.95,79.6V85.7M517.40,80.1V84.9M517.85,79.4V86.4M518.30,79.6V86.6M518.75,78.8V85.5M519.20,80.0V85.1M519.65,80.1V84.8M520.10,80.1V85.6M520.55,79.1V85.7M521.00,78.9V85.8M521.45,79.3V86.5M521.90,76.9V85.8M522.35,76.9V86.2M522.80,80.3V86.3M523.25,80.2V86.6M523.70,79.7V84.9M524.15,77.4V85.7M524.60,79.9V85.6M525.05,79.1V85.3M525.50,78.5V84.9M525.95,77.3V86.2M526.40,79.4V86.0M526.85,74.5V86.2M527.30,79.1V85.0M527.75,79.1V85.5M528.20,78.8V86.3M528.65,78.8V85.5M529.10,74.8V86.5M529.55,79.2V86.1M530.00,79.3V85.3M530.45,80.3V86.4M530.90,79.9V85.3M531.35,78.7V85.0M531.80,78.5V85.2M532.25,79.6V86.1M532.70,79.4V85.9M533.15,79.0V86.4M533.60,80.0V85.5M534.05,78.5V86.1M534.50,78.5V85.3M534.95,79.5V85.3M535.40,78.5V85.1M535.85,79.0V85.7M536.30,78.9V86.4M536.75,79.9V84.9M537.20,78.5V84.8M537.65,78.9V86.4M538.10,78.9V89.0M538.55,80.2V86.1M539.00,79.4V86.4M539.45,79.4V85.4M539.90,79.4V85.1M540.35,79.1V85.3M540.80,79.6V86.0M541.25,79.8V84.8M541.70,78.5V85.1M542.15,79.5V85.9M542.60,78.5V86.6M543.05,79.2V85.6M543.50,80.2V85.1M543.95,75.7V85.1M544.40,79.4V85.2M544.85,79.5V86.0M545.30,79.6V86.0M545.75,78.5V85.9M546.20,79.8V85.1M546.65,79.7V86.3M547.10,79.8V85.6M547.55,78.9V84.9M548.00,79.7V85.1M548.45,75.3V85.3M548.90,79.6V86.0M549.35,80.2V85.4M549.80,78.7V85.4M550.25,80.2V85.7M550.70,79.5V85.2M551.15,79.7V86.5M551.60,79.5V85.6M552.05,79.6V87.9M552.50,78.9V85.0M552.95,79.8V85.1M553.40,78.8V86.0M553.85,79.5V86.1M554.30,78.6V86.5M554.75,79.0V85.8M555.20,79.4V86.1M555.65,79.1V85.7M556.10,78.8V85.0M556.55,78.6V86.3M557.00,76.2V85.2M557.45,78.7V86.2M557.90,78.7V86.0M558.35,78.8V85.5M558.80,79.7V85.0M559.25,80.1V86.4M559.70,78.8V84.9M560.15,79.0V85.0M560.60,80.0V85.3M561.05,79.1V85.0M561.50,78.8V86.1M561.95,79.8V86.0M562.40,79.7V86.4M562.85,78.8V85.9M563.30,79.0V86.1M563.75,78.6V85.3M564.20,78.6V85.2M564.65,78.8V86.5M565.10,79.3V85.5M565.55,77.2V85.9M566.00,80.3V86.4M566.45,80.0V85.8M566.90,79.3V86.5M567.35,79.8V86.4M567.80,79.3V85.4M568.25,79.7V86.1M568.70,79.0V85.0M569.15,78.4V85.8M569.60,80.2V85.4M570.05,80.2V84.9M570.50,78.6V85.6M570.95,79.8V85.3M571.40,79.9V85.6M571.85,78.5V86.0M572.30,79.9V86.3M572.75,79.8V84.8M573.20,79.2V86.3M573.65,78.9V86.3M574.10,75.6V85.6M574.55,80.2V85.0M575.00,80.1V85.6M575.45,80.0V86.2M575.90,80.2V85.6M576.35,78.9V85.3M576.80,79.6V85.2M577.25,79.1V86.3M577.70,80.1V85.8M578.15,79.0V84.9M578.60,74.8V84.9M579.05,78.6V85.1M579.50,79.5V85.7M579.95,79.7V86.4M580.40,78.5V85.9M580.85,79.3V85.7M581.30,80.3V86.2M581.75,78.5V84.9M582.20,78.8V85.8M582.65,78.8V85.4M583.10,79.0V86.5M583.55,79.5V86.0M584.00,78.5V87.5M584.45,80.0V85.6M584.90,80.1V85.1M585.35,79.2V85.6M585.80,80.0V86.3M586.25,78.7V84.9M586.70,79.6V86.3M587.15,79.3V85.1M587.60,78.6V86.2M588.05,79.2V85.4M588.50,78.8V86.3M588.95,78.8V85.7M589.40,79.0V85.2M589.85,79.0V85.2M590.30,78.8V85.1M590.75,80.3V86.5M591.20,77.2V85.7M591.65,79.8V86.2M592.10,80.0V86.5M592.55,80.2V86.6M593.00,79.5V85.1M593.45,80.1V86.5M593.90,78.9V86.2M594.35,79.4V86.3M594.80,79.0V86.2M595.25,80.1V86.5M595.70,80.1V85.9M596.15,79.9V86.5M596.60,78.9V85.3M597.05,79.0V85.4M597.50,79.8V85.9M597.95,79.4V86.3M598.40,79.2V85.0M598.85,79.1V86.5M599.30,78.5V85.8M599.75,80.1V84.9M600.20,79.0V86.5M600.65,79.4V86.2M601.10,78.7V85.5M601.55,78.7V86.4M602.00,78.6V85.4M602.45,78.4V86.0M602.90,79.6V85.7M603.35,79.0V85.8M603.80,79.9V86.6M604.25,80.0V85.4M604.70,79.8V86.4M605.15,79.0V86.0M605.60,78.5V86.3M606.05,79.2V85.8M606.50,79.6V85.3M606.95,79.5V85.0M607.40,80.0V85.9M607.85,79.5V85.8M608.30,79.9V84.9M608.75,79.9V85.2M609.20,78.4V85.0M609.65,78.7V85.0M610.10,79.1V86.3M610.55,79.5V85.9M611.00,79.3V86.6M611.45,79.9V85.3M611.90,80.1V85.1M612.35,78.4V85.3M612.80,77.6V85.3M613.25,78.6V85.0M613.70,79.5V86.2M614.15,79.9V85.2M614.60,79.8V85.3M615.05,76.4V85.7M615.50,78.5V86.5M615.95,80.0V85.3M616.40,79.8V86.5M616.85,79.4V85.8M617.30,79.0V86.0M617.75,79.2V85.0M618.20,79.0V85.1M618.65,79.1V85.5M619.10,79.8V86.0M619.55,80.1V85.3M620.00,79.7V85.0M620.45,79.3V85.2M620.90,79.5V85.6M621.35,78.8V84.9M621.80,79.2V86.5M622.25,79.6V85.5M622.70,79.3V85.5M623.15,80.0V85.5M623.60,78.8V85.0M624.05,80.0V85.3M624.50,78.6V85.0M624.95,79.0V85.7M625.40,79.0V86.5M625.85,78.4V86.1M626.30,78.8V85.8M626.75,79.6V86.5M627.20,79.6V86.1M627.65,80.0V85.6M628.10,80.1V85.8M628.55,79.8V86.2M629.00,78.7V86.1M629.45,80.0V85.6M629.90,79.1V84.9M630.35,79.4V85.7M630.80,78.8V85.8M631.25,78.5V86.4M631.70,80.2V84.8M632.15,79.3V85.3M632.60,78.5V85.6M633.05,79.3V86.6M633.50,78.5V85.0M633.95,79.7V85.4M634.40,79.4V86.2M634.85,79.4V85.6M635.30,79.2V84.9M635.75,79.1V85.1M636.20,78.6V86.4M636.65,79.8V86.5M637.10,79.0V85.5M637.55,79.9V86.3M638.00,79.3V85.5M638.45,79.6V85.5M638.90,78.8V85.1M639.35,79.5V86.6M639.80,79.2V85.2M640.25,80.1V86.4M640.70,79.9V85.5M641.15,79.4V86.3M641.60,78.4V86.4M642.05,80.0V86.0M642.50,79.8V86.5M642.95,79.8V85.8M643.40,78.8V85.5M643.85,80.0V86.3M644.30,80.3V86.2M644.75,78.7V86.2M645.20,78.4V85.5M645.65,78.8V85.9M646.10,78.5V85.6M646.55,78.6V85.6M647.00,79.9V85.3M647.45,79.7V85.6M647.90,80.0V85.5M648.35,79.6V85.5M648.80,79.5V85.9M649.25,79.5V85.3M649.70,78.7V85.3M650.15,79.4V85.8M650.60,79.4V85.1M651.05,80.2V86.4M651.50,78.5V85.4M651.95,79.2V85.1M652.40,79.1V85.6M652.85,79.8V84.9M653.30,79.9V84.9M653.75,78.6V85.5M654.20,79.9V86.6M654.65,77.8V86.1M655.10,79.5V84.9M655.55,78.5V85.9M656.00,79.9V85.0M656.45,80.0V85.2M656.90,78.6V85.9M657.35,78.7V85.6M657.80,79.9V86.2M658.25,78.6V85.7M658.70,78.9V85.8M659.15,78.9V84.9M659.60,80.1V85.8M660.05,78.9V85.2M660.50,78.8V85.4M660.95,79.5V86.2M661.40,79.3V84.8M661.85,79.2V85.1M662.30,79.4V85.1M662.75,79.1V85.4M663.20,80.2V85.5M663.65,79.6V85.5M664.10,79.1V86.6M664.55,78.5V85.7M665.00,78.4V84.8M665.45,78.9V88.4M665.90,75.3V85.1M666.35,80.2V86.5M666.80,79.5V85.1M667.25,79.8V86.4M667.70,80.3V86.5M668.15,78.4V85.3M668.60,78.9V85.0M669.05,74.7V86.3M669.50,80.3V86.5M669.95,79.9V85.4M670.40,79.9V86.3M670.85,79.7V85.9M671.30,78.5V85.1M671.75,79.0V85.1M672.20,78.8V86.0M672.65,78.6V85.2M673.10,79.7V86.5M673.55,78.9V85.9M674.00,79.7V86.1M674.45,79.1V86.6M674.90,79.8V86.4M675.35,79.5V85.5M675.80,79.4V86.5M676.25,80.0V86.2M676.70,78.4V85.3M677.15,79.3V85.2M677.60,78.6V84.8M678.05,79.4V85.3M678.50,80.0V86.2M678.95,79.1V86.6M679.40,79.4V85.1M679.85,79.3V86.2M680.30,78.8V86.1M680.75,78.6V85.6M681.20,78.5V85.6M681.65,78.8V85.8M682.10,78.8V86.5M682.55,77.4V85.5M683.00,79.6V85.0M683.45,80.1V85.3M683.90,78.6V85.6M684.35,78.9V86.5M684.80,80.3V86.3M685.25,78.7V86.3M685.70,80.1V85.5M686.15,78.8V84.9M686.60,78.9V86.3M687.05,80.1V86.4M687.50,79.4V84.8M687.95,78.5V86.1M688.40,79.2V85.0M688.85,78.5V85.0M689.30,79.6V86.1M689.75,80.1V85.8M690.20,78.8V86.6M690.65,79.8V85.1M691.10,79.8V85.9M691.55,79.3V86.3M692.00,80.0V85.3M692.45,79.4V84.9M692.90,78.8V85.6M693.35,75.9V84.9M693.80,79.5V86.6M694.25,79.9V85.4M694.70,79.0V84.8M695.15,78.5V85.8M695.60,74.9V85.2M696.05,78.5V85.8M696.50,80.0V85.3M696.95,79.0V85.9M697.40,78.5V85.3M697.85,78.7V85.0M698.30,79.1V86.6M698.75,79.5V86.1M699.20,80.1V85.2M699.65,79.0V85.6M700.10,80.2V86.1M700.55,78.9V86.5M701.00,79.2V84.9M701.45,78.4V85.3M701.90,79.3V86.2M702.35,79.7V85.7M702.80,80.1V85.3M703.25,79.5V86.4M703.70,78.6V86.2M704.15,80.1V85.7M704.60,80.1V85.1M705.05,77.0V85.4M705.50,75.4V86.5M705.95,78.5V86.5M706.40,76.9V86.0M706.85,78.5V85.0M707.30,79.1V86.4M707.75,79.2V86.6M708.20,80.3V86.0M708.65,78.5V86.1M709.10,79.4V84.9M709.55,80.1V86.2M710.00,79.4V86.3M710.45,79.5V85.6M710.90,80.2V85.1M711.35,79.1V85.7M711.80,79.1V85.2M712.25,79.0V86.3M712.70,79.3V86.5M713.15,80.1V85.7M713.60,79.1V84.8M714.05,79.8V85.4M714.50,78.7V86.6M714.95,78.5V85.5M715.40,79.3V86.3M715.85,78.6V85.5M716.30,79.7V85.5M716.75,78.6V86.1M717.20,79.3V86.3M717.65,78.9V85.4M718.10,79.6V86.1M718.55,79.0V84.9M719.00,78.8V86.0M719.45,79.0V86.0M719.90,78.5V85.3M720.35,78.5V85.0M720.80,79.3V85.8M721.25,80.3V84.9M721.70,79.8V85.6M722.15,74.7V85.7M722.60,79.2V85.3M723.05,80.2V86.4M723.50,75.4V85.8M723.95,79.1V86.0M724.40,79.8V86.2M724.85,79.2V86.4M725.30,78.8V85.2M725.75,80.2V86.5M726.20,79.9V85.4M726.65,78.8V87.7M727.10,78.6V86.3M727.55,79.3V84.8M728.00,79.8V85.0M728.45,78.9V85.9M728.90,79.1V85.9M729.35,78.8V86.0M729.80,79.6V85.2M730.25,79.1V86.2M730.70,80.3V86.2M731.15,78.9V84.9M731.60,80.1V85.1M732.05,80.2V85.4M732.50,79.3V86.0M732.95,80.0V84.9M733.40,79.7V85.1M733.85,80.1V86.2M734.30,79.2V85.5M734.75,78.5V85.7M735.20,79.0V85.4M735.65,78.7V85.2M736.10,79.5V86.2M736.55,77.5V84.8M737.00,78.4V85.6" stroke="#000" stroke-width="0.6" fill="none"/>
<rect x="510.4" y="79.6" width="226.8" height="5.9" fill="#000"/>
<path d="M641.5,83 C642,74 643.5,62 646,54 C648,48 650.5,44.5 652.8,44.2 C655.5,44.5 657.5,49 659,55 C661,63 662.5,72 664.5,83 C663,88 660,91.5 654,92 C648,91.5 643.5,88.5 641.5,83 Z" fill="#000"/>
<path d="M636.0,82.0V86.6M636.5,82.0V86.0M637.0,82.0V87.3M637.5,82.0V84.0M638.0,82.0V87.4M638.5,76.4V88.4M639.0,82.0V84.0M639.5,73.3V87.5M640.0,82.0V84.0M640.5,82.0V84.0M641.0,82.0V84.0M641.5,82.0V86.5M642.0,65.8V89.4M642.5,63.0V89.7M643.0,59.9V90.3M643.5,57.8V90.6M644.0,55.5V89.5M644.5,53.3V90.6M645.0,51.9V90.3M645.5,52.0V90.9M646.0,51.1V91.2M646.5,48.4V90.5M647.0,46.9V90.2M647.5,47.2V91.8M648.0,46.4V91.7M648.5,45.0V92.4M649.0,43.2V91.9M649.5,43.2V90.5M650.0,43.0V92.4M650.5,43.6V91.7M651.0,43.0V92.8M651.5,43.3V91.3M652.0,44.1V91.4M652.5,42.1V92.8M653.0,41.2V91.1M653.5,41.1V90.7M654.0,41.7V90.6M654.5,43.2V90.4M655.0,42.2V92.4M655.5,44.7V91.5M656.0,44.8V91.4M656.5,44.4V90.3M657.0,44.1V90.7M657.5,46.1V90.0M658.0,48.2V90.3M658.5,48.1V92.1M659.0,47.4V90.8M659.5,49.8V91.1M660.0,49.8V90.2M660.5,51.3V90.2M661.0,53.4V90.7M661.5,55.3V90.4M662.0,56.5V88.9M662.5,60.5V88.9M663.0,62.2V88.8M663.5,65.2V88.5M664.0,66.5V89.0M664.5,82.0V84.0M665.0,82.0V84.0M665.5,82.0V84.0M666.0,82.0V84.0M666.5,77.1V84.0M667.0,82.0V84.0M667.5,82.0V84.0" stroke="#000" stroke-width="0.55" fill="none"/>
<path d="M683.0,76.0V89.1M676.8,79.5V86.0M679.8,74.9V97.0M682.1,76.0V91.8M684.9,81.9V83.2M682.3,76.2V88.2M684.6,81.0V84.0M681.9,73.8V87.7M678.3,75.6V90.6M681.5,72.7V89.9M683.1,78.0V89.1M680.5,68.9V93.7M677.8,78.3V88.4M678.5,77.9V87.8M684.3,79.7V85.0M679.6,69.1V90.6M681.7,76.6V92.8M684.8,81.2V83.4M681.3,73.3V96.2M676.2,81.7V83.3M679.1,70.6V91.5M682.0,76.8V88.8M679.4,71.4V94.0M681.2,73.3V90.3M679.8,73.6V95.3M684.0,78.6V84.7M683.1,78.9V86.5M682.3,75.6V92.1M682.2,73.2V91.1M684.2,79.2V84.2M684.9,81.6V83.3M683.8,77.5V86.8M682.5,77.9V88.4M683.3,75.2V86.6M682.8,78.0V89.9M679.2,76.3V89.1M681.1,71.4V94.9M679.1,72.5V90.4M682.9,78.6V88.9M681.3,75.5V95.0M681.7,69.2V89.4M679.8,67.9V97.0M682.2,75.1V92.1M680.1,70.2V95.5M684.4,81.0V85.0" stroke="#000" stroke-width="0.5" fill="none"/>
<path d="M705.8,74.4V88.0M708.4,72.6V93.3M710.2,76.6V84.9M707.5,68.4V88.7M706.8,70.6V90.6M709.7,76.7V85.8M705.8,68.0V90.0M704.2,78.7V87.0M708.5,73.4V92.1M707.2,65.3V93.5M707.8,71.4V88.7M708.8,71.2V90.4M706.3,74.4V89.4M707.5,67.7V88.6M711.0,80.1V84.4M711.4,81.6V83.2M704.5,74.7V88.5M711.1,80.2V84.0M710.2,76.2V85.9M708.0,70.1V91.1M706.7,72.0V90.2M705.3,72.7V90.4M709.9,77.9V86.8M706.6,72.9V96.5M705.5,71.1V91.2M709.4,73.8V89.7M705.4,71.7V88.7M705.2,71.6V90.6M709.1,76.9V90.9M708.2,71.9V93.6M703.5,79.4V84.6M705.4,70.6V87.8M709.4,74.8V87.3M710.1,79.4V85.5M707.0,69.2V92.5M711.5,81.9V83.1M706.6,72.5V89.3M709.3,73.8V90.3M704.8,75.6V87.7M707.7,74.7V94.2M709.1,77.1V89.6M705.6,73.1V88.3M708.7,72.7V86.9M703.8,77.0V85.2M706.7,67.0V90.0M707.0,69.0V90.2M709.6,78.2V88.7M705.4,74.0V88.2M710.2,76.2V85.2M708.2,75.7V90.1" stroke="#000" stroke-width="0.5" fill="none"/>
<path d="M693.9,77.2V85.6M690.4,80.2V84.9M690.9,79.9V86.0M692.5,75.9V88.2M690.1,81.1V83.7M692.0,76.4V88.7M693.4,75.7V85.8M693.6,77.0V88.7M695.3,81.5V84.0M691.2,78.1V86.9M694.8,79.0V85.2M694.9,80.0V84.4M690.7,79.8V85.4M692.4,74.7V86.8M695.5,81.6V83.5M694.1,77.3V86.1M690.4,80.5V84.2M692.1,74.1V87.2M694.4,79.8V86.0M691.8,78.2V87.0" stroke="#000" stroke-width="0.5" fill="none"/>
<path d="M717.0,78.6V87.4M718.0,76.2V89.6M720.2,81.1V84.9M719.9,79.6V85.1M720.7,81.6V83.9M718.6,79.3V87.3M717.3,78.9V88.3M717.6,76.2V87.9M715.3,81.3V83.8M715.5,81.1V84.0M720.5,81.0V83.9M720.3,80.9V84.8M716.1,80.4V84.7M719.9,80.5V84.8M716.2,79.1V85.6" stroke="#000" stroke-width="0.5" fill="none"/>
<path d="M725.3,81.2V84.2M726.9,80.2V85.7M731.9,81.9V83.1M725.8,79.7V86.0M726.8,78.3V85.4M728.3,77.8V88.6M726.2,79.8V85.4M725.1,80.7V84.4M728.0,77.4V88.3M724.6,81.5V83.7M725.5,80.1V85.1M730.1,80.9V84.5M726.0,79.9V84.5M731.4,81.6V83.8M730.1,79.9V85.1" stroke="#000" stroke-width="0.5" fill="none"/>
<path d="M637.9,75.6V89.5M639.3,75.9V89.3M638.8,77.6V91.0M636.1,79.0V86.2M640.8,81.4V83.6M636.5,77.5V90.0M637.0,74.4V88.5M640.5,80.3V85.4M640.7,81.4V84.2M636.4,77.6V87.0M637.8,75.0V89.1M638.8,74.8V93.4M639.3,78.5V89.6M637.8,75.6V89.6" stroke="#000" stroke-width="0.5" fill="none"/>
<line x1="680.5" y1="37.5" x2="680.5" y2="128.6" stroke="#000" stroke-width="1.1"/>
<line x1="692.7" y1="50.9" x2="692.7" y2="103.5" stroke="#000" stroke-width="0.8"/>
<line x1="706.9" y1="37.5" x2="706.9" y2="120.3" stroke="#000" stroke-width="1.1"/>
<line x1="639.2" y1="65" x2="639.2" y2="103.5" stroke="#000" stroke-width="0.8"/>
<line x1="717" y1="70" x2="717" y2="102.7" stroke="#000" stroke-width="0.7"/>
<line x1="677.5" y1="68" x2="677.5" y2="96" stroke="#000" stroke-width="0.6"/>
<line x1="683" y1="70" x2="683" y2="100" stroke="#000" stroke-width="0.6"/>
<line x1="704.5" y1="63" x2="704.5" y2="97" stroke="#000" stroke-width="0.7"/>
<line x1="709" y1="64" x2="709" y2="98" stroke="#000" stroke-width="0.7"/>
<line x1="700" y1="72" x2="700" y2="92" stroke="#000" stroke-width="0.5"/>
<line x1="722" y1="72" x2="722" y2="90" stroke="#000" stroke-width="0.5"/>
<line x1="727" y1="75" x2="727" y2="88" stroke="#000" stroke-width="0.5"/>
<polyline points="271,125.8 358.5,99.5 497,127" stroke="#2ec05a" stroke-width="1.6" stroke-dasharray="4,3" fill="none"/>
<polyline points="513.5,127.8 649,100.8 735.5,127.8" stroke="#2ec05a" stroke-width="1.6" stroke-dasharray="4,3" fill="none"/>
<path d="M495.2,96 V117.8 M495.2,105.8 H541.3" stroke="#111" stroke-width="1.6" fill="none"/>
<text x="503.4" y="103.7" font-family="Liberation Sans, sans-serif" font-size="11.6" fill="#111">2 min</text>
<text x="510.3" y="118.6" font-family="Liberation Sans, sans-serif" font-size="11.6" fill="#111">3 s</text>
<text transform="translate(492.4,126.2) rotate(-90)" font-family="Liberation Sans, sans-serif" font-size="11.3" fill="#111" textLength="36" lengthAdjust="spacingAndGlyphs">0.2 mV</text>
<polyline points="268.4,169.7 268.8,170.0 269.3,169.1 269.7,168.1 270.2,168.7 270.6,167.9 271.1,169.4 271.5,171.2 272.0,168.7 272.4,168.6 272.9,170.2 273.3,170.1 273.8,169.9 274.2,168.6 274.7,170.0 275.1,171.1 275.6,168.4 276.0,169.8 276.5,167.9 276.9,168.8 277.4,168.1 277.8,170.4 278.3,168.9 278.7,171.1 279.2,170.9 279.6,170.3 280.1,166.9 280.5,169.6 281.0,170.2 281.4,170.3 281.9,167.8 282.3,169.2 282.8,168.3 283.2,168.5 283.7,171.0 284.1,168.3 284.6,169.3 285.0,170.5 285.5,168.5 285.9,169.2 286.4,169.5 286.8,169.5 287.3,167.8 287.7,169.7 288.2,171.7 288.6,167.7 289.1,171.2 289.5,170.3 290.0,169.4 290.4,173.2 290.9,171.6 291.3,168.9 291.8,170.8 292.2,171.5 292.7,170.4 293.1,171.6 293.6,170.5 294.0,171.5 294.5,172.5 294.9,169.4 295.4,170.5 295.8,169.5 296.3,170.2 296.7,168.2 297.2,168.9 297.6,169.3 298.1,170.8 298.5,171.0 299.0,167.5 299.4,168.2 299.9,170.2 300.3,166.5 300.8,168.7 301.2,169.3 301.7,171.3 302.1,170.6 302.6,169.3 303.0,169.4 303.5,169.7 303.9,172.3 304.4,169.7 304.8,170.0 305.3,171.0 305.7,170.4 306.2,170.4 306.6,169.1 307.1,170.7 307.5,170.1 308.0,172.3 308.4,171.5 308.9,170.5 309.3,171.3 309.8,169.8 310.2,171.6 310.7,170.0 311.1,170.7 311.6,167.9 312.0,170.1 312.5,167.1 312.9,166.6 313.4,168.9 313.8,168.1 314.3,169.5 314.7,172.5 315.2,168.2 315.6,168.5 316.1,169.8 316.5,170.3 317.0,169.5 317.4,169.6 317.9,171.0 318.3,170.9 318.8,168.8 319.2,170.3 319.7,170.5 320.1,169.1 320.6,171.0 321.0,169.5 321.5,172.1 321.9,171.0 322.4,170.8 322.8,169.8 323.3,170.3 323.7,167.6 324.2,168.7 324.6,170.7 325.1,167.0 325.5,171.1 326.0,167.3 326.4,170.7 326.9,168.3 327.3,170.5 327.8,169.5 328.2,167.2 328.7,171.0 329.1,171.3 329.6,169.3 330.0,169.0 330.5,169.3 330.9,168.2 331.4,171.2 331.8,169.1 332.3,169.9 332.7,169.0 333.2,169.4 333.6,168.6 334.1,172.2 334.5,170.4 335.0,172.0 335.4,170.7 335.9,169.7 336.3,170.2 336.8,169.9 337.2,170.6 337.7,170.0 338.1,170.0 338.6,168.4 339.0,169.0 339.5,172.3 339.9,169.0 340.4,168.3 340.8,170.1 341.3,171.5 341.7,167.4 342.2,169.1 342.6,168.4 343.1,166.8 343.5,170.3 344.0,169.3 344.4,169.5 344.9,168.4 345.3,170.2 345.8,168.9 346.2,169.6 346.7,168.4 347.1,168.4 347.6,172.1 348.0,169.6 348.5,170.9 348.9,170.5 349.4,170.0 349.8,170.0 350.3,171.6 350.7,170.3 351.2,170.5 351.6,170.6 352.1,172.2 352.5,171.4 353.0,170.8 353.4,169.4 353.9,168.1 354.3,171.2 354.8,171.1 355.2,169.5 355.7,170.3 356.1,170.5 356.6,170.5 357.0,170.6 357.5,168.7 357.9,171.4 358.4,167.6 358.8,170.6 359.3,170.2 359.7,170.8 360.2,172.3 360.6,171.9 361.1,168.3 361.5,167.7 362.0,171.4 362.4,168.9 362.9,170.4 363.3,171.7 363.8,168.3 364.2,167.7 364.7,171.1 365.1,170.8 365.6,170.3 366.0,170.7 366.5,169.3 366.9,168.3 367.4,170.1 367.8,168.8 368.3,167.8 368.7,170.6 369.2,169.7 369.6,170.2 370.1,168.2 370.5,168.5 371.0,168.0 371.4,168.1 371.9,169.6 372.3,168.2 372.8,169.8 373.2,169.9 373.7,172.3 374.1,167.6 374.6,170.9 375.0,169.7 375.5,169.9 375.9,168.0 376.4,169.6 376.8,171.4 377.3,170.3 377.7,170.7 378.2,170.2 378.6,172.3 379.1,170.7 379.5,167.6 380.0,169.7 380.4,167.9 380.9,166.0 381.3,169.7 381.8,172.2 382.2,170.3 382.7,168.4 383.1,168.6 383.6,171.4 384.0,169.9 384.5,169.6 384.9,169.4 385.4,169.4 385.8,170.5 386.3,170.1 386.7,169.6 387.2,167.9 387.6,170.1 388.1,168.5 388.5,171.1 389.0,167.9 389.4,169.6 389.9,169.9 390.3,168.2 390.8,172.6 391.2,172.4 391.7,169.8 392.1,171.6 392.6,171.1 393.0,167.0 393.5,171.0 393.9,170.6 394.4,170.8 394.8,169.1 395.3,170.2 395.7,170.2 396.2,172.0 396.6,170.7 397.1,170.1 397.5,172.1 398.0,169.0 398.4,169.1 398.9,167.0 399.3,171.7 399.8,170.7 400.2,170.6 400.7,170.2 401.1,169.5 401.6,169.6 402.0,169.0 402.5,169.2 402.9,169.6 403.4,171.8 403.8,170.5 404.3,169.8 404.7,169.2 405.2,169.3 405.6,172.5 406.1,171.1 406.5,170.6 407.0,170.1 407.4,169.1 407.9,170.6 408.3,171.9 408.8,170.1 409.2,170.3 409.7,170.3 410.1,170.6 410.6,168.1 411.0,169.9 411.5,168.9 411.9,171.2 412.4,168.8 412.8,170.5 413.3,171.7 413.7,169.0 414.2,168.6 414.6,169.6 415.1,169.3 415.5,167.9 416.0,170.0 416.4,172.2 416.9,169.1 417.3,169.2 417.8,168.2 418.2,170.2 418.7,168.1 419.1,168.5 419.6,171.9 420.0,169.0 420.5,171.9 420.9,172.6 421.4,171.0 421.8,171.4 422.3,173.4 422.7,170.4 423.2,169.9 423.6,168.7 424.1,170.6 424.5,172.6 425.0,171.7 425.4,168.9 425.9,168.9 426.3,169.3 426.8,170.3 427.2,169.4 427.7,169.9 428.1,169.9 428.6,169.0 429.0,169.3 429.5,169.6 429.9,169.2 430.4,170.0 430.8,172.0 431.3,170.2 431.7,169.6 432.2,167.3 432.6,170.3 433.1,167.1 433.5,168.0 434.0,171.3 434.4,171.3 434.9,170.2 435.3,168.1 435.8,170.1 436.2,169.7 436.7,171.6 437.1,173.9 437.6,171.0 438.0,169.6 438.5,168.9 438.9,170.4 439.4,170.1 439.8,168.7 440.3,170.3 440.7,168.4 441.2,171.4 441.6,171.2 442.1,171.1 442.5,168.8 443.0,170.1 443.4,169.2 443.9,168.8 444.3,168.8 444.8,167.5 445.2,167.3 445.7,170.5 446.1,169.2 446.6,169.9 447.0,171.1 447.5,167.4 447.9,168.9 448.4,170.4 448.8,170.8 449.3,169.8 449.7,171.9 450.2,170.9 450.6,168.9 451.1,169.4 451.5,171.8 452.0,171.3 452.4,168.0 452.9,172.5 453.3,171.3 453.8,172.3 454.2,169.7 454.7,169.7 455.1,168.4 455.6,173.4 456.0,169.5 456.5,171.9 456.9,168.6 457.4,169.7 457.8,167.0 458.3,168.8 458.7,170.7 459.2,167.6 459.6,170.8 460.1,169.9 460.5,168.0 461.0,168.9 461.4,169.1 461.9,169.8 462.3,169.2 462.8,169.0 463.2,169.8 463.7,168.9 464.1,168.7 464.6,170.5 465.0,171.9 465.5,168.5 465.9,170.7 466.4,169.8 466.8,169.3 467.3,171.8 467.7,169.8 468.2,172.5 468.6,169.2 469.1,170.7 469.5,169.7 470.0,168.8 470.4,170.6 470.9,169.4 471.3,170.4 471.8,169.4 472.2,167.8 472.7,169.2 473.1,169.4 473.6,170.6 474.0,168.1 474.5,169.3 474.9,167.1 475.4,170.5 475.8,168.2 476.3,167.3 476.7,169.9 477.2,171.6 477.6,168.1 478.1,168.8 478.5,169.4 479.0,169.0 479.4,171.2 479.9,169.5 480.3,169.7 480.8,171.5 481.2,169.6 481.7,171.2 482.1,169.2 482.6,168.7 483.0,167.7 483.5,172.8 483.9,169.6 484.4,170.3 484.8,169.7 485.3,169.9 485.7,169.6 486.2,172.1 486.6,167.9 487.1,167.1 487.5,167.9 488.0,167.4 488.4,170.4 488.9,170.5 489.3,168.1 489.8,167.6 490.2,169.2 490.7,171.8 491.1,166.0 491.6,170.8 492.0,168.7 492.5,171.8 492.9,168.9 493.4,170.1 493.8,168.5 494.3,169.3 494.7,172.6 495.2,171.8 495.6,170.1 496.1,169.4 496.5,167.9 497.0,169.9" fill="none" stroke="#000" stroke-width="1.1"/>
<path d="M385,163 V177 M383.5,165 V175 M386.5,166 V174" stroke="#000" stroke-width="0.8"/>
<path d="M509,177 L509.8,176.0 L510.1,152.0 L511.1,162.0 L511.9,173.0 Q512.5,179.5 514.2,178.0 L514.2,175.1 L514.5,142.0 L515.6,152.0 L516.5,172.1 Q517.0,178.6 518.8,177.1 L517.0,176.9 L517.3,139.7 L518.4,149.7 L519.2,173.9 Q519.8,180.4 521.5,178.9 L521.8,175.3 L522.0,139.4 L523.1,149.4 L524.0,172.3 Q524.5,178.8 526.2,177.3 L527.8,176.2 L528.0,143.7 L529.1,153.7 L530.0,173.2 Q530.5,179.7 532.2,178.2 L533.0,176.0 L533.3,140.8 L534.4,150.8 L535.2,173.0 Q535.8,179.5 537.5,178.0 L536.0,175.6 L536.3,142.3 L537.4,152.3 L538.2,172.6 Q538.8,179.1 540.5,177.6 L542.0,176.6 L542.3,139.7 L543.4,149.7 L544.2,173.6 Q544.8,180.1 546.5,178.6 L548.8,176.0 L549.0,142.4 L550.1,152.4 L551.0,173.0 Q551.5,179.5 553.2,178.0 L556.2,176.1 L556.5,143.1 L557.6,153.1 L558.5,173.1 Q559.0,179.6 560.8,178.1 L563.0,175.4 L563.3,143.9 L564.4,153.9 L565.2,172.4 Q565.8,178.9 567.5,177.4 L569.8,176.0 L570.0,141.8 L571.1,151.8 L572.0,173.0 Q572.5,179.5 574.2,178.0 L577.2,176.2 L577.5,140.8 L578.6,150.8 L579.5,173.2 Q580.0,179.7 581.8,178.2 L584.0,176.6 L584.3,140.2 L585.4,150.2 L586.2,173.6 Q586.8,180.1 588.5,178.6 L592.2,175.3 L592.5,143.3 L593.6,153.3 L594.5,172.3 Q595.0,178.8 596.8,177.3 L599.8,175.6 L600.0,141.3 L601.1,151.3 L602.0,172.6 Q602.5,179.1 604.2,177.6 L608.0,176.8 L608.3,139.4 L609.4,149.4 L610.2,173.8 Q610.8,180.3 612.5,178.8 L614.8,175.3 L615.0,141.1 L616.1,151.1 L617.0,172.3 Q617.5,178.8 619.2,177.3 L621.6,175.4 L621.9,142.4 L623.0,152.4 L623.8,172.4 Q624.4,178.9 626.1,177.4 L629.0,175.4 L629.3,143.5 L630.4,153.5 L631.2,172.4 Q631.8,178.9 633.5,177.4 L635.4,175.4 L635.7,139.2 L636.8,149.2 L637.6,172.4 Q638.2,178.9 639.9,177.4 L643.6,175.9 L643.9,140.7 L645.0,150.7 L645.8,172.9 Q646.4,179.4 648.1,177.9 L650.0,176.4 L650.3,143.5 L651.4,153.5 L652.2,173.4 Q652.8,179.9 654.5,178.4 L657.4,175.0 L657.7,140.7 L658.8,150.7 L659.6,172.0 Q660.2,178.5 661.9,177.0 L663.9,177.0 L664.2,139.8 L665.3,149.8 L666.1,174.0 Q666.7,180.5 668.4,179.0 L672.0,176.4 L672.3,141.3 L673.4,151.3 L674.2,173.4 Q674.8,179.9 676.5,178.4 L678.2,175.1 L678.5,139.3 L679.6,149.3 L680.4,172.1 Q681.0,178.6 682.7,177.1 L683.9,176.2 L684.2,143.2 L685.3,153.2 L686.1,173.2 Q686.7,179.7 688.4,178.2 L689.9,175.6 L690.2,140.5 L691.3,150.5 L692.1,172.6 Q692.7,179.1 694.4,177.6 L700.4,175.3 L700.7,134.3 L701.8,144.3 L702.6,172.3 Q703.2,178.8 704.9,177.3 L710.7,176.7 L711.0,134.1 L712.1,144.1 L712.9,173.7 Q713.5,180.2 715.2,178.7 L722.0,175.3 L722.3,135.4 L723.4,145.4 L724.2,172.3 Q724.8,178.8 726.5,177.3 L731.0,175.4 L731.3,136.2 L732.4,146.2 L733.2,172.4 Q733.8,178.9 735.5,177.4 L739.4,172" fill="none" stroke="#000" stroke-width="1" stroke-linejoin="round"/>
<path d="M510.8,158.0 L511.6,169.0 M515.2,148.0 L516.1,168.1 M518.0,145.7 L518.9,169.9 M522.8,145.4 L523.6,168.3 M528.8,149.7 L529.6,169.2 M534.0,146.8 L534.9,169.0 M537.0,148.3 L537.9,168.6 M543.0,145.7 L543.9,169.6 M549.8,148.4 L550.6,169.0 M557.2,149.1 L558.1,169.1 M564.0,149.9 L564.9,168.4 M570.8,147.8 L571.6,169.0 M578.2,146.8 L579.1,169.2 M585.0,146.2 L585.9,169.6 M593.2,149.3 L594.1,168.3 M600.8,147.3 L601.6,168.6 M609.0,145.4 L609.9,169.8 M615.8,147.1 L616.6,168.3 M622.6,148.4 L623.5,168.4 M630.0,149.5 L630.9,168.4 M636.4,145.2 L637.3,168.4 M644.6,146.7 L645.5,168.9 M651.0,149.5 L651.9,169.4 M658.4,146.7 L659.3,168.0 M664.9,145.8 L665.8,170.0 M673.0,147.3 L673.9,169.4 M679.2,145.3 L680.1,168.1 M684.9,149.2 L685.8,169.2 M690.9,146.5 L691.8,168.6 M701.4,140.3 L702.3,168.3 M711.7,140.1 L712.6,169.7 M723.0,141.4 L723.9,168.3 M732.0,142.2 L732.9,168.4" fill="none" stroke="#000" stroke-width="1.6"/>
<text transform="translate(531.0,228.6) scale(1.2,1)" font-family="Liberation Sans, sans-serif" font-weight="bold" font-size="16.5" fill="#111">d</text>
<path d="M570.2,231.3 V355.4 M569.3000000000001,354.5 H724.5" stroke="#555" stroke-width="1.9" fill="none"/>
<line x1="567.2" x2="570.2" y1="354.5" y2="354.5" stroke="#555" stroke-width="1"/>
<text x="563.4" y="358.6" font-family="Liberation Sans, sans-serif" font-size="11.5" fill="#222" text-anchor="end">0</text>
<line x1="567.2" x2="570.2" y1="334.3" y2="334.3" stroke="#555" stroke-width="1"/>
<text x="563.4" y="338.4" font-family="Liberation Sans, sans-serif" font-size="11.5" fill="#222" text-anchor="end">1</text>
<line x1="567.2" x2="570.2" y1="314.1" y2="314.1" stroke="#555" stroke-width="1"/>
<text x="563.4" y="318.2" font-family="Liberation Sans, sans-serif" font-size="11.5" fill="#222" text-anchor="end">2</text>
<line x1="567.2" x2="570.2" y1="293.9" y2="293.9" stroke="#555" stroke-width="1"/>
<text x="563.4" y="298.0" font-family="Liberation Sans, sans-serif" font-size="11.5" fill="#222" text-anchor="end">3</text>
<line x1="567.2" x2="570.2" y1="273.7" y2="273.7" stroke="#555" stroke-width="1"/>
<text x="563.4" y="277.8" font-family="Liberation Sans, sans-serif" font-size="11.5" fill="#222" text-anchor="end">4</text>
<line x1="567.2" x2="570.2" y1="253.5" y2="253.5" stroke="#555" stroke-width="1"/>
<text x="563.4" y="257.6" font-family="Liberation Sans, sans-serif" font-size="11.5" fill="#222" text-anchor="end">5</text>
<line x1="567.2" x2="570.2" y1="233.3" y2="233.3" stroke="#555" stroke-width="1"/>
<text x="563.4" y="237.4" font-family="Liberation Sans, sans-serif" font-size="11.5" fill="#222" text-anchor="end">6</text>
<line x1="582.5" x2="582.5" y1="354.5" y2="357.5" stroke="#555" stroke-width="1"/>
<text x="582.5" y="371.2" font-family="Liberation Sans, sans-serif" font-size="11.5" fill="#222" text-anchor="middle">1</text>
<line x1="608.2" x2="608.2" y1="354.5" y2="357.5" stroke="#555" stroke-width="1"/>
<text x="608.2" y="371.2" font-family="Liberation Sans, sans-serif" font-size="11.5" fill="#222" text-anchor="middle">2</text>
<line x1="634.0" x2="634.0" y1="354.5" y2="357.5" stroke="#555" stroke-width="1"/>
<text x="634.0" y="371.2" font-family="Liberation Sans, sans-serif" font-size="11.5" fill="#222" text-anchor="middle">3</text>
<line x1="659.8" x2="659.8" y1="354.5" y2="357.5" stroke="#555" stroke-width="1"/>
<text x="659.8" y="371.2" font-family="Liberation Sans, sans-serif" font-size="11.5" fill="#222" text-anchor="middle">4</text>
<line x1="685.5" x2="685.5" y1="354.5" y2="357.5" stroke="#555" stroke-width="1"/>
<text x="685.5" y="371.2" font-family="Liberation Sans, sans-serif" font-size="11.5" fill="#222" text-anchor="middle">5</text>
<line x1="711.2" x2="711.2" y1="354.5" y2="357.5" stroke="#555" stroke-width="1"/>
<text x="711.2" y="371.2" font-family="Liberation Sans, sans-serif" font-size="11.5" fill="#222" text-anchor="middle">6</text>
<text x="645" y="385.4" font-family="Liberation Sans, sans-serif" font-size="11.5" fill="#222" text-anchor="middle">Time (h)</text>
<text transform="translate(549.2,299.5) rotate(-90)" font-family="Liberation Sans, sans-serif" font-size="11" fill="#222" text-anchor="middle" textLength="122" lengthAdjust="spacingAndGlyphs">Uptake ratio (I.H./C.H.)</text>
<polyline points="582.5,283.8 608.2,270.7 711.2,313.7" fill="none" stroke="#ee2a2a" stroke-width="1.6"/>
<path d="M582.5,271.4 V295.5 M581.0,271.4 h3 M581.0,295.5 h3" stroke="#ee2a2a" stroke-width="0.7" fill="none" opacity="0.8"/>
<path d="M608.2,254.9 V285 M606.8,254.9 h3 M606.8,285 h3" stroke="#ee2a2a" stroke-width="0.7" fill="none" opacity="0.8"/>
<path d="M711.2,301 V327.5 M709.8,301 h3 M709.8,327.5 h3" stroke="#ee2a2a" stroke-width="0.7" fill="none" opacity="0.8"/>
<polyline points="582.5,326.6 608.2,317.3 711.2,327.6" fill="none" stroke="#444" stroke-width="1.5"/>
<path d="M608.2,310.5 V322.5 M606.8,310.5 h3 M606.8,322.5 h3" stroke="#444" stroke-width="0.7" fill="none" opacity="0.8"/>
<path d="M711.2,320 V333.7 M709.8,320 h3 M709.8,333.7 h3" stroke="#444" stroke-width="0.7" fill="none" opacity="0.8"/>
<path d="M582.5,324.5 V328 M581.0,324.5 h3 M581.0,328 h3" stroke="#444" stroke-width="0.7" fill="none" opacity="0.8"/>
<text x="583" y="265" font-family="Liberation Sans, sans-serif" font-weight="bold" font-size="11" fill="#222" text-anchor="middle">**</text>
<text x="609.5" y="246.3" font-family="Liberation Sans, sans-serif" font-weight="bold" font-size="11" fill="#222" text-anchor="middle">**</text>
<text x="702.6" y="289.6" font-family="Liberation Sans, sans-serif" font-size="11.5" fill="#222">NS</text>
<line x1="627" x2="642.7" y1="234" y2="234" stroke="#ee2a2a" stroke-width="1.7"/>
<line x1="627" x2="642.7" y1="249.8" y2="249.8" stroke="#444" stroke-width="1.7"/>
<text x="646.4" y="235" font-family="Liberation Sans, sans-serif" font-size="7.6" fill="#222">99m</text>
<text x="663.6" y="239.4" font-family="Liberation Sans, sans-serif" font-size="11.4" fill="#222" textLength="75" lengthAdjust="spacingAndGlyphs">Tc-ACS@AuS</text>
<text x="646.4" y="250.6" font-family="Liberation Sans, sans-serif" font-size="7.6" fill="#222">99m</text>
<text x="664.2" y="255.2" font-family="Liberation Sans, sans-serif" font-size="11.4" fill="#222" textLength="67" lengthAdjust="spacingAndGlyphs">Tc-CS@AuS</text>
<text x="481.6" y="406.4" font-family="Liberation Sans, sans-serif" font-weight="bold" font-size="16" fill="#111">e</text>
<rect x="526.1" y="541.6" width="8.2" height="2.7" fill="#f9c796" stroke="#555" stroke-width="0.6"/>
<path d="M530.2,540.8 V542.3 M528.7,540.8 h3" stroke="#333" stroke-width="0.8" fill="none"/>
<rect x="534.3" y="542.2" width="8.2" height="2.1" fill="#94d894" stroke="#555" stroke-width="0.6"/>
<path d="M538.4,541.7 V542.7 M536.9,541.7 h3" stroke="#333" stroke-width="0.8" fill="none"/>
<text transform="translate(543.7,553.2) rotate(-44)" font-family="Liberation Sans, sans-serif" font-size="11.6" fill="#222" text-anchor="end">Heart</text>
<line x1="534.3" x2="534.3" y1="544.3" y2="546.8" stroke="#222" stroke-width="1"/>
<rect x="545.8" y="503.7" width="8.2" height="40.6" fill="#f9c796" stroke="#555" stroke-width="0.6"/>
<path d="M549.9,471.9 V503.7 M548.4,471.9 h3" stroke="#333" stroke-width="0.8" fill="none"/>
<rect x="554.0" y="498.1" width="8.2" height="46.2" fill="#94d894" stroke="#555" stroke-width="0.6"/>
<path d="M558.1,473.6 V498.1 M556.6,473.6 h3" stroke="#333" stroke-width="0.8" fill="none"/>
<text transform="translate(563.4,553.2) rotate(-44)" font-family="Liberation Sans, sans-serif" font-size="11.6" fill="#222" text-anchor="end">Liver</text>
<line x1="554.0" x2="554.0" y1="544.3" y2="546.8" stroke="#222" stroke-width="1"/>
<rect x="565.6" y="442.5" width="8.2" height="101.8" fill="#f9c796" stroke="#555" stroke-width="0.6"/>
<path d="M569.7,410.7 V474.3 M568.2,410.7 h3" stroke="#333" stroke-width="0.8" fill="none"/>
<rect x="573.8" y="462.6" width="8.2" height="81.7" fill="#94d894" stroke="#555" stroke-width="0.6"/>
<path d="M577.9,411.2 V514.0 M576.4,411.2 h3" stroke="#333" stroke-width="0.8" fill="none"/>
<text transform="translate(583.2,553.2) rotate(-44)" font-family="Liberation Sans, sans-serif" font-size="11.6" fill="#222" text-anchor="end">Spleen</text>
<line x1="573.8" x2="573.8" y1="544.3" y2="546.8" stroke="#222" stroke-width="1"/>
<rect x="585.3" y="534.4" width="8.2" height="9.9" fill="#f9c796" stroke="#555" stroke-width="0.6"/>
<path d="M589.4,531.4 V537.4 M587.9,531.4 h3" stroke="#333" stroke-width="0.8" fill="none"/>
<rect x="593.5" y="536.4" width="8.2" height="7.9" fill="#94d894" stroke="#555" stroke-width="0.6"/>
<path d="M597.6,534.9 V537.9 M596.1,534.9 h3" stroke="#333" stroke-width="0.8" fill="none"/>
<text transform="translate(602.9,553.2) rotate(-44)" font-family="Liberation Sans, sans-serif" font-size="11.6" fill="#222" text-anchor="end">Lung</text>
<line x1="593.5" x2="593.5" y1="544.3" y2="546.8" stroke="#222" stroke-width="1"/>
<rect x="605.1" y="534.9" width="8.2" height="9.4" fill="#f9c796" stroke="#555" stroke-width="0.6"/>
<path d="M609.2,533.9 V535.9 M607.7,533.9 h3" stroke="#333" stroke-width="0.8" fill="none"/>
<rect x="613.3" y="536.6" width="8.2" height="7.7" fill="#94d894" stroke="#555" stroke-width="0.6"/>
<path d="M617.4,534.1 V539.1 M615.9,534.1 h3" stroke="#333" stroke-width="0.8" fill="none"/>
<text transform="translate(622.7,553.2) rotate(-44)" font-family="Liberation Sans, sans-serif" font-size="11.6" fill="#222" text-anchor="end">Kidney</text>
<line x1="613.3" x2="613.3" y1="544.3" y2="546.8" stroke="#222" stroke-width="1"/>
<rect x="624.8" y="540.1" width="8.2" height="4.2" fill="#f9c796" stroke="#555" stroke-width="0.6"/>
<path d="M628.9,539.6 V540.6 M627.4,539.6 h3" stroke="#333" stroke-width="0.8" fill="none"/>
<rect x="633.0" y="539.8" width="8.2" height="4.5" fill="#94d894" stroke="#555" stroke-width="0.6"/>
<path d="M637.1,539.3 V540.3 M635.6,539.3 h3" stroke="#333" stroke-width="0.8" fill="none"/>
<text transform="translate(642.4,553.2) rotate(-44)" font-family="Liberation Sans, sans-serif" font-size="11.6" fill="#222" text-anchor="end">Stomach</text>
<line x1="633.0" x2="633.0" y1="544.3" y2="546.8" stroke="#222" stroke-width="1"/>
<rect x="644.6" y="540.6" width="8.2" height="3.7" fill="#f9c796" stroke="#555" stroke-width="0.6"/>
<path d="M648.7,539.6 V541.6 M647.2,539.6 h3" stroke="#333" stroke-width="0.8" fill="none"/>
<rect x="652.8" y="541.0" width="8.2" height="3.3" fill="#94d894" stroke="#555" stroke-width="0.6"/>
<path d="M656.9,540.2 V541.7 M655.4,540.2 h3" stroke="#333" stroke-width="0.8" fill="none"/>
<text transform="translate(662.2,553.2) rotate(-44)" font-family="Liberation Sans, sans-serif" font-size="11.6" fill="#222" text-anchor="end">Intestine</text>
<line x1="652.8" x2="652.8" y1="544.3" y2="546.8" stroke="#222" stroke-width="1"/>
<rect x="664.3" y="540.8" width="8.2" height="3.5" fill="#f9c796" stroke="#555" stroke-width="0.6"/>
<path d="M668.4,538.8 V542.8 M666.9,538.8 h3" stroke="#333" stroke-width="0.8" fill="none"/>
<rect x="672.5" y="540.8" width="8.2" height="3.5" fill="#94d894" stroke="#555" stroke-width="0.6"/>
<path d="M676.6,538.8 V542.8 M675.1,538.8 h3" stroke="#333" stroke-width="0.8" fill="none"/>
<text transform="translate(681.9,553.2) rotate(-44)" font-family="Liberation Sans, sans-serif" font-size="11.6" fill="#222" text-anchor="end">Thyroid</text>
<line x1="672.5" x2="672.5" y1="544.3" y2="546.8" stroke="#222" stroke-width="1"/>
<rect x="684.1" y="541.8" width="8.2" height="2.5" fill="#f9c796" stroke="#555" stroke-width="0.6"/>
<path d="M688.2,541.3 V542.3 M686.7,541.3 h3" stroke="#333" stroke-width="0.8" fill="none"/>
<rect x="692.3" y="540.3" width="8.2" height="4.0" fill="#94d894" stroke="#555" stroke-width="0.6"/>
<path d="M696.4,539.8 V540.8 M694.9,539.8 h3" stroke="#333" stroke-width="0.8" fill="none"/>
<text transform="translate(701.7,553.2) rotate(-44)" font-family="Liberation Sans, sans-serif" font-size="11.6" fill="#222" text-anchor="end">I.H.</text>
<line x1="692.3" x2="692.3" y1="544.3" y2="546.8" stroke="#222" stroke-width="1"/>
<rect x="703.8" y="542.6" width="8.2" height="1.7" fill="#f9c796" stroke="#555" stroke-width="0.6"/>
<path d="M707.9,542.3 V542.8 M706.4,542.3 h3" stroke="#333" stroke-width="0.8" fill="none"/>
<rect x="712.0" y="542.8" width="8.2" height="1.5" fill="#94d894" stroke="#555" stroke-width="0.6"/>
<path d="M716.1,542.6 V543.1 M714.6,542.6 h3" stroke="#333" stroke-width="0.8" fill="none"/>
<text transform="translate(721.4,553.2) rotate(-44)" font-family="Liberation Sans, sans-serif" font-size="11.6" fill="#222" text-anchor="end">C.H.</text>
<line x1="712.0" x2="712.0" y1="544.3" y2="546.8" stroke="#222" stroke-width="1"/>
<rect x="723.6" y="542.8" width="8.2" height="1.5" fill="#f9c796" stroke="#555" stroke-width="0.6"/>
<path d="M727.7,542.6 V543.1 M726.2,542.6 h3" stroke="#333" stroke-width="0.8" fill="none"/>
<rect x="731.8" y="543.3" width="8.2" height="1.0" fill="#94d894" stroke="#555" stroke-width="0.6"/>
<path d="M735.9,543.1 V543.6 M734.4,543.1 h3" stroke="#333" stroke-width="0.8" fill="none"/>
<text transform="translate(741.2,553.2) rotate(-44)" font-family="Liberation Sans, sans-serif" font-size="11.6" fill="#222" text-anchor="end">W.B.</text>
<line x1="731.8" x2="731.8" y1="544.3" y2="546.8" stroke="#222" stroke-width="1"/>
<rect x="540" y="514.2" width="45" height="2.4" fill="#fff"/>
<path d="M524.5,404.2 V513.6 M524.5,517.6 V544.3 H742.4" stroke="#222" stroke-width="1.6" fill="none"/>
<path d="M521.5,514.8 L527.5,512.4 M521.5,518.8 L527.5,516.4" stroke="#222" stroke-width="1.2" fill="none"/>
<line x1="521.3" x2="524.5" y1="404.6" y2="404.6" stroke="#222" stroke-width="1.1"/>
<text x="516.2" y="408.7" font-family="Liberation Sans, sans-serif" font-size="11.5" fill="#222" text-anchor="end">100</text>
<line x1="521.3" x2="524.5" y1="429.1" y2="429.1" stroke="#222" stroke-width="1.1"/>
<text x="516.2" y="433.2" font-family="Liberation Sans, sans-serif" font-size="11.5" fill="#222" text-anchor="end">90</text>
<line x1="521.3" x2="524.5" y1="453.5" y2="453.5" stroke="#222" stroke-width="1.1"/>
<text x="516.2" y="457.6" font-family="Liberation Sans, sans-serif" font-size="11.5" fill="#222" text-anchor="end">80</text>
<line x1="521.3" x2="524.5" y1="478.0" y2="478.0" stroke="#222" stroke-width="1.1"/>
<text x="516.2" y="482.1" font-family="Liberation Sans, sans-serif" font-size="11.5" fill="#222" text-anchor="end">70</text>
<line x1="521.3" x2="524.5" y1="502.5" y2="502.5" stroke="#222" stroke-width="1.1"/>
<text x="516.2" y="506.6" font-family="Liberation Sans, sans-serif" font-size="11.5" fill="#222" text-anchor="end">60</text>
<line x1="521.3" x2="524.5" y1="520.4" y2="520.4" stroke="#222" stroke-width="1.1"/>
<text x="516.2" y="524.5" font-family="Liberation Sans, sans-serif" font-size="11.5" fill="#222" text-anchor="end">10</text>
<line x1="521.3" x2="524.5" y1="544.3" y2="544.3" stroke="#222" stroke-width="1.1"/>
<text x="516.2" y="548.4" font-family="Liberation Sans, sans-serif" font-size="11.5" fill="#222" text-anchor="end">0</text>
<text transform="translate(497,470.6) rotate(-90)" font-family="Liberation Sans, sans-serif" font-size="11.5" fill="#222" text-anchor="middle" textLength="86" lengthAdjust="spacingAndGlyphs">Uptake (ID%/g)</text>
<line x1="685" x2="700" y1="532.3" y2="532.3" stroke="#aaa" stroke-width="0.8"/>
<text x="692.3" y="530.8" font-family="Liberation Sans, sans-serif" font-weight="bold" font-size="10" fill="#222" text-anchor="middle">**</text>
<rect x="623.3" y="415.5" width="19.8" height="10.7" fill="#f9c796" stroke="#333" stroke-width="0.8"/>
<rect x="623.3" y="431.2" width="19.8" height="10.8" fill="#94d894" stroke="#333" stroke-width="0.8"/>
<text x="646.4" y="420.4" font-family="Liberation Sans, sans-serif" font-size="7.6" fill="#222">99m</text>
<text x="664" y="424.8" font-family="Liberation Sans, sans-serif" font-size="11.5" fill="#222" textLength="66" lengthAdjust="spacingAndGlyphs">Tc-CS@AuS</text>
<text x="646.4" y="435.4" font-family="Liberation Sans, sans-serif" font-size="7.6" fill="#222">99m</text>
<text x="664" y="439.8" font-family="Liberation Sans, sans-serif" font-size="11.5" fill="#222" textLength="75.4" lengthAdjust="spacingAndGlyphs">Tc-ACS@AuS</text>
</g>
</svg>
</body></html>
